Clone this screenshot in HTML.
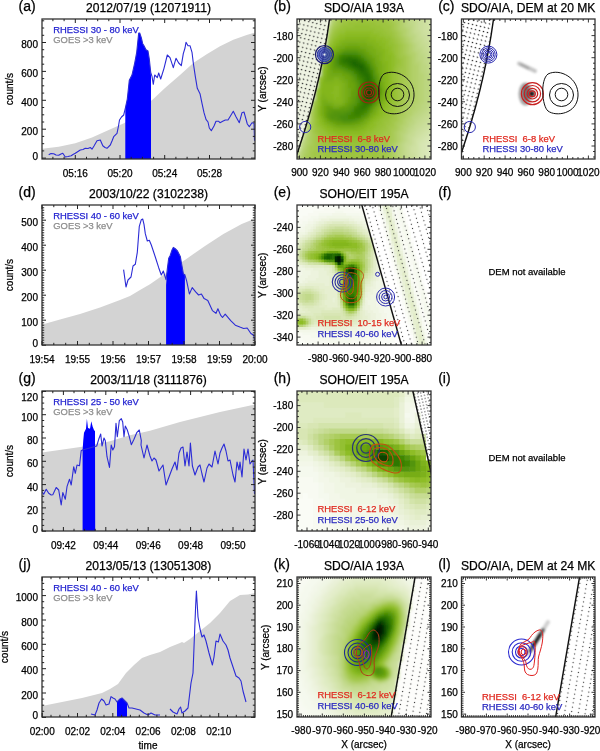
<!DOCTYPE html>
<html><head><meta charset="utf-8"><style>
html,body{margin:0;padding:0;background:#fff;}
svg{display:block;filter:blur(0.3px);}
text{font-family:"Liberation Sans", sans-serif;}
</style></head><body>
<svg width="600" height="751" viewBox="0 0 600 751">
<rect width="600" height="751" fill="#fff"/>
<g>
<clipPath id="cl0"><rect x="42" y="19" width="213" height="140"/></clipPath>
<g clip-path="url(#cl0)">
<polygon points="42.0,159.0 42.0,148.7 58.7,146.7 75.3,143.3 92.0,137.5 108.7,130.0 124.5,123.0 140.0,110.0 153.3,99.0 165.0,88.0 180.0,75.0 193.3,63.0 206.7,54.3 220.0,46.3 233.3,39.7 246.7,35.0 255.0,32.5 255.0,159.0" fill="#d3d3d3"/>
<polygon points="125.3,159.0 125.3,108.3 127.3,99.0 129.3,80.3 132.0,75.0 134.7,63.0 136.7,52.3 138.7,33.0 139.7,33.0 141.3,37.7 142.7,43.7 144.0,45.7 146.0,49.7 148.0,51.0 149.3,59.0 150.7,72.3 151.0,76.0 151.0,159.0" fill="#0000ff"/>
<polyline points="48.7,154.7 51.0,153.5 53.7,153.7 56.0,155.0 58.7,155.3 61.0,154.0 62.8,153.3 65.3,157.0 68.0,156.5 71.2,155.8 73.0,154.5 75.3,153.3 78.0,151.5 80.3,150.0 83.0,149.5 85.3,148.3 88.0,148.5 90.3,147.5 92.0,149.2 94.0,146.0 97.0,140.8 100.3,140.0 102.8,145.8 105.0,147.5 107.0,148.3 110.3,145.0 112.0,141.0 113.7,136.7 117.0,133.3 118.5,126.0 119.5,120.0 121.5,117.0 123.7,115.0 125.3,108.3 127.3,99.0 129.3,80.3 132.0,75.0 134.7,63.0 136.7,52.3 138.7,33.0 139.7,33.0 141.3,37.7 142.7,43.7 144.0,45.7 146.0,49.7 148.0,51.0 149.3,59.0 150.7,72.3 152.0,76.3 153.3,84.3 154.7,75.0 157.3,77.7 158.7,73.0 160.7,79.0 164.0,68.3 167.3,55.0 170.0,57.7 173.3,67.7 176.0,58.3 178.7,63.0 181.3,65.7 183.3,53.7 185.0,48.0 186.0,42.3 188.0,45.7 190.0,45.7 192.0,52.3 193.3,63.0 195.3,76.3 197.3,88.3 200.0,93.7 202.0,103.3 204.0,112.7 206.0,119.3 208.0,122.0 209.3,128.0 211.3,130.7 214.0,126.0 216.0,121.3 218.7,121.3 220.0,122.7 222.7,121.3 225.3,120.0 228.0,120.0 230.0,116.7 233.3,111.3 236.0,116.7 239.3,122.7 242.0,112.7 244.0,112.0 245.3,116.7 247.3,124.0 249.3,126.7 252.0,122.7 254.0,123.3 254.5,140.7" fill="none" stroke="#2b2bd6" stroke-width="1.1" stroke-linejoin="round"/>
</g>
<rect x="42" y="19" width="213" height="140" fill="none" stroke="#333" stroke-width="1.3"/>
<path d="M42,158.1h4M255,158.1h-4M42,129.2h4M255,129.2h-4M42,100.3h4M255,100.3h-4M42,71.4h4M255,71.4h-4M42,42.5h4M255,42.5h-4M42,150.9h2.2M255,150.9h-2.2M42,143.7h2.2M255,143.7h-2.2M42,136.4h2.2M255,136.4h-2.2M42,122.0h2.2M255,122.0h-2.2M42,114.8h2.2M255,114.8h-2.2M42,107.5h2.2M255,107.5h-2.2M42,93.1h2.2M255,93.1h-2.2M42,85.8h2.2M255,85.8h-2.2M42,78.6h2.2M255,78.6h-2.2M42,64.2h2.2M255,64.2h-2.2M42,56.9h2.2M255,56.9h-2.2M42,49.7h2.2M255,49.7h-2.2M42,35.3h2.2M255,35.3h-2.2M42,28.0h2.2M255,28.0h-2.2M42,20.8h2.2M255,20.8h-2.2" stroke="#222" stroke-width="1" fill="none"/>
<path d="M75.3,159v-4M75.3,19v4M120.0,159v-4M120.0,19v4M164.7,159v-4M164.7,19v4M209.5,159v-4M209.5,19v4M52.9,159v-2.2M52.9,19v2.2M64.1,159v-2.2M64.1,19v2.2M86.5,159v-2.2M86.5,19v2.2M97.7,159v-2.2M97.7,19v2.2M108.8,159v-2.2M108.8,19v2.2M131.2,159v-2.2M131.2,19v2.2M142.4,159v-2.2M142.4,19v2.2M153.6,159v-2.2M153.6,19v2.2M175.9,159v-2.2M175.9,19v2.2M187.1,159v-2.2M187.1,19v2.2M198.3,159v-2.2M198.3,19v2.2M220.6,159v-2.2M220.6,19v2.2M231.8,159v-2.2M231.8,19v2.2M243.0,159v-2.2M243.0,19v2.2" stroke="#222" stroke-width="1" fill="none"/>
<text x="53.3" y="33.0" font-size="9.4" text-anchor="start" fill="#2323d0" stroke="#2323d0" stroke-width="0.25" >RHESSI 30 - 80 keV</text>
<text x="53.3" y="43.4" font-size="9.4" text-anchor="start" fill="#8c8c8c" stroke="#8c8c8c" stroke-width="0.25" >GOES &gt;3 keV</text>
<text x="148.5" y="12.3" font-size="12.1" text-anchor="middle" fill="#000" stroke="#000" stroke-width="0.25" >2012/07/19 (12071911)</text>
<text x="18.5" y="10.8" font-size="14" text-anchor="start" fill="#000" stroke="#000" stroke-width="0.25" >(a)</text>
<text x="38.0" y="160.1" font-size="10.0" text-anchor="end" fill="#000" stroke="#000" stroke-width="0.25" >0</text>
<text x="38.0" y="134.8" font-size="10.0" text-anchor="end" fill="#000" stroke="#000" stroke-width="0.25" >200</text>
<text x="38.0" y="105.9" font-size="10.0" text-anchor="end" fill="#000" stroke="#000" stroke-width="0.25" >400</text>
<text x="38.0" y="77.0" font-size="10.0" text-anchor="end" fill="#000" stroke="#000" stroke-width="0.25" >600</text>
<text x="38.0" y="48.1" font-size="10.0" text-anchor="end" fill="#000" stroke="#000" stroke-width="0.25" >800</text>
<text x="75.3" y="176.5" font-size="10.0" text-anchor="middle" fill="#000" stroke="#000" stroke-width="0.25" >05:16</text>
<text x="120.0" y="176.5" font-size="10.0" text-anchor="middle" fill="#000" stroke="#000" stroke-width="0.25" >05:20</text>
<text x="164.7" y="176.5" font-size="10.0" text-anchor="middle" fill="#000" stroke="#000" stroke-width="0.25" >05:24</text>
<text x="209.5" y="176.5" font-size="10.0" text-anchor="middle" fill="#000" stroke="#000" stroke-width="0.25" >05:28</text>
<text transform="translate(12.6,89) rotate(-90)" font-size="10.0" text-anchor="middle" stroke="#000" stroke-width="0.25">count/s</text>
</g>
<g>
<clipPath id="cl1"><rect x="42" y="205" width="213" height="140"/></clipPath>
<g clip-path="url(#cl1)">
<polygon points="42.0,345.0 42.4,324.4 60.0,319.6 80.0,314.0 100.0,307.6 120.0,300.0 130.0,296.0 140.0,290.0 150.0,284.2 168.3,271.6 186.7,258.7 205.0,245.9 223.4,234.0 241.7,223.9 250.9,220.2 255.0,219.5 255.0,345.0" fill="#d3d3d3"/>
<polygon points="166.1,345.0 166.1,285.0 167.4,268.3 168.7,258.3 170.2,255.5 172.0,250.0 173.3,247.4 175.0,248.5 177.5,251.0 180.3,256.4 181.3,262.3 182.1,266.5 183.4,273.9 184.9,274.8 184.9,345.0" fill="#0000ff"/>
<polyline points="123.6,269.6 126.0,287.0 128.0,280.0 131.0,277.0 133.0,266.0 135.3,264.3 137.3,252.3 139.3,226.3 141.3,219.7 142.7,219.0 144.0,224.3 145.3,233.7 147.3,241.0 149.3,240.3 151.3,245.0 155.3,257.0 158.7,267.7 161.3,275.0 163.3,271.0 166.0,279.7 167.4,268.3 168.7,258.3 170.2,255.5 172.0,250.0 173.3,247.4 175.0,248.5 177.5,251.0 180.3,256.4 181.3,262.3 182.1,266.5 183.4,273.9 184.9,274.8 186.7,281.2 189.4,294.0 192.2,287.6 195.9,292.2 198.6,295.0 201.4,294.0 204.1,298.6 207.8,300.5 212.4,310.6 216.0,313.3 217.9,308.7 220.6,315.1 222.5,317.5 225.2,314.2 230.7,320.6 235.3,325.2 239.9,327.1 243.6,328.5 247.2,328.0 250.9,333.5 253.7,335.3 254.6,340.0" fill="none" stroke="#2b2bd6" stroke-width="1.1" stroke-linejoin="round"/>
</g>
<rect x="42" y="205" width="213" height="140" fill="none" stroke="#333" stroke-width="1.3"/>
<path d="M42,345.2h4M255,345.2h-4M42,320.2h4M255,320.2h-4M42,295.2h4M255,295.2h-4M42,270.2h4M255,270.2h-4M42,245.2h4M255,245.2h-4M42,220.2h4M255,220.2h-4M42,342.8h2.2M255,342.8h-2.2M42,340.2h2.2M255,340.2h-2.2M42,337.8h2.2M255,337.8h-2.2M42,335.2h2.2M255,335.2h-2.2M42,332.8h2.2M255,332.8h-2.2M42,330.2h2.2M255,330.2h-2.2M42,327.8h2.2M255,327.8h-2.2M42,325.2h2.2M255,325.2h-2.2M42,322.8h2.2M255,322.8h-2.2M42,317.8h2.2M255,317.8h-2.2M42,315.2h2.2M255,315.2h-2.2M42,312.8h2.2M255,312.8h-2.2M42,310.2h2.2M255,310.2h-2.2M42,307.8h2.2M255,307.8h-2.2M42,305.2h2.2M255,305.2h-2.2M42,302.8h2.2M255,302.8h-2.2M42,300.2h2.2M255,300.2h-2.2M42,297.8h2.2M255,297.8h-2.2M42,292.8h2.2M255,292.8h-2.2M42,290.2h2.2M255,290.2h-2.2M42,287.8h2.2M255,287.8h-2.2M42,285.2h2.2M255,285.2h-2.2M42,282.8h2.2M255,282.8h-2.2M42,280.2h2.2M255,280.2h-2.2M42,277.8h2.2M255,277.8h-2.2M42,275.2h2.2M255,275.2h-2.2M42,272.8h2.2M255,272.8h-2.2M42,267.8h2.2M255,267.8h-2.2M42,265.2h2.2M255,265.2h-2.2M42,262.8h2.2M255,262.8h-2.2M42,260.2h2.2M255,260.2h-2.2M42,257.8h2.2M255,257.8h-2.2M42,255.2h2.2M255,255.2h-2.2M42,252.8h2.2M255,252.8h-2.2M42,250.2h2.2M255,250.2h-2.2M42,247.8h2.2M255,247.8h-2.2M42,242.8h2.2M255,242.8h-2.2M42,240.2h2.2M255,240.2h-2.2M42,237.8h2.2M255,237.8h-2.2M42,235.2h2.2M255,235.2h-2.2M42,232.8h2.2M255,232.8h-2.2M42,230.2h2.2M255,230.2h-2.2M42,227.8h2.2M255,227.8h-2.2M42,225.2h2.2M255,225.2h-2.2M42,222.8h2.2M255,222.8h-2.2M42,217.8h2.2M255,217.8h-2.2M42,215.2h2.2M255,215.2h-2.2M42,212.8h2.2M255,212.8h-2.2M42,210.2h2.2M255,210.2h-2.2M42,207.8h2.2M255,207.8h-2.2" stroke="#222" stroke-width="1" fill="none"/>
<path d="M42.0,345v-4M42.0,205v4M77.5,345v-4M77.5,205v4M113.0,345v-4M113.0,205v4M148.5,345v-4M148.5,205v4M184.0,345v-4M184.0,205v4M219.5,345v-4M219.5,205v4M255.0,345v-4M255.0,205v4M53.8,345v-2.2M53.8,205v2.2M65.7,345v-2.2M65.7,205v2.2M89.3,345v-2.2M89.3,205v2.2M101.2,345v-2.2M101.2,205v2.2M124.8,345v-2.2M124.8,205v2.2M136.7,345v-2.2M136.7,205v2.2M160.3,345v-2.2M160.3,205v2.2M172.2,345v-2.2M172.2,205v2.2M195.8,345v-2.2M195.8,205v2.2M207.7,345v-2.2M207.7,205v2.2M231.3,345v-2.2M231.3,205v2.2M243.2,345v-2.2M243.2,205v2.2" stroke="#222" stroke-width="1" fill="none"/>
<text x="53.3" y="219.0" font-size="9.4" text-anchor="start" fill="#2323d0" stroke="#2323d0" stroke-width="0.25" >RHESSI 40 - 60 keV</text>
<text x="53.3" y="229.4" font-size="9.4" text-anchor="start" fill="#8c8c8c" stroke="#8c8c8c" stroke-width="0.25" >GOES &gt;3 keV</text>
<text x="148.5" y="198.3" font-size="12.1" text-anchor="middle" fill="#000" stroke="#000" stroke-width="0.25" >2003/10/22 (3102238)</text>
<text x="18.5" y="196.8" font-size="14" text-anchor="start" fill="#000" stroke="#000" stroke-width="0.25" >(d)</text>
<text x="38.0" y="346.5" font-size="10.0" text-anchor="end" fill="#000" stroke="#000" stroke-width="0.25" >0</text>
<text x="38.0" y="326.1" font-size="10.0" text-anchor="end" fill="#000" stroke="#000" stroke-width="0.25" >100</text>
<text x="38.0" y="301.1" font-size="10.0" text-anchor="end" fill="#000" stroke="#000" stroke-width="0.25" >200</text>
<text x="38.0" y="276.1" font-size="10.0" text-anchor="end" fill="#000" stroke="#000" stroke-width="0.25" >300</text>
<text x="38.0" y="251.0" font-size="10.0" text-anchor="end" fill="#000" stroke="#000" stroke-width="0.25" >400</text>
<text x="38.0" y="226.0" font-size="10.0" text-anchor="end" fill="#000" stroke="#000" stroke-width="0.25" >500</text>
<text x="42.0" y="362.5" font-size="10.0" text-anchor="middle" fill="#000" stroke="#000" stroke-width="0.25" >19:54</text>
<text x="77.5" y="362.5" font-size="10.0" text-anchor="middle" fill="#000" stroke="#000" stroke-width="0.25" >19:55</text>
<text x="113.0" y="362.5" font-size="10.0" text-anchor="middle" fill="#000" stroke="#000" stroke-width="0.25" >19:56</text>
<text x="148.5" y="362.5" font-size="10.0" text-anchor="middle" fill="#000" stroke="#000" stroke-width="0.25" >19:57</text>
<text x="184.0" y="362.5" font-size="10.0" text-anchor="middle" fill="#000" stroke="#000" stroke-width="0.25" >19:58</text>
<text x="219.5" y="362.5" font-size="10.0" text-anchor="middle" fill="#000" stroke="#000" stroke-width="0.25" >19:59</text>
<text x="255.0" y="362.5" font-size="10.0" text-anchor="middle" fill="#000" stroke="#000" stroke-width="0.25" >20:00</text>
<text transform="translate(12.6,275) rotate(-90)" font-size="10.0" text-anchor="middle" stroke="#000" stroke-width="0.25">count/s</text>
</g>
<g>
<clipPath id="cl2"><rect x="42" y="391" width="213" height="140"/></clipPath>
<g clip-path="url(#cl2)">
<polygon points="42.0,531.0 42.0,452.5 82.0,446.7 110.0,441.3 130.0,435.3 140.0,433.0 150.0,430.7 180.0,422.0 220.0,412.0 255.0,404.5 255.0,531.0" fill="#d3d3d3"/>
<polygon points="82.6,531.0 82.6,450.0 83.3,440.0 84.0,432.7 86.0,428.7 86.9,418.7 88.0,428.0 90.0,428.7 91.3,421.3 92.7,426.7 94.0,430.0 95.0,431.3 95.2,531.0" fill="#0000ff"/>
<polyline points="42.0,491.7 43.7,494.2 46.2,489.2 48.7,493.3 51.2,495.0 52.8,494.7 56.2,487.5 58.7,490.0 61.2,505.0 62.8,492.5 65.3,499.2 67.0,486.7 69.5,479.2 71.2,485.0 73.7,466.7 75.3,473.3 77.0,465.0 79.5,465.8 81.2,450.8 82.6,450.0 96.7,446.0 98.7,439.3 100.7,434.0 102.0,446.0 104.0,438.0 105.3,440.7 107.0,456.7 109.5,467.5 111.2,445.0 112.8,450.0 114.5,446.7 116.0,423.3 117.3,436.7 119.3,420.7 121.3,418.7 122.7,422.0 124.0,436.7 125.3,426.0 127.3,430.0 129.3,436.7 131.3,444.7 134.0,439.3 136.7,432.7 139.3,430.0 141.3,440.7 141.0,445.0 144.0,458.0 147.0,445.0 150.0,456.0 152.0,461.0 154.0,458.0 156.0,460.0 159.0,471.0 163.0,465.0 166.0,485.0 169.0,477.0 172.0,469.0 175.0,462.0 177.0,470.0 179.0,453.0 181.0,448.0 183.0,447.0 185.0,466.0 187.0,452.0 189.0,466.0 190.4,443.0 192.4,466.0 195.0,475.0 198.0,467.0 200.0,465.0 202.0,474.0 204.0,482.0 207.0,468.0 209.0,464.0 212.0,467.0 215.0,451.0 218.0,464.0 220.0,453.0 222.0,448.0 224.0,444.0 226.0,451.0 228.0,461.0 230.0,460.0 233.0,475.0 235.0,482.0 237.0,462.0 239.0,470.0 240.0,462.0 242.0,477.0 244.0,449.0 246.0,460.0 248.0,449.0 250.0,464.0 253.0,460.0 254.5,494.0" fill="none" stroke="#2b2bd6" stroke-width="1.1" stroke-linejoin="round"/>
</g>
<rect x="42" y="391" width="213" height="140" fill="none" stroke="#333" stroke-width="1.3"/>
<path d="M42,531.2h4M255,531.2h-4M42,507.9h4M255,507.9h-4M42,484.6h4M255,484.6h-4M42,461.3h4M255,461.3h-4M42,438.0h4M255,438.0h-4M42,414.7h4M255,414.7h-4M42,391.4h4M255,391.4h-4M42,525.4h2.2M255,525.4h-2.2M42,519.6h2.2M255,519.6h-2.2M42,513.7h2.2M255,513.7h-2.2M42,502.1h2.2M255,502.1h-2.2M42,496.3h2.2M255,496.3h-2.2M42,490.4h2.2M255,490.4h-2.2M42,478.8h2.2M255,478.8h-2.2M42,473.0h2.2M255,473.0h-2.2M42,467.1h2.2M255,467.1h-2.2M42,455.5h2.2M255,455.5h-2.2M42,449.7h2.2M255,449.7h-2.2M42,443.8h2.2M255,443.8h-2.2M42,432.2h2.2M255,432.2h-2.2M42,426.4h2.2M255,426.4h-2.2M42,420.5h2.2M255,420.5h-2.2M42,408.9h2.2M255,408.9h-2.2M42,403.1h2.2M255,403.1h-2.2M42,397.2h2.2M255,397.2h-2.2" stroke="#222" stroke-width="1" fill="none"/>
<path d="M63.4,531v-4M63.4,391v4M105.8,531v-4M105.8,391v4M148.2,531v-4M148.2,391v4M190.6,531v-4M190.6,391v4M233.0,531v-4M233.0,391v4M42.2,531v-2.2M42.2,391v2.2M52.8,531v-2.2M52.8,391v2.2M74.0,531v-2.2M74.0,391v2.2M84.6,531v-2.2M84.6,391v2.2M95.2,531v-2.2M95.2,391v2.2M116.4,531v-2.2M116.4,391v2.2M127.0,531v-2.2M127.0,391v2.2M137.6,531v-2.2M137.6,391v2.2M158.8,531v-2.2M158.8,391v2.2M169.4,531v-2.2M169.4,391v2.2M180.0,531v-2.2M180.0,391v2.2M201.2,531v-2.2M201.2,391v2.2M211.8,531v-2.2M211.8,391v2.2M222.4,531v-2.2M222.4,391v2.2M243.6,531v-2.2M243.6,391v2.2M254.2,531v-2.2M254.2,391v2.2" stroke="#222" stroke-width="1" fill="none"/>
<text x="53.3" y="405.0" font-size="9.4" text-anchor="start" fill="#2323d0" stroke="#2323d0" stroke-width="0.25" >RHESSI 25 - 50 keV</text>
<text x="53.3" y="415.4" font-size="9.4" text-anchor="start" fill="#8c8c8c" stroke="#8c8c8c" stroke-width="0.25" >GOES &gt;3 keV</text>
<text x="148.5" y="384.3" font-size="12.1" text-anchor="middle" fill="#000" stroke="#000" stroke-width="0.25" >2003/11/18 (3111876)</text>
<text x="18.5" y="382.8" font-size="14" text-anchor="start" fill="#000" stroke="#000" stroke-width="0.25" >(g)</text>
<text x="38.0" y="532.5" font-size="10.0" text-anchor="end" fill="#000" stroke="#000" stroke-width="0.25" >0</text>
<text x="38.0" y="514.0" font-size="10.0" text-anchor="end" fill="#000" stroke="#000" stroke-width="0.25" >20</text>
<text x="38.0" y="490.7" font-size="10.0" text-anchor="end" fill="#000" stroke="#000" stroke-width="0.25" >40</text>
<text x="38.0" y="467.4" font-size="10.0" text-anchor="end" fill="#000" stroke="#000" stroke-width="0.25" >60</text>
<text x="38.0" y="444.1" font-size="10.0" text-anchor="end" fill="#000" stroke="#000" stroke-width="0.25" >80</text>
<text x="38.0" y="420.8" font-size="10.0" text-anchor="end" fill="#000" stroke="#000" stroke-width="0.25" >100</text>
<text x="38.0" y="400.6" font-size="10.0" text-anchor="end" fill="#000" stroke="#000" stroke-width="0.25" >120</text>
<text x="63.4" y="548.5" font-size="10.0" text-anchor="middle" fill="#000" stroke="#000" stroke-width="0.25" >09:42</text>
<text x="105.8" y="548.5" font-size="10.0" text-anchor="middle" fill="#000" stroke="#000" stroke-width="0.25" >09:44</text>
<text x="148.2" y="548.5" font-size="10.0" text-anchor="middle" fill="#000" stroke="#000" stroke-width="0.25" >09:46</text>
<text x="190.6" y="548.5" font-size="10.0" text-anchor="middle" fill="#000" stroke="#000" stroke-width="0.25" >09:48</text>
<text x="233.0" y="548.5" font-size="10.0" text-anchor="middle" fill="#000" stroke="#000" stroke-width="0.25" >09:50</text>
<text transform="translate(12.6,461) rotate(-90)" font-size="10.0" text-anchor="middle" stroke="#000" stroke-width="0.25">count/s</text>
</g>
<g>
<clipPath id="cl3"><rect x="42" y="577" width="213" height="140"/></clipPath>
<g clip-path="url(#cl3)">
<polygon points="42.0,717.0 42.0,706.0 62.0,702.0 82.0,698.0 102.0,693.0 110.0,689.0 118.0,684.0 126.0,673.0 134.0,665.0 142.0,658.0 150.0,655.0 160.0,652.0 170.0,647.0 180.0,643.0 182.0,642.0 184.0,643.0 190.0,639.0 200.0,631.0 210.0,623.0 220.0,613.0 230.0,601.0 240.0,595.0 248.0,594.6 255.0,593.0 255.0,717.0" fill="#d3d3d3"/>
<polygon points="117.0,717.0 117.0,702.0 118.0,701.0 120.0,699.0 122.0,698.0 124.0,700.0 126.0,702.0 127.0,703.0 127.0,717.0" fill="#0000ff"/>
<polyline points="91.0,714.0 95.0,715.0 97.0,710.0 99.0,703.0 101.6,699.0 104.0,701.0 106.0,705.0 109.0,704.0 111.0,696.6 113.0,698.0 115.0,699.0 117.0,702.0 118.0,701.0 120.0,699.0 122.0,698.0 124.0,700.0 126.0,702.0 127.0,703.0 129.0,708.0 132.0,708.0 136.0,709.0 140.0,710.0 144.0,713.0 148.0,715.0 151.0,713.0 155.0,715.0 160.0,715.0" fill="none" stroke="#2b2bd6" stroke-width="1.1" stroke-linejoin="round"/>
<polyline points="170.0,709.0 173.0,712.0 177.0,714.0 179.0,709.0 180.6,707.0 182.0,713.0 185.0,711.0 188.0,708.0 191.0,683.0 193.0,673.0 194.4,637.0 195.6,607.0 196.4,591.0 198.0,617.0 200.0,629.0 202.0,637.0 204.0,635.0 206.0,641.0 209.0,653.0 212.4,665.0 214.0,657.0 216.0,641.0 218.4,642.0 220.0,634.0 223.0,641.0 226.0,645.0 228.0,650.0 230.0,658.0 233.0,667.0 236.0,676.0 239.0,678.0 241.0,681.0 243.0,691.0 246.0,702.0" fill="none" stroke="#2b2bd6" stroke-width="1.1" stroke-linejoin="round"/>
</g>
<rect x="42" y="577" width="213" height="140" fill="none" stroke="#333" stroke-width="1.3"/>
<path d="M42,717.4h4M255,717.4h-4M42,693.0h4M255,693.0h-4M42,668.7h4M255,668.7h-4M42,644.3h4M255,644.3h-4M42,620.0h4M255,620.0h-4M42,595.6h4M255,595.6h-4M42,711.3h2.2M255,711.3h-2.2M42,705.2h2.2M255,705.2h-2.2M42,699.1h2.2M255,699.1h-2.2M42,686.9h2.2M255,686.9h-2.2M42,680.9h2.2M255,680.9h-2.2M42,674.8h2.2M255,674.8h-2.2M42,662.6h2.2M255,662.6h-2.2M42,656.5h2.2M255,656.5h-2.2M42,650.4h2.2M255,650.4h-2.2M42,638.2h2.2M255,638.2h-2.2M42,632.1h2.2M255,632.1h-2.2M42,626.0h2.2M255,626.0h-2.2M42,613.9h2.2M255,613.9h-2.2M42,607.8h2.2M255,607.8h-2.2M42,601.7h2.2M255,601.7h-2.2M42,589.5h2.2M255,589.5h-2.2M42,583.4h2.2M255,583.4h-2.2" stroke="#222" stroke-width="1" fill="none"/>
<path d="M42.2,717v-4M42.2,577v4M77.5,717v-4M77.5,577v4M112.8,717v-4M112.8,577v4M148.1,717v-4M148.1,577v4M183.4,717v-4M183.4,577v4M218.7,717v-4M218.7,577v4M254.0,717v-4M254.0,577v4M51.0,717v-2.2M51.0,577v2.2M59.9,717v-2.2M59.9,577v2.2M68.7,717v-2.2M68.7,577v2.2M86.3,717v-2.2M86.3,577v2.2M95.2,717v-2.2M95.2,577v2.2M104.0,717v-2.2M104.0,577v2.2M121.6,717v-2.2M121.6,577v2.2M130.4,717v-2.2M130.4,577v2.2M139.3,717v-2.2M139.3,577v2.2M156.9,717v-2.2M156.9,577v2.2M165.8,717v-2.2M165.8,577v2.2M174.6,717v-2.2M174.6,577v2.2M192.2,717v-2.2M192.2,577v2.2M201.1,717v-2.2M201.1,577v2.2M209.9,717v-2.2M209.9,577v2.2M227.5,717v-2.2M227.5,577v2.2M236.3,717v-2.2M236.3,577v2.2M245.2,717v-2.2M245.2,577v2.2" stroke="#222" stroke-width="1" fill="none"/>
<text x="53.3" y="591.0" font-size="9.4" text-anchor="start" fill="#2323d0" stroke="#2323d0" stroke-width="0.25" >RHESSI 40 - 60 keV</text>
<text x="53.3" y="601.4" font-size="9.4" text-anchor="start" fill="#8c8c8c" stroke="#8c8c8c" stroke-width="0.25" >GOES &gt;3 keV</text>
<text x="148.5" y="570.3" font-size="12.1" text-anchor="middle" fill="#000" stroke="#000" stroke-width="0.25" >2013/05/13 (13051308)</text>
<text x="18.5" y="568.8" font-size="14" text-anchor="start" fill="#000" stroke="#000" stroke-width="0.25" >(j)</text>
<text x="38.0" y="718.5" font-size="10.0" text-anchor="end" fill="#000" stroke="#000" stroke-width="0.25" >0</text>
<text x="38.0" y="698.7" font-size="10.0" text-anchor="end" fill="#000" stroke="#000" stroke-width="0.25" >200</text>
<text x="38.0" y="674.4" font-size="10.0" text-anchor="end" fill="#000" stroke="#000" stroke-width="0.25" >400</text>
<text x="38.0" y="650.0" font-size="10.0" text-anchor="end" fill="#000" stroke="#000" stroke-width="0.25" >600</text>
<text x="38.0" y="625.7" font-size="10.0" text-anchor="end" fill="#000" stroke="#000" stroke-width="0.25" >800</text>
<text x="38.0" y="601.3" font-size="10.0" text-anchor="end" fill="#000" stroke="#000" stroke-width="0.25" >1000</text>
<text x="42.2" y="734.5" font-size="10.0" text-anchor="middle" fill="#000" stroke="#000" stroke-width="0.25" >02:00</text>
<text x="77.5" y="734.5" font-size="10.0" text-anchor="middle" fill="#000" stroke="#000" stroke-width="0.25" >02:02</text>
<text x="112.8" y="734.5" font-size="10.0" text-anchor="middle" fill="#000" stroke="#000" stroke-width="0.25" >02:04</text>
<text x="148.1" y="734.5" font-size="10.0" text-anchor="middle" fill="#000" stroke="#000" stroke-width="0.25" >02:06</text>
<text x="183.4" y="734.5" font-size="10.0" text-anchor="middle" fill="#000" stroke="#000" stroke-width="0.25" >02:08</text>
<text x="218.7" y="734.5" font-size="10.0" text-anchor="middle" fill="#000" stroke="#000" stroke-width="0.25" >02:10</text>
<text transform="translate(8.2,647) rotate(-90)" font-size="10.0" text-anchor="middle" stroke="#000" stroke-width="0.25">count/s</text>
</g>
<text x="148.0" y="749.0" font-size="10.0" text-anchor="middle" fill="#000" stroke="#000" stroke-width="0.25" >time</text>
<defs>
<pattern id="dotb" width="4.1" height="4.4" patternUnits="userSpaceOnUse" patternTransform="rotate(13.4)"><circle cx="2.05" cy="2.20" r="0.75" fill="#262626"/></pattern>
<pattern id="dote" width="6.5" height="4.4" patternUnits="userSpaceOnUse" patternTransform="rotate(-15.8)"><circle cx="3.25" cy="2.20" r="0.65" fill="#333"/></pattern>
<pattern id="doth" width="3.2" height="3.2" patternUnits="userSpaceOnUse" patternTransform="rotate(-12.6)"><circle cx="1.60" cy="1.60" r="0.6" fill="#2a2a2a"/></pattern>
<pattern id="dotk" width="6.8" height="4.4" patternUnits="userSpaceOnUse" patternTransform="rotate(9.7)"><circle cx="3.40" cy="2.20" r="0.65" fill="#333"/></pattern>
<filter id="bl15" x="-5%" y="-5%" width="110%" height="110%"><feGaussianBlur stdDeviation="1.5"/></filter>
<filter id="bl1" x="-5%" y="-5%" width="110%" height="110%"><feGaussianBlur stdDeviation="0.7"/></filter>
<filter id="bl05" x="-5%" y="-5%" width="110%" height="110%"><feGaussianBlur stdDeviation="0.45"/></filter>
<filter id="bl13" x="-50%" y="-50%" width="200%" height="200%"><feGaussianBlur stdDeviation="1.2"/></filter>
</defs>
<clipPath id="cb"><rect x="297" y="19" width="134" height="140"/></clipPath>
<g clip-path="url(#cb)">
<g filter="url(#bl15)">
<path fill="#f0f6e4" d="M291 13h33.6v3.6h-33.6zM291 16h30.6v3.6h-30.6zM291 19h30.6v3.6h-30.6zM291 22h30.6v3.6h-30.6zM291 25h30.6v3.6h-30.6zM291 28h30.6v3.6h-30.6zM291 31h30.6v3.6h-30.6zM291 34h30.6v3.6h-30.6zM291 37h27.6v3.6h-27.6zM291 40h27.6v3.6h-27.6zM291 43h27.6v3.6h-27.6zM291 46h27.6v3.6h-27.6zM291 49h27.6v3.6h-27.6zM291 52h24.6v3.6h-24.6zM291 55h24.6v3.6h-24.6zM291 58h24.6v3.6h-24.6zM291 61h24.6v3.6h-24.6zM291 64h24.6v3.6h-24.6zM291 67h21.6v3.6h-21.6zM291 70h21.6v3.6h-21.6zM291 73h21.6v3.6h-21.6zM291 76h21.6v3.6h-21.6zM291 79h21.6v3.6h-21.6zM291 82h18.6v3.6h-18.6zM291 85h18.6v3.6h-18.6zM291 88h18.6v3.6h-18.6zM291 91h18.6v3.6h-18.6zM291 94h15.6v3.6h-15.6zM291 97h15.6v3.6h-15.6zM291 100h15.6v3.6h-15.6zM291 103h15.6v3.6h-15.6zM291 106h12.6v3.6h-12.6zM291 109h12.6v3.6h-12.6zM291 112h12.6v3.6h-12.6zM291 115h9.6v3.6h-9.6zM291 118h9.6v3.6h-9.6zM291 121h9.6v3.6h-9.6zM291 124h9.6v3.6h-9.6zM291 127h6.6v3.6h-6.6zM291 130h6.6v3.6h-6.6zM291 133h6.6v3.6h-6.6zM291 136h3.6v3.6h-3.6zM291 139h3.6v3.6h-3.6zM291 142h3.6v3.6h-3.6z"/>
<path fill="#edf3de" d="M324 13h3.6v3.6h-3.6zM321 16h6.6v3.6h-6.6zM321 19h3.6v3.6h-3.6zM321 22h3.6v3.6h-3.6zM321 25h3.6v3.6h-3.6zM321 28h3.6v3.6h-3.6zM321 31h3.6v3.6h-3.6zM321 34h3.6v3.6h-3.6zM318 37h3.6v3.6h-3.6zM318 40h3.6v3.6h-3.6zM318 43h3.6v3.6h-3.6zM318 46h3.6v3.6h-3.6zM318 49h3.6v3.6h-3.6zM315 52h6.6v3.6h-6.6zM315 55h3.6v3.6h-3.6zM315 58h3.6v3.6h-3.6zM315 61h3.6v3.6h-3.6zM315 64h3.6v3.6h-3.6zM312 67h6.6v3.6h-6.6zM312 70h3.6v3.6h-3.6zM312 73h3.6v3.6h-3.6zM312 76h3.6v3.6h-3.6zM312 79h3.6v3.6h-3.6zM309 82h3.6v3.6h-3.6zM309 85h3.6v3.6h-3.6zM309 88h3.6v3.6h-3.6zM309 91h3.6v3.6h-3.6zM306 94h3.6v3.6h-3.6zM306 97h3.6v3.6h-3.6zM306 100h3.6v3.6h-3.6zM306 103h3.6v3.6h-3.6zM303 106h3.6v3.6h-3.6zM303 109h3.6v3.6h-3.6zM303 112h3.6v3.6h-3.6zM300 115h6.6v3.6h-6.6zM300 118h3.6v3.6h-3.6zM300 121h3.6v3.6h-3.6zM300 124h3.6v3.6h-3.6zM297 127h3.6v3.6h-3.6zM297 130h3.6v3.6h-3.6zM297 133h3.6v3.6h-3.6zM294 136h3.6v3.6h-3.6zM294 139h3.6v3.6h-3.6zM294 142h3.6v3.6h-3.6zM291 145h3.6v3.6h-3.6zM291 148h3.6v3.6h-3.6zM291 151h3.6v3.6h-3.6z"/>
<path fill="#e9f1d7" d="M324 19h3.6v3.6h-3.6zM324 22h3.6v3.6h-3.6zM324 25h3.6v3.6h-3.6zM324 28h3.6v3.6h-3.6zM321 37h3.6v3.6h-3.6zM321 40h3.6v3.6h-3.6zM321 43h3.6v3.6h-3.6zM321 46h3.6v3.6h-3.6zM318 55h3.6v3.6h-3.6zM318 58h3.6v3.6h-3.6zM318 61h3.6v3.6h-3.6zM315 70h3.6v3.6h-3.6zM315 73h3.6v3.6h-3.6zM315 76h3.6v3.6h-3.6zM312 82h3.6v3.6h-3.6zM312 85h3.6v3.6h-3.6zM312 88h3.6v3.6h-3.6zM309 94h3.6v3.6h-3.6zM309 97h3.6v3.6h-3.6zM309 100h3.6v3.6h-3.6zM306 106h3.6v3.6h-3.6zM306 109h3.6v3.6h-3.6zM303 118h3.6v3.6h-3.6zM303 121h3.6v3.6h-3.6zM300 127h3.6v3.6h-3.6zM300 130h3.6v3.6h-3.6zM297 136h3.6v3.6h-3.6zM297 139h3.6v3.6h-3.6zM294 145h3.6v3.6h-3.6zM294 148h3.6v3.6h-3.6zM291 154h3.6v3.6h-3.6zM291 157h3.6v3.6h-3.6z"/>
<path fill="#e6efd0" d="M327 13h3.6v3.6h-3.6zM327 16h3.6v3.6h-3.6zM324 31h3.6v3.6h-3.6zM324 34h3.6v3.6h-3.6zM324 37h3.6v3.6h-3.6zM321 49h3.6v3.6h-3.6zM321 52h3.6v3.6h-3.6zM318 64h3.6v3.6h-3.6zM318 67h3.6v3.6h-3.6zM315 79h3.6v3.6h-3.6zM312 91h3.6v3.6h-3.6zM309 103h3.6v3.6h-3.6zM306 112h3.6v3.6h-3.6zM306 115h3.6v3.6h-3.6zM303 124h3.6v3.6h-3.6zM300 133h3.6v3.6h-3.6zM297 142h3.6v3.6h-3.6zM297 145h3.6v3.6h-3.6zM294 151h3.6v3.6h-3.6zM291 160h3.6v3.6h-3.6z"/>
<path fill="#e3edc9" d="M327 19h3.6v3.6h-3.6zM327 22h3.6v3.6h-3.6zM324 40h3.6v3.6h-3.6zM321 55h3.6v3.6h-3.6zM321 58h3.6v3.6h-3.6zM318 70h3.6v3.6h-3.6zM315 82h3.6v3.6h-3.6zM315 85h3.6v3.6h-3.6zM312 94h3.6v3.6h-3.6zM312 97h3.6v3.6h-3.6zM309 106h3.6v3.6h-3.6zM306 118h3.6v3.6h-3.6zM303 127h3.6v3.6h-3.6zM300 136h3.6v3.6h-3.6zM294 154h3.6v3.6h-3.6zM291 163h3.6v3.6h-3.6z"/>
<path fill="#dfebc3" d="M324 43h3.6v3.6h-3.6zM318 73h3.6v3.6h-3.6zM297 148h3.6v3.6h-3.6z"/>
<path fill="#dce9bc" d="M435 136h3.6v3.6h-3.6zM429 139h9.6v3.6h-9.6zM426 142h12.6v3.6h-12.6zM426 145h12.6v3.6h-12.6zM426 148h12.6v3.6h-12.6zM426 151h12.6v3.6h-12.6zM426 154h12.6v3.6h-12.6zM429 157h9.6v3.6h-9.6zM432 160h6.6v3.6h-6.6z"/>
<path fill="#d8e6b4" d="M435 22h3.6v3.6h-3.6zM435 25h3.6v3.6h-3.6zM435 130h3.6v3.6h-3.6zM429 133h9.6v3.6h-9.6zM426 136h9.6v3.6h-9.6zM423 139h6.6v3.6h-6.6zM420 142h6.6v3.6h-6.6zM420 145h6.6v3.6h-6.6zM420 148h6.6v3.6h-6.6zM420 151h6.6v3.6h-6.6zM420 154h6.6v3.6h-6.6zM423 157h6.6v3.6h-6.6zM423 160h9.6v3.6h-9.6zM426 163h12.6v3.6h-12.6z"/>
<path fill="#d3e4ab" d="M432 13h6.6v3.6h-6.6zM429 16h9.6v3.6h-9.6zM429 19h9.6v3.6h-9.6zM429 22h6.6v3.6h-6.6zM429 25h6.6v3.6h-6.6zM429 28h9.6v3.6h-9.6zM429 31h9.6v3.6h-9.6zM432 34h6.6v3.6h-6.6zM432 37h6.6v3.6h-6.6zM435 40h3.6v3.6h-3.6zM435 124h3.6v3.6h-3.6zM429 127h9.6v3.6h-9.6zM426 130h9.6v3.6h-9.6zM423 133h6.6v3.6h-6.6zM420 136h6.6v3.6h-6.6zM417 139h6.6v3.6h-6.6zM417 142h3.6v3.6h-3.6zM417 145h3.6v3.6h-3.6zM417 148h3.6v3.6h-3.6zM417 151h3.6v3.6h-3.6zM417 154h3.6v3.6h-3.6zM417 157h6.6v3.6h-6.6zM420 160h3.6v3.6h-3.6zM420 163h6.6v3.6h-6.6z"/>
<path fill="#cfe1a3" d="M423 13h9.6v3.6h-9.6zM423 16h6.6v3.6h-6.6zM423 19h6.6v3.6h-6.6zM423 22h6.6v3.6h-6.6zM423 25h6.6v3.6h-6.6zM423 28h6.6v3.6h-6.6zM423 31h6.6v3.6h-6.6zM426 34h6.6v3.6h-6.6zM426 37h6.6v3.6h-6.6zM429 40h6.6v3.6h-6.6zM429 43h9.6v3.6h-9.6zM432 46h6.6v3.6h-6.6zM435 49h3.6v3.6h-3.6zM435 52h3.6v3.6h-3.6zM435 118h3.6v3.6h-3.6zM429 121h9.6v3.6h-9.6zM426 124h9.6v3.6h-9.6zM423 127h6.6v3.6h-6.6zM420 130h6.6v3.6h-6.6zM417 133h6.6v3.6h-6.6zM414 136h6.6v3.6h-6.6zM300 139h3.6v3.6h-3.6zM414 139h3.6v3.6h-3.6zM414 142h3.6v3.6h-3.6zM411 145h6.6v3.6h-6.6zM411 148h6.6v3.6h-6.6zM411 151h6.6v3.6h-6.6zM414 154h3.6v3.6h-3.6zM294 157h3.6v3.6h-3.6zM414 157h3.6v3.6h-3.6zM414 160h6.6v3.6h-6.6zM417 163h3.6v3.6h-3.6z"/>
<path fill="#cade9b" d="M417 13h6.6v3.6h-6.6zM417 16h6.6v3.6h-6.6zM417 19h6.6v3.6h-6.6zM417 22h6.6v3.6h-6.6zM417 25h6.6v3.6h-6.6zM417 28h6.6v3.6h-6.6zM420 31h3.6v3.6h-3.6zM420 34h6.6v3.6h-6.6zM423 37h3.6v3.6h-3.6zM423 40h6.6v3.6h-6.6zM426 43h3.6v3.6h-3.6zM426 46h6.6v3.6h-6.6zM429 49h6.6v3.6h-6.6zM429 52h6.6v3.6h-6.6zM432 55h6.6v3.6h-6.6zM432 58h6.6v3.6h-6.6zM435 61h3.6v3.6h-3.6zM435 112h3.6v3.6h-3.6zM429 115h9.6v3.6h-9.6zM426 118h9.6v3.6h-9.6zM423 121h6.6v3.6h-6.6zM420 124h6.6v3.6h-6.6zM417 127h6.6v3.6h-6.6zM303 130h3.6v3.6h-3.6zM414 130h6.6v3.6h-6.6zM414 133h3.6v3.6h-3.6zM411 136h3.6v3.6h-3.6zM411 139h3.6v3.6h-3.6zM411 142h3.6v3.6h-3.6zM408 145h3.6v3.6h-3.6zM408 148h3.6v3.6h-3.6zM408 151h3.6v3.6h-3.6zM408 154h6.6v3.6h-6.6zM411 157h3.6v3.6h-3.6zM411 160h3.6v3.6h-3.6zM414 163h3.6v3.6h-3.6z"/>
<path fill="#c6db92" d="M330 13h3.6v3.6h-3.6zM414 13h3.6v3.6h-3.6zM414 16h3.6v3.6h-3.6zM414 19h3.6v3.6h-3.6zM414 22h3.6v3.6h-3.6zM327 25h3.6v3.6h-3.6zM414 25h3.6v3.6h-3.6zM414 28h3.6v3.6h-3.6zM414 31h6.6v3.6h-6.6zM417 34h3.6v3.6h-3.6zM417 37h6.6v3.6h-6.6zM420 40h3.6v3.6h-3.6zM420 43h6.6v3.6h-6.6zM423 46h3.6v3.6h-3.6zM423 49h6.6v3.6h-6.6zM426 52h3.6v3.6h-3.6zM426 55h6.6v3.6h-6.6zM429 58h3.6v3.6h-3.6zM429 61h6.6v3.6h-6.6zM429 64h9.6v3.6h-9.6zM432 67h6.6v3.6h-6.6zM432 70h6.6v3.6h-6.6zM435 73h3.6v3.6h-3.6zM435 76h3.6v3.6h-3.6zM435 79h3.6v3.6h-3.6zM435 100h3.6v3.6h-3.6zM435 103h3.6v3.6h-3.6zM432 106h6.6v3.6h-6.6zM429 109h9.6v3.6h-9.6zM426 112h9.6v3.6h-9.6zM423 115h6.6v3.6h-6.6zM420 118h6.6v3.6h-6.6zM417 121h6.6v3.6h-6.6zM414 124h6.6v3.6h-6.6zM414 127h3.6v3.6h-3.6zM411 130h3.6v3.6h-3.6zM303 133h3.6v3.6h-3.6zM408 133h6.6v3.6h-6.6zM408 136h3.6v3.6h-3.6zM408 139h3.6v3.6h-3.6zM300 142h3.6v3.6h-3.6zM405 142h6.6v3.6h-6.6zM405 145h3.6v3.6h-3.6zM405 148h3.6v3.6h-3.6zM297 151h3.6v3.6h-3.6zM405 151h3.6v3.6h-3.6zM405 154h3.6v3.6h-3.6zM408 157h3.6v3.6h-3.6zM294 160h3.6v3.6h-3.6zM408 160h3.6v3.6h-3.6zM408 163h6.6v3.6h-6.6z"/>
<path fill="#c1d98a" d="M408 13h6.6v3.6h-6.6zM330 16h3.6v3.6h-3.6zM408 16h6.6v3.6h-6.6zM408 19h6.6v3.6h-6.6zM408 22h6.6v3.6h-6.6zM411 25h3.6v3.6h-3.6zM327 28h3.6v3.6h-3.6zM411 28h3.6v3.6h-3.6zM411 31h3.6v3.6h-3.6zM414 34h3.6v3.6h-3.6zM414 37h3.6v3.6h-3.6zM414 40h6.6v3.6h-6.6zM417 43h3.6v3.6h-3.6zM417 46h6.6v3.6h-6.6zM420 49h3.6v3.6h-3.6zM420 52h6.6v3.6h-6.6zM423 55h3.6v3.6h-3.6zM423 58h6.6v3.6h-6.6zM423 61h6.6v3.6h-6.6zM426 64h3.6v3.6h-3.6zM426 67h6.6v3.6h-6.6zM426 70h6.6v3.6h-6.6zM429 73h6.6v3.6h-6.6zM429 76h6.6v3.6h-6.6zM429 79h6.6v3.6h-6.6zM429 82h9.6v3.6h-9.6zM432 85h6.6v3.6h-6.6zM432 88h6.6v3.6h-6.6zM432 91h6.6v3.6h-6.6zM429 94h9.6v3.6h-9.6zM429 97h9.6v3.6h-9.6zM429 100h6.6v3.6h-6.6zM426 103h9.6v3.6h-9.6zM426 106h6.6v3.6h-6.6zM423 109h6.6v3.6h-6.6zM420 112h6.6v3.6h-6.6zM417 115h6.6v3.6h-6.6zM414 118h6.6v3.6h-6.6zM306 121h3.6v3.6h-3.6zM414 121h3.6v3.6h-3.6zM411 124h3.6v3.6h-3.6zM408 127h6.6v3.6h-6.6zM408 130h3.6v3.6h-3.6zM405 133h3.6v3.6h-3.6zM303 136h3.6v3.6h-3.6zM405 136h3.6v3.6h-3.6zM405 139h3.6v3.6h-3.6zM402 142h3.6v3.6h-3.6zM300 145h3.6v3.6h-3.6zM402 145h3.6v3.6h-3.6zM402 148h3.6v3.6h-3.6zM402 151h3.6v3.6h-3.6zM297 154h3.6v3.6h-3.6zM402 154h3.6v3.6h-3.6zM405 157h3.6v3.6h-3.6zM405 160h3.6v3.6h-3.6zM294 163h3.6v3.6h-3.6zM405 163h3.6v3.6h-3.6z"/>
<path fill="#bcd680" d="M405 13h3.6v3.6h-3.6zM405 16h3.6v3.6h-3.6zM330 19h3.6v3.6h-3.6zM405 19h3.6v3.6h-3.6zM405 22h3.6v3.6h-3.6zM405 25h6.6v3.6h-6.6zM408 28h3.6v3.6h-3.6zM327 31h3.6v3.6h-3.6zM408 31h3.6v3.6h-3.6zM408 34h6.6v3.6h-6.6zM411 37h3.6v3.6h-3.6zM411 40h3.6v3.6h-3.6zM414 43h3.6v3.6h-3.6zM414 46h3.6v3.6h-3.6zM414 49h6.6v3.6h-6.6zM417 52h3.6v3.6h-3.6zM417 55h6.6v3.6h-6.6zM417 58h6.6v3.6h-6.6zM420 61h3.6v3.6h-3.6zM420 64h6.6v3.6h-6.6zM420 67h6.6v3.6h-6.6zM420 70h6.6v3.6h-6.6zM423 73h6.6v3.6h-6.6zM423 76h6.6v3.6h-6.6zM423 79h6.6v3.6h-6.6zM423 82h6.6v3.6h-6.6zM423 85h9.6v3.6h-9.6zM423 88h9.6v3.6h-9.6zM423 91h9.6v3.6h-9.6zM423 94h6.6v3.6h-6.6zM423 97h6.6v3.6h-6.6zM423 100h6.6v3.6h-6.6zM420 103h6.6v3.6h-6.6zM420 106h6.6v3.6h-6.6zM417 109h6.6v3.6h-6.6zM414 112h6.6v3.6h-6.6zM411 115h6.6v3.6h-6.6zM411 118h3.6v3.6h-3.6zM408 121h6.6v3.6h-6.6zM306 124h3.6v3.6h-3.6zM408 124h3.6v3.6h-3.6zM306 127h3.6v3.6h-3.6zM405 127h3.6v3.6h-3.6zM405 130h3.6v3.6h-3.6zM402 133h3.6v3.6h-3.6zM402 136h3.6v3.6h-3.6zM303 139h3.6v3.6h-3.6zM402 139h3.6v3.6h-3.6zM399 142h3.6v3.6h-3.6zM399 145h3.6v3.6h-3.6zM300 148h3.6v3.6h-3.6zM399 148h3.6v3.6h-3.6zM399 151h3.6v3.6h-3.6zM399 154h3.6v3.6h-3.6zM297 157h3.6v3.6h-3.6zM402 157h3.6v3.6h-3.6zM402 160h3.6v3.6h-3.6zM402 163h3.6v3.6h-3.6z"/>
<path fill="#b7d374" d="M333 13h3.6v3.6h-3.6zM402 13h3.6v3.6h-3.6zM402 16h3.6v3.6h-3.6zM402 19h3.6v3.6h-3.6zM330 22h3.6v3.6h-3.6zM402 22h3.6v3.6h-3.6zM402 25h3.6v3.6h-3.6zM405 28h3.6v3.6h-3.6zM405 31h3.6v3.6h-3.6zM405 34h3.6v3.6h-3.6zM408 37h3.6v3.6h-3.6zM408 40h3.6v3.6h-3.6zM411 43h3.6v3.6h-3.6zM411 46h3.6v3.6h-3.6zM411 49h3.6v3.6h-3.6zM414 52h3.6v3.6h-3.6zM414 55h3.6v3.6h-3.6zM414 58h3.6v3.6h-3.6zM414 61h6.6v3.6h-6.6zM417 64h3.6v3.6h-3.6zM417 67h3.6v3.6h-3.6zM417 70h3.6v3.6h-3.6zM417 73h6.6v3.6h-6.6zM417 76h6.6v3.6h-6.6zM417 79h6.6v3.6h-6.6zM417 82h6.6v3.6h-6.6zM417 85h6.6v3.6h-6.6zM417 88h6.6v3.6h-6.6zM417 91h6.6v3.6h-6.6zM417 94h6.6v3.6h-6.6zM417 97h6.6v3.6h-6.6zM417 100h6.6v3.6h-6.6zM414 103h6.6v3.6h-6.6zM414 106h6.6v3.6h-6.6zM309 109h3.6v3.6h-3.6zM411 109h6.6v3.6h-6.6zM411 112h3.6v3.6h-3.6zM408 115h3.6v3.6h-3.6zM405 118h6.6v3.6h-6.6zM405 121h3.6v3.6h-3.6zM402 124h6.6v3.6h-6.6zM402 127h3.6v3.6h-3.6zM306 130h3.6v3.6h-3.6zM399 130h6.6v3.6h-6.6zM306 133h3.6v3.6h-3.6zM399 133h3.6v3.6h-3.6zM399 136h3.6v3.6h-3.6zM399 139h3.6v3.6h-3.6zM303 142h3.6v3.6h-3.6zM396 142h3.6v3.6h-3.6zM303 145h3.6v3.6h-3.6zM396 145h3.6v3.6h-3.6zM396 148h3.6v3.6h-3.6zM300 151h3.6v3.6h-3.6zM396 151h3.6v3.6h-3.6zM300 154h3.6v3.6h-3.6zM396 154h3.6v3.6h-3.6zM399 157h3.6v3.6h-3.6zM297 160h3.6v3.6h-3.6zM399 160h3.6v3.6h-3.6zM297 163h3.6v3.6h-3.6zM399 163h3.6v3.6h-3.6z"/>
<path fill="#b2d069" d="M396 13h6.6v3.6h-6.6zM333 16h3.6v3.6h-3.6zM396 16h6.6v3.6h-6.6zM333 19h3.6v3.6h-3.6zM399 19h3.6v3.6h-3.6zM399 22h3.6v3.6h-3.6zM330 25h3.6v3.6h-3.6zM399 25h3.6v3.6h-3.6zM399 28h6.6v3.6h-6.6zM402 31h3.6v3.6h-3.6zM327 34h3.6v3.6h-3.6zM402 34h3.6v3.6h-3.6zM405 37h3.6v3.6h-3.6zM405 40h3.6v3.6h-3.6zM408 43h3.6v3.6h-3.6zM408 46h3.6v3.6h-3.6zM408 49h3.6v3.6h-3.6zM408 52h6.6v3.6h-6.6zM411 55h3.6v3.6h-3.6zM411 58h3.6v3.6h-3.6zM411 61h3.6v3.6h-3.6zM411 64h6.6v3.6h-6.6zM411 67h6.6v3.6h-6.6zM411 70h6.6v3.6h-6.6zM411 73h6.6v3.6h-6.6zM411 76h6.6v3.6h-6.6zM411 79h6.6v3.6h-6.6zM411 82h6.6v3.6h-6.6zM414 85h3.6v3.6h-3.6zM411 88h6.6v3.6h-6.6zM411 91h6.6v3.6h-6.6zM411 94h6.6v3.6h-6.6zM411 97h6.6v3.6h-6.6zM411 100h6.6v3.6h-6.6zM408 103h6.6v3.6h-6.6zM408 106h6.6v3.6h-6.6zM405 109h6.6v3.6h-6.6zM309 112h3.6v3.6h-3.6zM405 112h6.6v3.6h-6.6zM309 115h3.6v3.6h-3.6zM405 115h3.6v3.6h-3.6zM309 118h3.6v3.6h-3.6zM402 118h3.6v3.6h-3.6zM402 121h3.6v3.6h-3.6zM399 124h3.6v3.6h-3.6zM399 127h3.6v3.6h-3.6zM396 130h3.6v3.6h-3.6zM396 133h3.6v3.6h-3.6zM306 136h3.6v3.6h-3.6zM396 136h3.6v3.6h-3.6zM306 139h3.6v3.6h-3.6zM396 139h3.6v3.6h-3.6zM306 142h3.6v3.6h-3.6zM393 142h3.6v3.6h-3.6zM393 145h3.6v3.6h-3.6zM303 148h3.6v3.6h-3.6zM393 148h3.6v3.6h-3.6zM303 151h3.6v3.6h-3.6zM393 151h3.6v3.6h-3.6zM393 154h3.6v3.6h-3.6zM300 157h3.6v3.6h-3.6zM396 157h3.6v3.6h-3.6zM300 160h3.6v3.6h-3.6zM396 160h3.6v3.6h-3.6zM396 163h3.6v3.6h-3.6z"/>
<path fill="#accd5e" d="M336 13h3.6v3.6h-3.6zM393 13h3.6v3.6h-3.6zM336 16h3.6v3.6h-3.6zM393 16h3.6v3.6h-3.6zM393 19h6.6v3.6h-6.6zM333 22h3.6v3.6h-3.6zM396 22h3.6v3.6h-3.6zM396 25h3.6v3.6h-3.6zM330 28h3.6v3.6h-3.6zM396 28h3.6v3.6h-3.6zM399 31h3.6v3.6h-3.6zM399 34h3.6v3.6h-3.6zM327 37h3.6v3.6h-3.6zM402 37h3.6v3.6h-3.6zM402 40h3.6v3.6h-3.6zM405 43h3.6v3.6h-3.6zM324 46h3.6v3.6h-3.6zM405 46h3.6v3.6h-3.6zM405 49h3.6v3.6h-3.6zM405 52h3.6v3.6h-3.6zM408 55h3.6v3.6h-3.6zM408 58h3.6v3.6h-3.6zM408 61h3.6v3.6h-3.6zM408 64h3.6v3.6h-3.6zM408 67h3.6v3.6h-3.6zM408 70h3.6v3.6h-3.6zM408 73h3.6v3.6h-3.6zM408 76h3.6v3.6h-3.6zM408 79h3.6v3.6h-3.6zM408 82h3.6v3.6h-3.6zM408 85h6.6v3.6h-6.6zM408 88h3.6v3.6h-3.6zM408 91h3.6v3.6h-3.6zM408 94h3.6v3.6h-3.6zM405 97h6.6v3.6h-6.6zM312 100h3.6v3.6h-3.6zM405 100h6.6v3.6h-6.6zM405 103h3.6v3.6h-3.6zM402 106h6.6v3.6h-6.6zM402 109h3.6v3.6h-3.6zM402 112h3.6v3.6h-3.6zM399 115h6.6v3.6h-6.6zM399 118h3.6v3.6h-3.6zM309 121h3.6v3.6h-3.6zM396 121h6.6v3.6h-6.6zM309 124h3.6v3.6h-3.6zM396 124h3.6v3.6h-3.6zM309 127h3.6v3.6h-3.6zM396 127h3.6v3.6h-3.6zM309 130h3.6v3.6h-3.6zM393 130h3.6v3.6h-3.6zM309 133h3.6v3.6h-3.6zM393 133h3.6v3.6h-3.6zM309 136h3.6v3.6h-3.6zM393 136h3.6v3.6h-3.6zM309 139h3.6v3.6h-3.6zM393 139h3.6v3.6h-3.6zM309 142h3.6v3.6h-3.6zM390 142h3.6v3.6h-3.6zM306 145h3.6v3.6h-3.6zM390 145h3.6v3.6h-3.6zM306 148h3.6v3.6h-3.6zM390 148h3.6v3.6h-3.6zM306 151h3.6v3.6h-3.6zM390 151h3.6v3.6h-3.6zM303 154h3.6v3.6h-3.6zM390 154h3.6v3.6h-3.6zM303 157h3.6v3.6h-3.6zM393 157h3.6v3.6h-3.6zM303 160h3.6v3.6h-3.6zM393 160h3.6v3.6h-3.6zM300 163h3.6v3.6h-3.6zM393 163h3.6v3.6h-3.6z"/>
<path fill="#a7ca53" d="M339 13h3.6v3.6h-3.6zM390 13h3.6v3.6h-3.6zM339 16h3.6v3.6h-3.6zM390 16h3.6v3.6h-3.6zM336 19h3.6v3.6h-3.6zM390 19h3.6v3.6h-3.6zM336 22h3.6v3.6h-3.6zM393 22h3.6v3.6h-3.6zM333 25h3.6v3.6h-3.6zM393 25h3.6v3.6h-3.6zM393 28h3.6v3.6h-3.6zM330 31h3.6v3.6h-3.6zM396 31h3.6v3.6h-3.6zM396 34h3.6v3.6h-3.6zM399 37h3.6v3.6h-3.6zM327 40h3.6v3.6h-3.6zM399 40h3.6v3.6h-3.6zM402 43h3.6v3.6h-3.6zM402 46h3.6v3.6h-3.6zM402 49h3.6v3.6h-3.6zM402 52h3.6v3.6h-3.6zM405 55h3.6v3.6h-3.6zM405 58h3.6v3.6h-3.6zM405 61h3.6v3.6h-3.6zM405 64h3.6v3.6h-3.6zM405 67h3.6v3.6h-3.6zM405 70h3.6v3.6h-3.6zM405 73h3.6v3.6h-3.6zM402 76h6.6v3.6h-6.6zM402 79h6.6v3.6h-6.6zM402 82h6.6v3.6h-6.6zM402 85h6.6v3.6h-6.6zM315 88h3.6v3.6h-3.6zM402 88h6.6v3.6h-6.6zM402 91h6.6v3.6h-6.6zM402 94h6.6v3.6h-6.6zM402 97h3.6v3.6h-3.6zM402 100h3.6v3.6h-3.6zM312 103h3.6v3.6h-3.6zM399 103h6.6v3.6h-6.6zM399 106h3.6v3.6h-3.6zM399 109h3.6v3.6h-3.6zM396 112h6.6v3.6h-6.6zM396 115h3.6v3.6h-3.6zM396 118h3.6v3.6h-3.6zM393 121h3.6v3.6h-3.6zM393 124h3.6v3.6h-3.6zM390 127h6.6v3.6h-6.6zM390 130h3.6v3.6h-3.6zM312 133h3.6v3.6h-3.6zM390 133h3.6v3.6h-3.6zM312 136h3.6v3.6h-3.6zM387 136h6.6v3.6h-6.6zM312 139h3.6v3.6h-3.6zM387 139h6.6v3.6h-6.6zM312 142h3.6v3.6h-3.6zM387 142h3.6v3.6h-3.6zM309 145h6.6v3.6h-6.6zM387 145h3.6v3.6h-3.6zM309 148h6.6v3.6h-6.6zM387 148h3.6v3.6h-3.6zM309 151h3.6v3.6h-3.6zM387 151h3.6v3.6h-3.6zM306 154h6.6v3.6h-6.6zM387 154h3.6v3.6h-3.6zM306 157h6.6v3.6h-6.6zM387 157h6.6v3.6h-6.6zM306 160h3.6v3.6h-3.6zM387 160h6.6v3.6h-6.6zM303 163h6.6v3.6h-6.6zM390 163h3.6v3.6h-3.6z"/>
<path fill="#a2c748" d="M342 13h9.6v3.6h-9.6zM375 13h15.6v3.6h-15.6zM342 16h6.6v3.6h-6.6zM378 16h12.6v3.6h-12.6zM339 19h6.6v3.6h-6.6zM384 19h6.6v3.6h-6.6zM339 22h3.6v3.6h-3.6zM387 22h6.6v3.6h-6.6zM336 25h3.6v3.6h-3.6zM390 25h3.6v3.6h-3.6zM333 28h3.6v3.6h-3.6zM390 28h3.6v3.6h-3.6zM393 31h3.6v3.6h-3.6zM330 34h3.6v3.6h-3.6zM393 34h3.6v3.6h-3.6zM396 37h3.6v3.6h-3.6zM396 40h3.6v3.6h-3.6zM399 43h3.6v3.6h-3.6zM399 46h3.6v3.6h-3.6zM324 49h3.6v3.6h-3.6zM399 49h3.6v3.6h-3.6zM399 52h3.6v3.6h-3.6zM399 55h6.6v3.6h-6.6zM402 58h3.6v3.6h-3.6zM321 61h3.6v3.6h-3.6zM402 61h3.6v3.6h-3.6zM402 64h3.6v3.6h-3.6zM399 67h6.6v3.6h-6.6zM399 70h6.6v3.6h-6.6zM399 73h6.6v3.6h-6.6zM318 76h3.6v3.6h-3.6zM399 76h3.6v3.6h-3.6zM399 79h3.6v3.6h-3.6zM399 82h3.6v3.6h-3.6zM399 85h3.6v3.6h-3.6zM399 88h3.6v3.6h-3.6zM315 91h3.6v3.6h-3.6zM399 91h3.6v3.6h-3.6zM399 94h3.6v3.6h-3.6zM399 97h3.6v3.6h-3.6zM399 100h3.6v3.6h-3.6zM396 103h3.6v3.6h-3.6zM312 106h3.6v3.6h-3.6zM396 106h3.6v3.6h-3.6zM312 109h3.6v3.6h-3.6zM396 109h3.6v3.6h-3.6zM312 112h3.6v3.6h-3.6zM393 112h3.6v3.6h-3.6zM312 115h3.6v3.6h-3.6zM393 115h3.6v3.6h-3.6zM312 118h3.6v3.6h-3.6zM390 118h6.6v3.6h-6.6zM312 121h3.6v3.6h-3.6zM390 121h3.6v3.6h-3.6zM312 124h3.6v3.6h-3.6zM387 124h6.6v3.6h-6.6zM312 127h3.6v3.6h-3.6zM387 127h3.6v3.6h-3.6zM312 130h3.6v3.6h-3.6zM384 130h6.6v3.6h-6.6zM315 133h3.6v3.6h-3.6zM381 133h9.6v3.6h-9.6zM315 136h3.6v3.6h-3.6zM381 136h6.6v3.6h-6.6zM315 139h6.6v3.6h-6.6zM378 139h9.6v3.6h-9.6zM315 142h6.6v3.6h-6.6zM378 142h9.6v3.6h-9.6zM315 145h9.6v3.6h-9.6zM378 145h9.6v3.6h-9.6zM315 148h9.6v3.6h-9.6zM378 148h9.6v3.6h-9.6zM312 151h12.6v3.6h-12.6zM378 151h9.6v3.6h-9.6zM312 154h12.6v3.6h-12.6zM378 154h9.6v3.6h-9.6zM312 157h12.6v3.6h-12.6zM378 157h9.6v3.6h-9.6zM309 160h12.6v3.6h-12.6zM378 160h9.6v3.6h-9.6zM309 163h12.6v3.6h-12.6zM381 163h9.6v3.6h-9.6z"/>
<path fill="#9dc440" d="M351 13h24.6v3.6h-24.6zM348 16h30.6v3.6h-30.6zM345 19h12.6v3.6h-12.6zM366 19h18.6v3.6h-18.6zM342 22h6.6v3.6h-6.6zM375 22h12.6v3.6h-12.6zM339 25h3.6v3.6h-3.6zM381 25h9.6v3.6h-9.6zM336 28h3.6v3.6h-3.6zM384 28h6.6v3.6h-6.6zM333 31h3.6v3.6h-3.6zM387 31h6.6v3.6h-6.6zM390 34h3.6v3.6h-3.6zM330 37h3.6v3.6h-3.6zM393 37h3.6v3.6h-3.6zM393 40h3.6v3.6h-3.6zM327 43h3.6v3.6h-3.6zM396 43h3.6v3.6h-3.6zM396 46h3.6v3.6h-3.6zM396 49h3.6v3.6h-3.6zM324 52h3.6v3.6h-3.6zM396 52h3.6v3.6h-3.6zM396 55h3.6v3.6h-3.6zM399 58h3.6v3.6h-3.6zM399 61h3.6v3.6h-3.6zM321 64h3.6v3.6h-3.6zM396 64h6.6v3.6h-6.6zM396 67h3.6v3.6h-3.6zM396 70h3.6v3.6h-3.6zM396 73h3.6v3.6h-3.6zM396 76h3.6v3.6h-3.6zM318 79h3.6v3.6h-3.6zM396 79h3.6v3.6h-3.6zM396 82h3.6v3.6h-3.6zM396 85h3.6v3.6h-3.6zM396 88h3.6v3.6h-3.6zM396 91h3.6v3.6h-3.6zM315 94h3.6v3.6h-3.6zM396 94h3.6v3.6h-3.6zM315 97h3.6v3.6h-3.6zM396 97h3.6v3.6h-3.6zM396 100h3.6v3.6h-3.6zM393 103h3.6v3.6h-3.6zM393 106h3.6v3.6h-3.6zM393 109h3.6v3.6h-3.6zM390 112h3.6v3.6h-3.6zM390 115h3.6v3.6h-3.6zM387 118h3.6v3.6h-3.6zM384 121h6.6v3.6h-6.6zM384 124h3.6v3.6h-3.6zM315 127h3.6v3.6h-3.6zM381 127h6.6v3.6h-6.6zM315 130h3.6v3.6h-3.6zM378 130h6.6v3.6h-6.6zM318 133h3.6v3.6h-3.6zM375 133h6.6v3.6h-6.6zM318 136h6.6v3.6h-6.6zM372 136h9.6v3.6h-9.6zM321 139h6.6v3.6h-6.6zM369 139h9.6v3.6h-9.6zM321 142h12.6v3.6h-12.6zM369 142h9.6v3.6h-9.6zM324 145h15.6v3.6h-15.6zM363 145h15.6v3.6h-15.6zM324 148h21.6v3.6h-21.6zM360 148h18.6v3.6h-18.6zM324 151h54.6v3.6h-54.6zM324 154h54.6v3.6h-54.6zM324 157h54.6v3.6h-54.6zM321 160h57.6v3.6h-57.6zM321 163h60.6v3.6h-60.6z"/>
<path fill="#98c238" d="M357 19h9.6v3.6h-9.6zM348 22h27.6v3.6h-27.6zM342 25h12.6v3.6h-12.6zM369 25h12.6v3.6h-12.6zM339 28h6.6v3.6h-6.6zM375 28h9.6v3.6h-9.6zM336 31h3.6v3.6h-3.6zM381 31h6.6v3.6h-6.6zM333 34h3.6v3.6h-3.6zM384 34h6.6v3.6h-6.6zM390 37h3.6v3.6h-3.6zM330 40h3.6v3.6h-3.6zM390 40h3.6v3.6h-3.6zM393 43h3.6v3.6h-3.6zM327 46h3.6v3.6h-3.6zM393 46h3.6v3.6h-3.6zM393 49h3.6v3.6h-3.6zM393 52h3.6v3.6h-3.6zM396 58h3.6v3.6h-3.6zM396 61h3.6v3.6h-3.6zM321 67h3.6v3.6h-3.6zM393 67h3.6v3.6h-3.6zM393 70h3.6v3.6h-3.6zM393 73h3.6v3.6h-3.6zM393 76h3.6v3.6h-3.6zM393 79h3.6v3.6h-3.6zM318 82h3.6v3.6h-3.6zM393 82h3.6v3.6h-3.6zM393 85h3.6v3.6h-3.6zM393 88h3.6v3.6h-3.6zM393 91h3.6v3.6h-3.6zM393 94h3.6v3.6h-3.6zM393 97h3.6v3.6h-3.6zM315 100h3.6v3.6h-3.6zM393 100h3.6v3.6h-3.6zM315 103h3.6v3.6h-3.6zM390 103h3.6v3.6h-3.6zM390 106h3.6v3.6h-3.6zM387 109h6.6v3.6h-6.6zM387 112h3.6v3.6h-3.6zM384 115h6.6v3.6h-6.6zM315 118h3.6v3.6h-3.6zM381 118h6.6v3.6h-6.6zM315 121h3.6v3.6h-3.6zM381 121h3.6v3.6h-3.6zM315 124h3.6v3.6h-3.6zM378 124h6.6v3.6h-6.6zM318 127h3.6v3.6h-3.6zM375 127h6.6v3.6h-6.6zM318 130h6.6v3.6h-6.6zM372 130h6.6v3.6h-6.6zM321 133h6.6v3.6h-6.6zM369 133h6.6v3.6h-6.6zM324 136h9.6v3.6h-9.6zM366 136h6.6v3.6h-6.6zM327 139h15.6v3.6h-15.6zM357 139h12.6v3.6h-12.6zM333 142h36.6v3.6h-36.6zM339 145h24.6v3.6h-24.6zM345 148h15.6v3.6h-15.6z"/>
<path fill="#93c030" d="M354 25h15.6v3.6h-15.6zM345 28h30.6v3.6h-30.6zM339 31h6.6v3.6h-6.6zM372 31h9.6v3.6h-9.6zM336 34h3.6v3.6h-3.6zM378 34h6.6v3.6h-6.6zM333 37h3.6v3.6h-3.6zM384 37h6.6v3.6h-6.6zM387 40h3.6v3.6h-3.6zM330 43h3.6v3.6h-3.6zM387 43h6.6v3.6h-6.6zM390 46h3.6v3.6h-3.6zM327 49h3.6v3.6h-3.6zM390 49h3.6v3.6h-3.6zM324 55h3.6v3.6h-3.6zM393 55h3.6v3.6h-3.6zM324 58h3.6v3.6h-3.6zM393 58h3.6v3.6h-3.6zM393 61h3.6v3.6h-3.6zM393 64h3.6v3.6h-3.6zM321 70h3.6v3.6h-3.6zM321 73h3.6v3.6h-3.6zM390 73h3.6v3.6h-3.6zM390 76h3.6v3.6h-3.6zM390 79h3.6v3.6h-3.6zM318 85h3.6v3.6h-3.6zM390 97h3.6v3.6h-3.6zM390 100h3.6v3.6h-3.6zM387 103h3.6v3.6h-3.6zM315 106h3.6v3.6h-3.6zM387 106h3.6v3.6h-3.6zM315 109h3.6v3.6h-3.6zM384 109h3.6v3.6h-3.6zM315 112h3.6v3.6h-3.6zM384 112h3.6v3.6h-3.6zM315 115h3.6v3.6h-3.6zM381 115h3.6v3.6h-3.6zM378 118h3.6v3.6h-3.6zM375 121h6.6v3.6h-6.6zM318 124h3.6v3.6h-3.6zM375 124h3.6v3.6h-3.6zM321 127h3.6v3.6h-3.6zM372 127h3.6v3.6h-3.6zM324 130h3.6v3.6h-3.6zM366 130h6.6v3.6h-6.6zM327 133h9.6v3.6h-9.6zM363 133h6.6v3.6h-6.6zM333 136h33.6v3.6h-33.6zM342 139h15.6v3.6h-15.6z"/>
<path fill="#8ebd28" d="M345 31h27.6v3.6h-27.6zM339 34h6.6v3.6h-6.6zM369 34h9.6v3.6h-9.6zM336 37h3.6v3.6h-3.6zM375 37h9.6v3.6h-9.6zM333 40h3.6v3.6h-3.6zM381 40h6.6v3.6h-6.6zM384 43h3.6v3.6h-3.6zM384 46h6.6v3.6h-6.6zM387 49h3.6v3.6h-3.6zM387 52h6.6v3.6h-6.6zM390 55h3.6v3.6h-3.6zM390 58h3.6v3.6h-3.6zM324 61h3.6v3.6h-3.6zM390 61h3.6v3.6h-3.6zM390 64h3.6v3.6h-3.6zM390 67h3.6v3.6h-3.6zM390 70h3.6v3.6h-3.6zM321 76h3.6v3.6h-3.6zM390 82h3.6v3.6h-3.6zM390 85h3.6v3.6h-3.6zM318 88h3.6v3.6h-3.6zM390 88h3.6v3.6h-3.6zM318 91h3.6v3.6h-3.6zM390 91h3.6v3.6h-3.6zM318 94h3.6v3.6h-3.6zM390 94h3.6v3.6h-3.6zM387 100h3.6v3.6h-3.6zM384 103h3.6v3.6h-3.6zM384 106h3.6v3.6h-3.6zM381 109h3.6v3.6h-3.6zM381 112h3.6v3.6h-3.6zM378 115h3.6v3.6h-3.6zM318 118h3.6v3.6h-3.6zM375 118h3.6v3.6h-3.6zM318 121h3.6v3.6h-3.6zM372 121h3.6v3.6h-3.6zM321 124h3.6v3.6h-3.6zM369 124h6.6v3.6h-6.6zM324 127h3.6v3.6h-3.6zM366 127h6.6v3.6h-6.6zM327 130h6.6v3.6h-6.6zM360 130h6.6v3.6h-6.6zM336 133h27.6v3.6h-27.6z"/>
<path fill="#89ba21" d="M345 34h24.6v3.6h-24.6zM339 37h6.6v3.6h-6.6zM369 37h6.6v3.6h-6.6zM336 40h3.6v3.6h-3.6zM375 40h6.6v3.6h-6.6zM333 43h3.6v3.6h-3.6zM378 43h6.6v3.6h-6.6zM330 46h3.6v3.6h-3.6zM381 46h3.6v3.6h-3.6zM384 49h3.6v3.6h-3.6zM327 52h3.6v3.6h-3.6zM384 52h3.6v3.6h-3.6zM384 55h6.6v3.6h-6.6zM384 58h6.6v3.6h-6.6zM387 61h3.6v3.6h-3.6zM324 64h3.6v3.6h-3.6zM387 64h3.6v3.6h-3.6zM324 67h3.6v3.6h-3.6zM387 67h3.6v3.6h-3.6zM387 70h3.6v3.6h-3.6zM387 73h3.6v3.6h-3.6zM387 76h3.6v3.6h-3.6zM321 79h3.6v3.6h-3.6zM387 79h3.6v3.6h-3.6zM387 82h3.6v3.6h-3.6zM333 85h6.6v3.6h-6.6zM387 85h3.6v3.6h-3.6zM333 88h6.6v3.6h-6.6zM387 88h3.6v3.6h-3.6zM330 91h9.6v3.6h-9.6zM387 91h3.6v3.6h-3.6zM333 94h6.6v3.6h-6.6zM387 94h3.6v3.6h-3.6zM318 97h3.6v3.6h-3.6zM333 97h3.6v3.6h-3.6zM387 97h3.6v3.6h-3.6zM318 100h3.6v3.6h-3.6zM384 100h3.6v3.6h-3.6zM318 103h3.6v3.6h-3.6zM381 106h3.6v3.6h-3.6zM378 109h3.6v3.6h-3.6zM378 112h3.6v3.6h-3.6zM318 115h3.6v3.6h-3.6zM375 115h3.6v3.6h-3.6zM372 118h3.6v3.6h-3.6zM321 121h3.6v3.6h-3.6zM369 121h3.6v3.6h-3.6zM324 124h3.6v3.6h-3.6zM366 124h3.6v3.6h-3.6zM327 127h6.6v3.6h-6.6zM363 127h3.6v3.6h-3.6zM333 130h27.6v3.6h-27.6z"/>
<path fill="#83b61e" d="M345 37h24.6v3.6h-24.6zM339 40h3.6v3.6h-3.6zM366 40h9.6v3.6h-9.6zM336 43h3.6v3.6h-3.6zM372 43h6.6v3.6h-6.6zM333 46h3.6v3.6h-3.6zM375 46h6.6v3.6h-6.6zM330 49h3.6v3.6h-3.6zM378 49h6.6v3.6h-6.6zM381 52h3.6v3.6h-3.6zM327 55h3.6v3.6h-3.6zM381 55h3.6v3.6h-3.6zM327 58h3.6v3.6h-3.6zM381 58h3.6v3.6h-3.6zM381 61h6.6v3.6h-6.6zM384 64h3.6v3.6h-3.6zM384 67h3.6v3.6h-3.6zM324 70h3.6v3.6h-3.6zM384 70h3.6v3.6h-3.6zM324 73h3.6v3.6h-3.6zM384 73h3.6v3.6h-3.6zM384 76h3.6v3.6h-3.6zM333 79h6.6v3.6h-6.6zM384 79h3.6v3.6h-3.6zM321 82h21.6v3.6h-21.6zM384 82h3.6v3.6h-3.6zM321 85h12.6v3.6h-12.6zM339 85h3.6v3.6h-3.6zM384 85h3.6v3.6h-3.6zM321 88h12.6v3.6h-12.6zM339 88h3.6v3.6h-3.6zM321 91h9.6v3.6h-9.6zM339 91h3.6v3.6h-3.6zM324 94h9.6v3.6h-9.6zM339 94h3.6v3.6h-3.6zM384 94h3.6v3.6h-3.6zM327 97h6.6v3.6h-6.6zM336 97h6.6v3.6h-6.6zM384 97h3.6v3.6h-3.6zM333 100h9.6v3.6h-9.6zM381 103h3.6v3.6h-3.6zM318 106h3.6v3.6h-3.6zM378 106h3.6v3.6h-3.6zM318 109h3.6v3.6h-3.6zM318 112h3.6v3.6h-3.6zM375 112h3.6v3.6h-3.6zM372 115h3.6v3.6h-3.6zM321 118h3.6v3.6h-3.6zM369 118h3.6v3.6h-3.6zM366 121h3.6v3.6h-3.6zM327 124h3.6v3.6h-3.6zM363 124h3.6v3.6h-3.6zM333 127h6.6v3.6h-6.6zM357 127h6.6v3.6h-6.6z"/>
<path fill="#7db11b" d="M342 40h24.6v3.6h-24.6zM339 43h3.6v3.6h-3.6zM366 43h6.6v3.6h-6.6zM372 46h3.6v3.6h-3.6zM375 49h3.6v3.6h-3.6zM330 52h3.6v3.6h-3.6zM375 52h6.6v3.6h-6.6zM378 55h3.6v3.6h-3.6zM378 58h3.6v3.6h-3.6zM327 61h3.6v3.6h-3.6zM381 64h3.6v3.6h-3.6zM381 67h3.6v3.6h-3.6zM381 70h3.6v3.6h-3.6zM381 73h3.6v3.6h-3.6zM324 76h3.6v3.6h-3.6zM333 76h6.6v3.6h-6.6zM381 76h3.6v3.6h-3.6zM324 79h9.6v3.6h-9.6zM339 79h3.6v3.6h-3.6zM381 79h3.6v3.6h-3.6zM342 82h3.6v3.6h-3.6zM342 85h3.6v3.6h-3.6zM342 88h3.6v3.6h-3.6zM384 88h3.6v3.6h-3.6zM342 91h3.6v3.6h-3.6zM384 91h3.6v3.6h-3.6zM321 94h3.6v3.6h-3.6zM342 94h3.6v3.6h-3.6zM321 97h6.6v3.6h-6.6zM342 97h3.6v3.6h-3.6zM327 100h6.6v3.6h-6.6zM342 100h3.6v3.6h-3.6zM381 100h3.6v3.6h-3.6zM333 103h9.6v3.6h-9.6zM378 103h3.6v3.6h-3.6zM375 109h3.6v3.6h-3.6zM321 115h3.6v3.6h-3.6zM324 121h3.6v3.6h-3.6zM330 124h3.6v3.6h-3.6zM360 124h3.6v3.6h-3.6zM339 127h18.6v3.6h-18.6z"/>
<path fill="#77ad17" d="M342 43h6.6v3.6h-6.6zM357 43h9.6v3.6h-9.6zM336 46h3.6v3.6h-3.6zM366 46h6.6v3.6h-6.6zM333 49h3.6v3.6h-3.6zM369 49h6.6v3.6h-6.6zM372 52h3.6v3.6h-3.6zM330 55h3.6v3.6h-3.6zM375 55h3.6v3.6h-3.6zM375 58h3.6v3.6h-3.6zM378 61h3.6v3.6h-3.6zM327 64h3.6v3.6h-3.6zM378 64h3.6v3.6h-3.6zM327 67h3.6v3.6h-3.6zM378 67h3.6v3.6h-3.6zM327 70h3.6v3.6h-3.6zM378 70h3.6v3.6h-3.6zM327 73h3.6v3.6h-3.6zM327 76h6.6v3.6h-6.6zM339 76h3.6v3.6h-3.6zM342 79h3.6v3.6h-3.6zM345 82h3.6v3.6h-3.6zM381 82h3.6v3.6h-3.6zM345 85h3.6v3.6h-3.6zM381 85h3.6v3.6h-3.6zM345 88h3.6v3.6h-3.6zM345 91h3.6v3.6h-3.6zM345 94h3.6v3.6h-3.6zM381 94h3.6v3.6h-3.6zM345 97h3.6v3.6h-3.6zM381 97h3.6v3.6h-3.6zM321 100h6.6v3.6h-6.6zM321 103h3.6v3.6h-3.6zM330 103h3.6v3.6h-3.6zM342 103h3.6v3.6h-3.6zM321 106h3.6v3.6h-3.6zM375 106h3.6v3.6h-3.6zM321 109h3.6v3.6h-3.6zM321 112h3.6v3.6h-3.6zM372 112h3.6v3.6h-3.6zM369 115h3.6v3.6h-3.6zM324 118h3.6v3.6h-3.6zM366 118h3.6v3.6h-3.6zM327 121h3.6v3.6h-3.6zM363 121h3.6v3.6h-3.6zM333 124h3.6v3.6h-3.6zM354 124h6.6v3.6h-6.6z"/>
<path fill="#71a914" d="M348 43h9.6v3.6h-9.6zM339 46h6.6v3.6h-6.6zM360 46h6.6v3.6h-6.6zM336 49h3.6v3.6h-3.6zM366 49h3.6v3.6h-3.6zM333 52h3.6v3.6h-3.6zM369 52h3.6v3.6h-3.6zM372 55h3.6v3.6h-3.6zM330 58h3.6v3.6h-3.6zM375 61h3.6v3.6h-3.6zM375 64h3.6v3.6h-3.6zM330 70h3.6v3.6h-3.6zM330 73h12.6v3.6h-12.6zM378 73h3.6v3.6h-3.6zM342 76h3.6v3.6h-3.6zM378 76h3.6v3.6h-3.6zM345 79h3.6v3.6h-3.6zM348 88h3.6v3.6h-3.6zM381 88h3.6v3.6h-3.6zM348 91h3.6v3.6h-3.6zM381 91h3.6v3.6h-3.6zM348 94h3.6v3.6h-3.6zM345 100h3.6v3.6h-3.6zM378 100h3.6v3.6h-3.6zM324 103h6.6v3.6h-6.6zM333 106h6.6v3.6h-6.6zM372 109h3.6v3.6h-3.6zM369 112h3.6v3.6h-3.6zM363 118h3.6v3.6h-3.6zM330 121h3.6v3.6h-3.6zM360 121h3.6v3.6h-3.6zM336 124h18.6v3.6h-18.6z"/>
<path fill="#6ba411" d="M345 46h15.6v3.6h-15.6zM339 49h3.6v3.6h-3.6zM363 49h3.6v3.6h-3.6zM366 52h3.6v3.6h-3.6zM369 55h3.6v3.6h-3.6zM372 58h3.6v3.6h-3.6zM330 61h3.6v3.6h-3.6zM372 61h3.6v3.6h-3.6zM330 64h3.6v3.6h-3.6zM330 67h3.6v3.6h-3.6zM375 67h3.6v3.6h-3.6zM333 70h9.6v3.6h-9.6zM375 70h3.6v3.6h-3.6zM342 73h6.6v3.6h-6.6zM345 76h6.6v3.6h-6.6zM348 79h3.6v3.6h-3.6zM378 79h3.6v3.6h-3.6zM348 82h6.6v3.6h-6.6zM378 82h3.6v3.6h-3.6zM348 85h6.6v3.6h-6.6zM351 88h3.6v3.6h-3.6zM348 97h3.6v3.6h-3.6zM378 97h3.6v3.6h-3.6zM348 100h3.6v3.6h-3.6zM345 103h3.6v3.6h-3.6zM375 103h3.6v3.6h-3.6zM324 106h3.6v3.6h-3.6zM330 106h3.6v3.6h-3.6zM339 106h3.6v3.6h-3.6zM372 106h3.6v3.6h-3.6zM324 109h3.6v3.6h-3.6zM324 112h3.6v3.6h-3.6zM324 115h3.6v3.6h-3.6zM366 115h3.6v3.6h-3.6zM327 118h3.6v3.6h-3.6zM333 121h3.6v3.6h-3.6zM357 121h3.6v3.6h-3.6z"/>
<path fill="#629e0f" d="M342 49h3.6v3.6h-3.6zM357 49h6.6v3.6h-6.6zM336 52h3.6v3.6h-3.6zM363 52h3.6v3.6h-3.6zM333 55h3.6v3.6h-3.6zM366 55h3.6v3.6h-3.6zM369 58h3.6v3.6h-3.6zM372 64h3.6v3.6h-3.6zM333 67h6.6v3.6h-6.6zM342 70h3.6v3.6h-3.6zM348 73h3.6v3.6h-3.6zM375 73h3.6v3.6h-3.6zM351 76h3.6v3.6h-3.6zM351 79h3.6v3.6h-3.6zM354 82h3.6v3.6h-3.6zM354 85h3.6v3.6h-3.6zM378 85h3.6v3.6h-3.6zM354 88h3.6v3.6h-3.6zM351 91h6.6v3.6h-6.6zM351 94h6.6v3.6h-6.6zM378 94h3.6v3.6h-3.6zM351 97h3.6v3.6h-3.6zM351 100h3.6v3.6h-3.6zM375 100h3.6v3.6h-3.6zM348 103h3.6v3.6h-3.6zM327 106h3.6v3.6h-3.6zM342 106h6.6v3.6h-6.6zM327 109h3.6v3.6h-3.6zM369 109h3.6v3.6h-3.6zM360 118h3.6v3.6h-3.6zM336 121h6.6v3.6h-6.6zM351 121h6.6v3.6h-6.6z"/>
<path fill="#5a990c" d="M345 49h12.6v3.6h-12.6zM339 52h3.6v3.6h-3.6zM360 52h3.6v3.6h-3.6zM363 55h3.6v3.6h-3.6zM333 58h3.6v3.6h-3.6zM366 58h3.6v3.6h-3.6zM333 61h3.6v3.6h-3.6zM369 61h3.6v3.6h-3.6zM333 64h3.6v3.6h-3.6zM339 67h3.6v3.6h-3.6zM372 67h3.6v3.6h-3.6zM345 70h3.6v3.6h-3.6zM375 76h3.6v3.6h-3.6zM354 79h3.6v3.6h-3.6zM375 79h3.6v3.6h-3.6zM378 88h3.6v3.6h-3.6zM378 91h3.6v3.6h-3.6zM354 97h3.6v3.6h-3.6zM354 100h3.6v3.6h-3.6zM351 103h3.6v3.6h-3.6zM372 103h3.6v3.6h-3.6zM348 106h3.6v3.6h-3.6zM330 109h18.6v3.6h-18.6zM327 112h6.6v3.6h-6.6zM366 112h3.6v3.6h-3.6zM327 115h3.6v3.6h-3.6zM363 115h3.6v3.6h-3.6zM330 118h6.6v3.6h-6.6zM357 118h3.6v3.6h-3.6zM342 121h9.6v3.6h-9.6z"/>
<path fill="#529409" d="M357 52h3.6v3.6h-3.6zM336 55h3.6v3.6h-3.6zM336 64h3.6v3.6h-3.6zM369 64h3.6v3.6h-3.6zM342 67h3.6v3.6h-3.6zM348 70h3.6v3.6h-3.6zM372 70h3.6v3.6h-3.6zM351 73h3.6v3.6h-3.6zM372 73h3.6v3.6h-3.6zM354 76h3.6v3.6h-3.6zM357 82h3.6v3.6h-3.6zM375 82h3.6v3.6h-3.6zM357 85h3.6v3.6h-3.6zM357 88h3.6v3.6h-3.6zM357 91h3.6v3.6h-3.6zM375 97h3.6v3.6h-3.6zM354 103h3.6v3.6h-3.6zM351 106h3.6v3.6h-3.6zM369 106h3.6v3.6h-3.6zM348 109h3.6v3.6h-3.6zM333 112h12.6v3.6h-12.6zM330 115h9.6v3.6h-9.6zM360 115h3.6v3.6h-3.6zM336 118h6.6v3.6h-6.6zM354 118h3.6v3.6h-3.6z"/>
<path fill="#498e07" d="M342 52h15.6v3.6h-15.6zM360 55h3.6v3.6h-3.6zM336 58h3.6v3.6h-3.6zM363 58h3.6v3.6h-3.6zM336 61h3.6v3.6h-3.6zM366 61h3.6v3.6h-3.6zM339 64h3.6v3.6h-3.6zM345 67h3.6v3.6h-3.6zM369 67h3.6v3.6h-3.6zM351 70h3.6v3.6h-3.6zM354 73h3.6v3.6h-3.6zM372 76h3.6v3.6h-3.6zM357 79h3.6v3.6h-3.6zM375 85h3.6v3.6h-3.6zM357 94h3.6v3.6h-3.6zM357 97h3.6v3.6h-3.6zM357 100h3.6v3.6h-3.6zM351 109h3.6v3.6h-3.6zM366 109h3.6v3.6h-3.6zM345 112h6.6v3.6h-6.6zM363 112h3.6v3.6h-3.6zM339 115h9.6v3.6h-9.6zM342 118h12.6v3.6h-12.6z"/>
<path fill="#418706" d="M339 55h3.6v3.6h-3.6zM357 55h3.6v3.6h-3.6zM342 64h3.6v3.6h-3.6zM366 64h3.6v3.6h-3.6zM348 67h3.6v3.6h-3.6zM369 70h3.6v3.6h-3.6zM357 76h3.6v3.6h-3.6zM360 79h3.6v3.6h-3.6zM372 79h3.6v3.6h-3.6zM360 82h3.6v3.6h-3.6zM360 85h3.6v3.6h-3.6zM375 88h3.6v3.6h-3.6zM375 94h3.6v3.6h-3.6zM372 100h3.6v3.6h-3.6zM357 103h3.6v3.6h-3.6zM369 103h3.6v3.6h-3.6zM354 106h3.6v3.6h-3.6zM366 106h3.6v3.6h-3.6zM363 109h3.6v3.6h-3.6zM351 112h3.6v3.6h-3.6zM360 112h3.6v3.6h-3.6zM348 115h12.6v3.6h-12.6z"/>
<path fill="#388005" d="M342 55h6.6v3.6h-6.6zM351 55h6.6v3.6h-6.6zM339 58h3.6v3.6h-3.6zM360 58h3.6v3.6h-3.6zM339 61h3.6v3.6h-3.6zM363 61h3.6v3.6h-3.6zM345 64h3.6v3.6h-3.6zM351 67h3.6v3.6h-3.6zM354 70h3.6v3.6h-3.6zM357 73h3.6v3.6h-3.6zM369 73h3.6v3.6h-3.6zM360 76h3.6v3.6h-3.6zM372 82h3.6v3.6h-3.6zM360 88h3.6v3.6h-3.6zM360 91h3.6v3.6h-3.6zM375 91h3.6v3.6h-3.6zM360 94h3.6v3.6h-3.6zM360 97h3.6v3.6h-3.6zM360 100h3.6v3.6h-3.6zM360 103h3.6v3.6h-3.6zM357 106h3.6v3.6h-3.6zM354 109h9.6v3.6h-9.6zM354 112h6.6v3.6h-6.6z"/>
<path fill="#2f7805" d="M348 55h3.6v3.6h-3.6zM342 58h3.6v3.6h-3.6zM357 58h3.6v3.6h-3.6zM342 61h6.6v3.6h-6.6zM360 61h3.6v3.6h-3.6zM348 64h3.6v3.6h-3.6zM363 64h3.6v3.6h-3.6zM354 67h3.6v3.6h-3.6zM366 67h3.6v3.6h-3.6zM357 70h3.6v3.6h-3.6zM366 70h3.6v3.6h-3.6zM360 73h3.6v3.6h-3.6zM363 76h3.6v3.6h-3.6zM369 76h3.6v3.6h-3.6zM363 79h3.6v3.6h-3.6zM369 79h3.6v3.6h-3.6zM363 82h3.6v3.6h-3.6zM372 97h3.6v3.6h-3.6zM369 100h3.6v3.6h-3.6zM363 103h6.6v3.6h-6.6zM360 106h6.6v3.6h-6.6z"/>
<path fill="#267004" d="M345 58h12.6v3.6h-12.6zM348 61h3.6v3.6h-3.6zM357 61h3.6v3.6h-3.6zM351 64h3.6v3.6h-3.6zM357 67h3.6v3.6h-3.6zM363 67h3.6v3.6h-3.6zM360 70h6.6v3.6h-6.6zM363 73h6.6v3.6h-6.6zM366 76h3.6v3.6h-3.6zM366 79h3.6v3.6h-3.6zM366 82h6.6v3.6h-6.6zM363 85h3.6v3.6h-3.6zM372 85h3.6v3.6h-3.6zM363 100h6.6v3.6h-6.6z"/>
<path fill="#1f6604" d="M351 61h6.6v3.6h-6.6zM354 64h9.6v3.6h-9.6zM360 67h3.6v3.6h-3.6zM363 88h3.6v3.6h-3.6zM372 88h3.6v3.6h-3.6zM372 94h3.6v3.6h-3.6zM363 97h3.6v3.6h-3.6z"/>
<path fill="#175c03" d="M366 85h6.6v3.6h-6.6zM363 91h3.6v3.6h-3.6zM372 91h3.6v3.6h-3.6zM363 94h3.6v3.6h-3.6zM366 97h6.6v3.6h-6.6z"/>
<path fill="#105202" d="M366 88h3.6v3.6h-3.6z"/>
<path fill="#0a4302" d="M369 88h3.6v3.6h-3.6zM366 91h6.6v3.6h-6.6zM366 94h6.6v3.6h-6.6z"/>
</g>
<polygon points="292,12 330.5,12.0 330.0,16.0 329.4,20.0 328.8,24.0 328.2,28.0 327.6,32.0 327.0,36.0 326.3,40.0 325.6,44.0 324.9,48.0 324.1,52.0 323.4,56.0 322.6,60.0 321.8,64.0 320.9,68.0 320.1,72.0 319.2,76.0 318.3,80.0 317.3,84.0 316.4,88.0 315.4,92.0 314.4,96.0 313.3,100.0 312.3,104.0 311.2,108.0 310.1,112.0 308.9,116.0 307.8,120.0 306.6,124.0 305.4,128.0 304.2,132.0 302.9,136.0 301.6,140.0 300.3,144.0 299.0,148.0 297.7,152.0 296.3,156.0 294.9,160.0 293.5,164.0 292,164" fill="#eef3e2"/>
<polygon points="292,12 330.5,12.0 330.0,16.0 329.4,20.0 328.8,24.0 328.2,28.0 327.6,32.0 327.0,36.0 326.3,40.0 325.6,44.0 324.9,48.0 324.1,52.0 323.4,56.0 322.6,60.0 321.8,64.0 320.9,68.0 320.1,72.0 319.2,76.0 318.3,80.0 317.3,84.0 316.4,88.0 315.4,92.0 314.4,96.0 313.3,100.0 312.3,104.0 311.2,108.0 310.1,112.0 308.9,116.0 307.8,120.0 306.6,124.0 305.4,128.0 304.2,132.0 302.9,136.0 301.6,140.0 300.3,144.0 299.0,148.0 297.7,152.0 296.3,156.0 294.9,160.0 293.5,164.0 292,164" fill="url(#dotb)"/>
<polyline points="330.5,12.0 330.0,16.0 329.4,20.0 328.8,24.0 328.2,28.0 327.6,32.0 327.0,36.0 326.3,40.0 325.6,44.0 324.9,48.0 324.1,52.0 323.4,56.0 322.6,60.0 321.8,64.0 320.9,68.0 320.1,72.0 319.2,76.0 318.3,80.0 317.3,84.0 316.4,88.0 315.4,92.0 314.4,96.0 313.3,100.0 312.3,104.0 311.2,108.0 310.1,112.0 308.9,116.0 307.8,120.0 306.6,124.0 305.4,128.0 304.2,132.0 302.9,136.0 301.6,140.0 300.3,144.0 299.0,148.0 297.7,152.0 296.3,156.0 294.9,160.0 293.5,164.0" fill="none" stroke="#111" stroke-width="1.45"/>
</g>
<circle cx="324.4" cy="54.6" r="9" fill="none" fill-opacity="1" stroke="#1c1c70" stroke-width="1.2"/>
<circle cx="324.4" cy="54.6" r="7.2" fill="#4050c0" fill-opacity="0.8" stroke="#3038a8" stroke-width="1.0"/>
<circle cx="324.4" cy="54.6" r="5" fill="none" fill-opacity="1" stroke="#2a3090" stroke-width="0.8"/>
<circle cx="324.4" cy="54.6" r="3" fill="none" fill-opacity="1" stroke="#2a3090" stroke-width="0.8"/>
<circle cx="324.4" cy="54.6" r="1.1" fill="#f0f0f0" fill-opacity="1" stroke="none" stroke-width="0"/>
<circle cx="305.2" cy="127.0" r="5.6" fill="none" fill-opacity="1" stroke="#2a2ab0" stroke-width="1.0"/>
<circle cx="369.0" cy="92.5" r="10.5" fill="none" fill-opacity="1" stroke="#a02810" stroke-width="1.2"/>
<circle cx="369.0" cy="92.5" r="7.3" fill="none" fill-opacity="1" stroke="#a02810" stroke-width="1.2"/>
<circle cx="369.0" cy="92.5" r="4.5" fill="none" fill-opacity="1" stroke="#a02810" stroke-width="1.2"/>
<circle cx="369.0" cy="92.5" r="2.5" fill="none" fill-opacity="1" stroke="#a02810" stroke-width="1.2"/>
<path d="M384,74 C376,80 378,106 384,111 C392,117 413,114 414,96 C415,78 396,68 384,74 Z" fill="none" stroke="#111" stroke-width="1"/>
<ellipse cx="397.5" cy="95" rx="12" ry="11.5" fill="none" stroke="#111" stroke-width="1"/>
<circle cx="397.5" cy="94.5" r="6.3" fill="none" stroke="#111" stroke-width="1"/>
<rect x="297" y="19" width="134" height="140" fill="none" stroke="#333" stroke-width="1.3"/>
<path d="M299.5,159v-3.5M299.5,19v3.5M320.4,159v-3.5M320.4,19v3.5M341.3,159v-3.5M341.3,19v3.5M362.2,159v-3.5M362.2,19v3.5M383.1,159v-3.5M383.1,19v3.5M404.0,159v-3.5M404.0,19v3.5M424.9,159v-3.5M424.9,19v3.5M304.7,159v-2M304.7,19v2M309.9,159v-2M309.9,19v2M315.2,159v-2M315.2,19v2M325.6,159v-2M325.6,19v2M330.9,159v-2M330.9,19v2M336.1,159v-2M336.1,19v2M346.5,159v-2M346.5,19v2M351.8,159v-2M351.8,19v2M357.0,159v-2M357.0,19v2M367.4,159v-2M367.4,19v2M372.6,159v-2M372.6,19v2M377.9,159v-2M377.9,19v2M388.3,159v-2M388.3,19v2M393.6,159v-2M393.6,19v2M398.8,159v-2M398.8,19v2M409.2,159v-2M409.2,19v2M414.4,159v-2M414.4,19v2M419.7,159v-2M419.7,19v2M297,35.6h3.5M431,35.6h-3.5M297,57.7h3.5M431,57.7h-3.5M297,79.8h3.5M431,79.8h-3.5M297,101.8h3.5M431,101.8h-3.5M297,123.9h3.5M431,123.9h-3.5M297,146.0h3.5M431,146.0h-3.5M297,24.6h2M431,24.6h-2M297,30.1h2M431,30.1h-2M297,41.1h2M431,41.1h-2M297,46.6h2M431,46.6h-2M297,52.2h2M431,52.2h-2M297,63.2h2M431,63.2h-2M297,68.7h2M431,68.7h-2M297,74.2h2M431,74.2h-2M297,85.3h2M431,85.3h-2M297,90.8h2M431,90.8h-2M297,96.3h2M431,96.3h-2M297,107.4h2M431,107.4h-2M297,112.9h2M431,112.9h-2M297,118.4h2M431,118.4h-2M297,129.4h2M431,129.4h-2M297,135.0h2M431,135.0h-2M297,140.5h2M431,140.5h-2M297,151.5h2M431,151.5h-2M297,157.0h2M431,157.0h-2" stroke="#222" stroke-width="0.9" fill="none"/>
<text x="317.5" y="141.6" font-size="9.4" text-anchor="start" fill="#e02a20" stroke="#e02a20" stroke-width="0.25" xml:space="preserve">RHESSI  6-8 keV</text>
<text x="317.5" y="151.9" font-size="9.4" text-anchor="start" fill="#2a2ac0" stroke="#2a2ac0" stroke-width="0.25" xml:space="preserve">RHESSI 30-80 keV</text>
<text x="364.0" y="12.3" font-size="12.1" text-anchor="middle" fill="#000" stroke="#000" stroke-width="0.25" >SDO/AIA 193A</text>
<text x="273.7" y="10.8" font-size="14" text-anchor="start" fill="#000" stroke="#000" stroke-width="0.25" >(b)</text>
<text x="293.2" y="39.9" font-size="10.0" text-anchor="end" fill="#000" stroke="#000" stroke-width="0.25" >-180</text>
<text x="293.2" y="62.0" font-size="10.0" text-anchor="end" fill="#000" stroke="#000" stroke-width="0.25" >-200</text>
<text x="293.2" y="84.1" font-size="10.0" text-anchor="end" fill="#000" stroke="#000" stroke-width="0.25" >-220</text>
<text x="293.2" y="106.1" font-size="10.0" text-anchor="end" fill="#000" stroke="#000" stroke-width="0.25" >-240</text>
<text x="293.2" y="128.2" font-size="10.0" text-anchor="end" fill="#000" stroke="#000" stroke-width="0.25" >-260</text>
<text x="293.2" y="150.3" font-size="10.0" text-anchor="end" fill="#000" stroke="#000" stroke-width="0.25" >-280</text>
<text x="299.5" y="176.3" font-size="10.0" text-anchor="middle" fill="#000" stroke="#000" stroke-width="0.25" >900</text>
<text x="320.4" y="176.3" font-size="10.0" text-anchor="middle" fill="#000" stroke="#000" stroke-width="0.25" >920</text>
<text x="341.3" y="176.3" font-size="10.0" text-anchor="middle" fill="#000" stroke="#000" stroke-width="0.25" >940</text>
<text x="362.2" y="176.3" font-size="10.0" text-anchor="middle" fill="#000" stroke="#000" stroke-width="0.25" >960</text>
<text x="383.1" y="176.3" font-size="10.0" text-anchor="middle" fill="#000" stroke="#000" stroke-width="0.25" >980</text>
<text x="404.0" y="176.3" font-size="10.0" text-anchor="middle" fill="#000" stroke="#000" stroke-width="0.25" >1000</text>
<text x="424.9" y="176.3" font-size="10.0" text-anchor="middle" fill="#000" stroke="#000" stroke-width="0.25" >1020</text>
<text transform="translate(266,89) rotate(-90)" font-size="10.0" text-anchor="middle" stroke="#000" stroke-width="0.25">Y (arcsec)</text>
<clipPath id="cc"><rect x="461.5" y="19" width="133.5" height="140"/></clipPath>
<g clip-path="url(#cc)">
<polygon points="456.5,12 494.5,12.0 494.0,16.0 493.4,20.0 492.8,24.0 492.2,28.0 491.6,32.0 491.0,36.0 490.3,40.0 489.6,44.0 488.9,48.0 488.1,52.0 487.4,56.0 486.6,60.0 485.8,64.0 484.9,68.0 484.1,72.0 483.2,76.0 482.3,80.0 481.3,84.0 480.4,88.0 479.4,92.0 478.4,96.0 477.3,100.0 476.3,104.0 475.2,108.0 474.1,112.0 472.9,116.0 471.8,120.0 470.6,124.0 469.4,128.0 468.2,132.0 466.9,136.0 465.6,140.0 464.3,144.0 463.0,148.0 461.7,152.0 460.3,156.0 458.9,160.0 457.5,164.0 456.5,164" fill="url(#dotb)"/>
<polyline points="494.5,12.0 494.0,16.0 493.4,20.0 492.8,24.0 492.2,28.0 491.6,32.0 491.0,36.0 490.3,40.0 489.6,44.0 488.9,48.0 488.1,52.0 487.4,56.0 486.6,60.0 485.8,64.0 484.9,68.0 484.1,72.0 483.2,76.0 482.3,80.0 481.3,84.0 480.4,88.0 479.4,92.0 478.4,96.0 477.3,100.0 476.3,104.0 475.2,108.0 474.1,112.0 472.9,116.0 471.8,120.0 470.6,124.0 469.4,128.0 468.2,132.0 466.9,136.0 465.6,140.0 464.3,144.0 463.0,148.0 461.7,152.0 460.3,156.0 458.9,160.0 457.5,164.0" fill="none" stroke="#111" stroke-width="1.45"/>
</g>
<g filter="url(#bl13)"><line x1="519" y1="63.5" x2="535" y2="71" stroke="#c4c4c4" stroke-width="4" stroke-linecap="round"/><line x1="521" y1="64.5" x2="528" y2="68" stroke="#a8a8a8" stroke-width="3" stroke-linecap="round"/><ellipse cx="525.5" cy="94" rx="7" ry="11.5" fill="#a8a8a8"/><ellipse cx="526" cy="93" rx="4" ry="8.5" fill="#707070"/><circle cx="531.8" cy="93.7" r="3" fill="#202020"/></g>
<circle cx="488.4" cy="54.6" r="8.5" fill="none" fill-opacity="1" stroke="#2a2ab0" stroke-width="1.0"/>
<circle cx="488.4" cy="54.6" r="6.8" fill="none" fill-opacity="1" stroke="#2a2ab0" stroke-width="1.0"/>
<circle cx="488.4" cy="54.6" r="5.2" fill="none" fill-opacity="1" stroke="#2a2ab0" stroke-width="1.0"/>
<circle cx="488.4" cy="54.6" r="3.6" fill="none" fill-opacity="1" stroke="#2a2ab0" stroke-width="1.0"/>
<circle cx="488.4" cy="54.6" r="2.2" fill="none" fill-opacity="1" stroke="#2a2ab0" stroke-width="1.0"/>
<circle cx="469.8" cy="127.0" r="5.6" fill="none" fill-opacity="1" stroke="#2a2ab0" stroke-width="1.0"/>
<circle cx="532.4" cy="93.7" r="11" fill="none" fill-opacity="1" stroke="#c82020" stroke-width="1.2"/>
<circle cx="532.4" cy="93.7" r="8.2" fill="none" fill-opacity="1" stroke="#c82020" stroke-width="1.2"/>
<circle cx="532.4" cy="93.7" r="5.3" fill="none" fill-opacity="1" stroke="#c82020" stroke-width="1.2"/>
<circle cx="532.4" cy="93.7" r="2.9" fill="none" fill-opacity="1" stroke="#c82020" stroke-width="1.2"/>
<path d="M548.0,74 C540.0,80 542.0,106 548.0,111 C556.0,117 577.0,114 578.0,96 C579.0,78 560.0,68 548.0,74 Z" fill="none" stroke="#111" stroke-width="1"/>
<ellipse cx="561.5" cy="95" rx="12" ry="11.5" fill="none" stroke="#111" stroke-width="1"/>
<circle cx="561.5" cy="94.5" r="6.3" fill="none" stroke="#111" stroke-width="1"/>
<rect x="461.5" y="19" width="133.5" height="140" fill="none" stroke="#333" stroke-width="1.3"/>
<path d="M463.4,159v-3.5M463.4,19v3.5M484.2,159v-3.5M484.2,19v3.5M505.1,159v-3.5M505.1,19v3.5M525.9,159v-3.5M525.9,19v3.5M546.7,159v-3.5M546.7,19v3.5M567.5,159v-3.5M567.5,19v3.5M588.4,159v-3.5M588.4,19v3.5M468.6,159v-2M468.6,19v2M473.8,159v-2M473.8,19v2M479.0,159v-2M479.0,19v2M489.4,159v-2M489.4,19v2M494.6,159v-2M494.6,19v2M499.9,159v-2M499.9,19v2M510.3,159v-2M510.3,19v2M515.5,159v-2M515.5,19v2M520.7,159v-2M520.7,19v2M531.1,159v-2M531.1,19v2M536.3,159v-2M536.3,19v2M541.5,159v-2M541.5,19v2M551.9,159v-2M551.9,19v2M557.1,159v-2M557.1,19v2M562.3,159v-2M562.3,19v2M572.8,159v-2M572.8,19v2M578.0,159v-2M578.0,19v2M583.2,159v-2M583.2,19v2M461.5,35.6h3.5M595,35.6h-3.5M461.5,57.7h3.5M595,57.7h-3.5M461.5,79.8h3.5M595,79.8h-3.5M461.5,101.8h3.5M595,101.8h-3.5M461.5,123.9h3.5M595,123.9h-3.5M461.5,146.0h3.5M595,146.0h-3.5M461.5,24.6h2M595,24.6h-2M461.5,30.1h2M595,30.1h-2M461.5,41.1h2M595,41.1h-2M461.5,46.6h2M595,46.6h-2M461.5,52.2h2M595,52.2h-2M461.5,63.2h2M595,63.2h-2M461.5,68.7h2M595,68.7h-2M461.5,74.2h2M595,74.2h-2M461.5,85.3h2M595,85.3h-2M461.5,90.8h2M595,90.8h-2M461.5,96.3h2M595,96.3h-2M461.5,107.4h2M595,107.4h-2M461.5,112.9h2M595,112.9h-2M461.5,118.4h2M595,118.4h-2M461.5,129.4h2M595,129.4h-2M461.5,135.0h2M595,135.0h-2M461.5,140.5h2M595,140.5h-2M461.5,151.5h2M595,151.5h-2M461.5,157.0h2M595,157.0h-2" stroke="#222" stroke-width="0.9" fill="none"/>
<text x="482.5" y="141.6" font-size="9.4" text-anchor="start" fill="#e02a20" stroke="#e02a20" stroke-width="0.25" xml:space="preserve">RHESSI  6-8 keV</text>
<text x="482.5" y="151.9" font-size="9.4" text-anchor="start" fill="#2a2ac0" stroke="#2a2ac0" stroke-width="0.25" xml:space="preserve">RHESSI 30-80 keV</text>
<text x="528.2" y="12.3" font-size="12.1" text-anchor="middle" fill="#000" stroke="#000" stroke-width="0.25" >SDO/AIA, DEM at 20 MK</text>
<text x="438.2" y="10.8" font-size="14" text-anchor="start" fill="#000" stroke="#000" stroke-width="0.25" >(c)</text>
<text x="457.8" y="39.9" font-size="10.0" text-anchor="end" fill="#000" stroke="#000" stroke-width="0.25" >-180</text>
<text x="457.8" y="62.0" font-size="10.0" text-anchor="end" fill="#000" stroke="#000" stroke-width="0.25" >-200</text>
<text x="457.8" y="84.1" font-size="10.0" text-anchor="end" fill="#000" stroke="#000" stroke-width="0.25" >-220</text>
<text x="457.8" y="106.1" font-size="10.0" text-anchor="end" fill="#000" stroke="#000" stroke-width="0.25" >-240</text>
<text x="457.8" y="128.2" font-size="10.0" text-anchor="end" fill="#000" stroke="#000" stroke-width="0.25" >-260</text>
<text x="457.8" y="150.3" font-size="10.0" text-anchor="end" fill="#000" stroke="#000" stroke-width="0.25" >-280</text>
<text x="463.4" y="176.3" font-size="10.0" text-anchor="middle" fill="#000" stroke="#000" stroke-width="0.25" >900</text>
<text x="484.2" y="176.3" font-size="10.0" text-anchor="middle" fill="#000" stroke="#000" stroke-width="0.25" >920</text>
<text x="505.1" y="176.3" font-size="10.0" text-anchor="middle" fill="#000" stroke="#000" stroke-width="0.25" >940</text>
<text x="525.9" y="176.3" font-size="10.0" text-anchor="middle" fill="#000" stroke="#000" stroke-width="0.25" >960</text>
<text x="546.7" y="176.3" font-size="10.0" text-anchor="middle" fill="#000" stroke="#000" stroke-width="0.25" >980</text>
<text x="567.5" y="176.3" font-size="10.0" text-anchor="middle" fill="#000" stroke="#000" stroke-width="0.25" >1000</text>
<text x="588.4" y="176.3" font-size="10.0" text-anchor="middle" fill="#000" stroke="#000" stroke-width="0.25" >1020</text>
<clipPath id="ce"><rect x="297" y="205" width="134" height="140"/></clipPath>
<g clip-path="url(#ce)">
<g filter="url(#bl05)">
<path fill="#fdfdfb" d="M297 205h8.7v3.3h-8.7zM375.3 205h3.3v3.3h-3.3zM297 207.7h3.3v3.3h-3.3zM402.3 207.7h3.3v3.3h-3.3zM378 210.4h3.3v3.3h-3.3zM402.3 210.4h3.3v3.3h-3.3zM378 213.1h3.3v3.3h-3.3zM405 215.8h3.3v3.3h-3.3zM380.7 218.5h3.3v3.3h-3.3zM405 218.5h3.3v3.3h-3.3zM380.7 221.2h3.3v3.3h-3.3zM405 221.2h3.3v3.3h-3.3zM380.7 223.9h3.3v3.3h-3.3zM407.7 226.6h3.3v3.3h-3.3zM383.4 229.3h3.3v3.3h-3.3zM407.7 229.3h3.3v3.3h-3.3zM383.4 232h3.3v3.3h-3.3zM383.4 234.7h3.3v3.3h-3.3zM410.4 237.4h3.3v3.3h-3.3zM386.1 240.1h3.3v3.3h-3.3zM410.4 240.1h3.3v3.3h-3.3zM386.1 242.8h3.3v3.3h-3.3zM386.1 245.5h3.3v3.3h-3.3zM413.1 248.2h3.3v3.3h-3.3zM388.8 250.9h3.3v3.3h-3.3zM413.1 250.9h3.3v3.3h-3.3zM388.8 253.6h3.3v3.3h-3.3zM388.8 256.3h3.3v3.3h-3.3zM415.8 256.3h3.3v3.3h-3.3zM415.8 259h3.3v3.3h-3.3zM391.5 261.7h3.3v3.3h-3.3zM391.5 264.4h3.3v3.3h-3.3zM391.5 267.1h3.3v3.3h-3.3zM418.5 267.1h3.3v3.3h-3.3zM418.5 269.8h3.3v3.3h-3.3zM394.2 272.5h3.3v3.3h-3.3zM394.2 275.2h3.3v3.3h-3.3zM394.2 277.9h3.3v3.3h-3.3zM421.2 277.9h3.3v3.3h-3.3zM421.2 280.6h3.3v3.3h-3.3zM396.9 283.3h3.3v3.3h-3.3zM396.9 286h3.3v3.3h-3.3zM423.9 286h3.3v3.3h-3.3zM396.9 288.7h3.3v3.3h-3.3zM423.9 288.7h3.3v3.3h-3.3zM399.6 294.1h3.3v3.3h-3.3zM399.6 296.8h3.3v3.3h-3.3zM426.6 296.8h3.3v3.3h-3.3zM399.6 299.5h3.3v3.3h-3.3zM426.6 299.5h3.3v3.3h-3.3zM418.5 302.2h3.3v3.3h-3.3zM402.3 304.9h3.3v3.3h-3.3zM402.3 307.6h3.3v3.3h-3.3zM429.3 307.6h3.3v3.3h-3.3zM402.3 310.3h3.3v3.3h-3.3zM421.2 310.3h3.3v3.3h-3.3zM429.3 310.3h3.3v3.3h-3.3zM421.2 313h3.3v3.3h-3.3zM405 315.7h3.3v3.3h-3.3zM432 315.7h3.3v3.3h-3.3zM405 318.4h3.3v3.3h-3.3zM432 318.4h3.3v3.3h-3.3zM405 321.1h3.3v3.3h-3.3zM423.9 321.1h3.3v3.3h-3.3zM407.7 323.8h3.3v3.3h-3.3zM423.9 323.8h3.3v3.3h-3.3zM407.7 326.5h3.3v3.3h-3.3zM434.7 326.5h3.3v3.3h-3.3zM407.7 329.2h3.3v3.3h-3.3zM426.6 329.2h3.3v3.3h-3.3zM434.7 329.2h3.3v3.3h-3.3zM426.6 331.9h3.3v3.3h-3.3zM396.9 334.6h3.3v3.3h-3.3zM410.4 334.6h3.3v3.3h-3.3zM426.6 334.6h3.3v3.3h-3.3zM394.2 337.3h6v3.3h-6zM410.4 337.3h3.3v3.3h-3.3zM394.2 340h6v3.3h-6zM410.4 340h3.3v3.3h-3.3zM429.3 340h3.3v3.3h-3.3zM391.5 342.7h11.4v3.3h-11.4zM429.3 342.7h3.3v3.3h-3.3zM388.8 345.4h14.1v3.3h-14.1zM413.1 345.4h3.3v3.3h-3.3zM429.3 345.4h3.3v3.3h-3.3zM386.1 348.1h16.8v3.3h-16.8zM413.1 348.1h3.3v3.3h-3.3zM432 348.1h3.3v3.3h-3.3z"/>
<path fill="#fafcf6" d="M305.1 205h57.3v3.3h-57.3zM378 205h3.3v3.3h-3.3zM399.6 205h3.3v3.3h-3.3zM299.7 207.7h24.9v3.3h-24.9zM353.7 207.7h8.7v3.3h-8.7zM378 207.7h3.3v3.3h-3.3zM394.2 207.7h3.3v3.3h-3.3zM297 210.4h16.8v3.3h-16.8zM394.2 210.4h3.3v3.3h-3.3zM297 213.1h11.4v3.3h-11.4zM394.2 213.1h3.3v3.3h-3.3zM402.3 213.1h3.3v3.3h-3.3zM297 215.8h6v3.3h-6zM380.7 215.8h3.3v3.3h-3.3zM402.3 215.8h3.3v3.3h-3.3zM297 218.5h3.3v3.3h-3.3zM396.9 218.5h3.3v3.3h-3.3zM396.9 221.2h3.3v3.3h-3.3zM396.9 223.9h3.3v3.3h-3.3zM405 223.9h3.3v3.3h-3.3zM383.4 226.6h3.3v3.3h-3.3zM399.6 226.6h3.3v3.3h-3.3zM399.6 229.3h3.3v3.3h-3.3zM399.6 232h3.3v3.3h-3.3zM407.7 232h3.3v3.3h-3.3zM399.6 234.7h3.3v3.3h-3.3zM407.7 234.7h3.3v3.3h-3.3zM386.1 237.4h3.3v3.3h-3.3zM402.3 237.4h3.3v3.3h-3.3zM402.3 240.1h3.3v3.3h-3.3zM402.3 242.8h3.3v3.3h-3.3zM410.4 242.8h3.3v3.3h-3.3zM388.8 245.5h3.3v3.3h-3.3zM402.3 245.5h6v3.3h-6zM410.4 245.5h3.3v3.3h-3.3zM388.8 248.2h3.3v3.3h-3.3zM405 248.2h3.3v3.3h-3.3zM405 250.9h3.3v3.3h-3.3zM405 253.6h3.3v3.3h-3.3zM413.1 253.6h3.3v3.3h-3.3zM391.5 256.3h3.3v3.3h-3.3zM405 256.3h6v3.3h-6zM391.5 259h3.3v3.3h-3.3zM407.7 259h3.3v3.3h-3.3zM407.7 261.7h3.3v3.3h-3.3zM415.8 261.7h3.3v3.3h-3.3zM407.7 264.4h6v3.3h-6zM415.8 264.4h3.3v3.3h-3.3zM394.2 267.1h3.3v3.3h-3.3zM407.7 267.1h6v3.3h-6zM394.2 269.8h3.3v3.3h-3.3zM410.4 269.8h3.3v3.3h-3.3zM410.4 272.5h3.3v3.3h-3.3zM418.5 272.5h3.3v3.3h-3.3zM410.4 275.2h6v3.3h-6zM418.5 275.2h3.3v3.3h-3.3zM396.9 277.9h3.3v3.3h-3.3zM410.4 277.9h6v3.3h-6zM396.9 280.6h3.3v3.3h-3.3zM413.1 280.6h3.3v3.3h-3.3zM413.1 283.3h3.3v3.3h-3.3zM421.2 283.3h3.3v3.3h-3.3zM413.1 286h6v3.3h-6zM399.6 288.7h3.3v3.3h-3.3zM413.1 288.7h6v3.3h-6zM399.6 291.4h3.3v3.3h-3.3zM415.8 291.4h3.3v3.3h-3.3zM423.9 291.4h3.3v3.3h-3.3zM415.8 294.1h6v3.3h-6zM423.9 294.1h3.3v3.3h-3.3zM415.8 296.8h6v3.3h-6zM402.3 299.5h3.3v3.3h-3.3zM418.5 299.5h3.3v3.3h-3.3zM402.3 302.2h3.3v3.3h-3.3zM426.6 302.2h3.3v3.3h-3.3zM418.5 304.9h6v3.3h-6zM426.6 304.9h3.3v3.3h-3.3zM418.5 307.6h6v3.3h-6zM405 310.3h3.3v3.3h-3.3zM405 313h3.3v3.3h-3.3zM429.3 313h3.3v3.3h-3.3zM421.2 315.7h6v3.3h-6zM421.2 318.4h6v3.3h-6zM407.7 321.1h3.3v3.3h-3.3zM432 321.1h3.3v3.3h-3.3zM394.2 323.8h3.3v3.3h-3.3zM426.6 323.8h3.3v3.3h-3.3zM432 323.8h3.3v3.3h-3.3zM391.5 326.5h6v3.3h-6zM423.9 326.5h6v3.3h-6zM388.8 329.2h8.7v3.3h-8.7zM423.9 329.2h3.3v3.3h-3.3zM386.1 331.9h11.4v3.3h-11.4zM410.4 331.9h3.3v3.3h-3.3zM434.7 331.9h3.3v3.3h-3.3zM380.7 334.6h16.8v3.3h-16.8zM429.3 334.6h3.3v3.3h-3.3zM434.7 334.6h3.3v3.3h-3.3zM297 337.3h6v3.3h-6zM378 337.3h16.8v3.3h-16.8zM426.6 337.3h6v3.3h-6zM297 340h8.7v3.3h-8.7zM375.3 340h19.5v3.3h-19.5zM426.6 340h3.3v3.3h-3.3zM297 342.7h14.1v3.3h-14.1zM369.9 342.7h22.2v3.3h-22.2zM413.1 342.7h3.3v3.3h-3.3zM432 342.7h3.3v3.3h-3.3zM297 345.4h16.8v3.3h-16.8zM364.5 345.4h24.9v3.3h-24.9zM432 345.4h3.3v3.3h-3.3zM297 348.1h24.9v3.3h-24.9zM359.1 348.1h27.6v3.3h-27.6zM429.3 348.1h3.3v3.3h-3.3z"/>
<path fill="#f8faf2" d="M391.5 205h6v3.3h-6zM324 207.7h30.3v3.3h-30.3zM399.6 207.7h3.3v3.3h-3.3zM313.2 210.4h22.2v3.3h-22.2zM342.9 210.4h22.2v3.3h-22.2zM396.9 210.4h3.3v3.3h-3.3zM307.8 213.1h11.4v3.3h-11.4zM359.1 213.1h6v3.3h-6zM380.7 213.1h3.3v3.3h-3.3zM396.9 213.1h3.3v3.3h-3.3zM302.4 215.8h8.7v3.3h-8.7zM394.2 215.8h6v3.3h-6zM299.7 218.5h8.7v3.3h-8.7zM402.3 218.5h3.3v3.3h-3.3zM297 221.2h6v3.3h-6zM383.4 221.2h3.3v3.3h-3.3zM399.6 221.2h3.3v3.3h-3.3zM297 223.9h3.3v3.3h-3.3zM383.4 223.9h3.3v3.3h-3.3zM399.6 223.9h3.3v3.3h-3.3zM396.9 226.6h3.3v3.3h-3.3zM405 226.6h3.3v3.3h-3.3zM405 229.3h3.3v3.3h-3.3zM386.1 232h3.3v3.3h-3.3zM402.3 232h3.3v3.3h-3.3zM386.1 234.7h3.3v3.3h-3.3zM402.3 234.7h3.3v3.3h-3.3zM399.6 237.4h3.3v3.3h-3.3zM407.7 237.4h3.3v3.3h-3.3zM405 240.1h6v3.3h-6zM388.8 242.8h3.3v3.3h-3.3zM405 242.8h3.3v3.3h-3.3zM402.3 248.2h3.3v3.3h-3.3zM410.4 248.2h3.3v3.3h-3.3zM407.7 250.9h3.3v3.3h-3.3zM391.5 253.6h3.3v3.3h-3.3zM407.7 253.6h3.3v3.3h-3.3zM413.1 256.3h3.3v3.3h-3.3zM405 259h3.3v3.3h-3.3zM410.4 259h6v3.3h-6zM410.4 261.7h3.3v3.3h-3.3zM394.2 264.4h3.3v3.3h-3.3zM415.8 267.1h3.3v3.3h-3.3zM407.7 269.8h3.3v3.3h-3.3zM413.1 269.8h6v3.3h-6zM413.1 272.5h3.3v3.3h-3.3zM396.9 275.2h3.3v3.3h-3.3zM418.5 277.9h3.3v3.3h-3.3zM410.4 280.6h3.3v3.3h-3.3zM415.8 280.6h3.3v3.3h-3.3zM415.8 283.3h3.3v3.3h-3.3zM399.6 286h3.3v3.3h-3.3zM421.2 286h3.3v3.3h-3.3zM418.5 288.7h6v3.3h-6zM413.1 291.4h3.3v3.3h-3.3zM418.5 291.4h3.3v3.3h-3.3zM402.3 296.8h3.3v3.3h-3.3zM423.9 296.8h3.3v3.3h-3.3zM415.8 299.5h3.3v3.3h-3.3zM421.2 299.5h6v3.3h-6zM415.8 302.2h3.3v3.3h-3.3zM421.2 302.2h3.3v3.3h-3.3zM405 307.6h3.3v3.3h-3.3zM426.6 307.6h3.3v3.3h-3.3zM418.5 310.3h3.3v3.3h-3.3zM423.9 310.3h3.3v3.3h-3.3zM418.5 313h3.3v3.3h-3.3zM423.9 313h3.3v3.3h-3.3zM391.5 315.7h3.3v3.3h-3.3zM429.3 315.7h3.3v3.3h-3.3zM391.5 318.4h3.3v3.3h-3.3zM407.7 318.4h3.3v3.3h-3.3zM426.6 318.4h6v3.3h-6zM388.8 321.1h6v3.3h-6zM421.2 321.1h3.3v3.3h-3.3zM426.6 321.1h3.3v3.3h-3.3zM386.1 323.8h8.7v3.3h-8.7zM421.2 323.8h3.3v3.3h-3.3zM380.7 326.5h11.4v3.3h-11.4zM410.4 326.5h3.3v3.3h-3.3zM432 326.5h3.3v3.3h-3.3zM378 329.2h11.4v3.3h-11.4zM410.4 329.2h3.3v3.3h-3.3zM429.3 329.2h6v3.3h-6zM297 331.9h6v3.3h-6zM372.6 331.9h14.1v3.3h-14.1zM423.9 331.9h3.3v3.3h-3.3zM429.3 331.9h3.3v3.3h-3.3zM297 334.6h14.1v3.3h-14.1zM367.2 334.6h14.1v3.3h-14.1zM423.9 334.6h3.3v3.3h-3.3zM302.4 337.3h16.8v3.3h-16.8zM359.1 337.3h19.5v3.3h-19.5zM413.1 337.3h3.3v3.3h-3.3zM434.7 337.3h3.3v3.3h-3.3zM305.1 340h24.9v3.3h-24.9zM351 340h24.9v3.3h-24.9zM413.1 340h3.3v3.3h-3.3zM432 340h3.3v3.3h-3.3zM310.5 342.7h60v3.3h-60zM426.6 342.7h3.3v3.3h-3.3zM313.2 345.4h51.9v3.3h-51.9zM321.3 348.1h38.4v3.3h-38.4zM415.8 348.1h3.3v3.3h-3.3zM434.7 348.1h3.3v3.3h-3.3z"/>
<path fill="#f5f9ee" d="M396.9 205h3.3v3.3h-3.3zM380.7 207.7h3.3v3.3h-3.3zM391.5 207.7h3.3v3.3h-3.3zM396.9 207.7h3.3v3.3h-3.3zM334.8 210.4h8.7v3.3h-8.7zM380.7 210.4h3.3v3.3h-3.3zM391.5 210.4h3.3v3.3h-3.3zM399.6 210.4h3.3v3.3h-3.3zM318.6 213.1h14.1v3.3h-14.1zM345.6 213.1h14.1v3.3h-14.1zM399.6 213.1h3.3v3.3h-3.3zM310.5 215.8h8.7v3.3h-8.7zM359.1 215.8h6v3.3h-6zM399.6 215.8h3.3v3.3h-3.3zM307.8 218.5h6v3.3h-6zM364.5 218.5h3.3v3.3h-3.3zM383.4 218.5h3.3v3.3h-3.3zM394.2 218.5h3.3v3.3h-3.3zM399.6 218.5h3.3v3.3h-3.3zM302.4 221.2h6v3.3h-6zM394.2 221.2h3.3v3.3h-3.3zM402.3 221.2h3.3v3.3h-3.3zM299.7 223.9h6v3.3h-6zM402.3 223.9h3.3v3.3h-3.3zM297 226.6h6v3.3h-6zM402.3 226.6h3.3v3.3h-3.3zM297 229.3h3.3v3.3h-3.3zM386.1 229.3h3.3v3.3h-3.3zM396.9 229.3h3.3v3.3h-3.3zM402.3 229.3h3.3v3.3h-3.3zM396.9 232h3.3v3.3h-3.3zM405 232h3.3v3.3h-3.3zM405 234.7h3.3v3.3h-3.3zM405 237.4h3.3v3.3h-3.3zM388.8 240.1h3.3v3.3h-3.3zM399.6 240.1h3.3v3.3h-3.3zM407.7 242.8h3.3v3.3h-3.3zM407.7 245.5h3.3v3.3h-3.3zM407.7 248.2h3.3v3.3h-3.3zM391.5 250.9h3.3v3.3h-3.3zM402.3 250.9h3.3v3.3h-3.3zM410.4 250.9h3.3v3.3h-3.3zM410.4 253.6h3.3v3.3h-3.3zM410.4 256.3h3.3v3.3h-3.3zM394.2 261.7h3.3v3.3h-3.3zM405 261.7h3.3v3.3h-3.3zM413.1 261.7h3.3v3.3h-3.3zM413.1 264.4h3.3v3.3h-3.3zM413.1 267.1h3.3v3.3h-3.3zM396.9 272.5h3.3v3.3h-3.3zM407.7 272.5h3.3v3.3h-3.3zM415.8 272.5h3.3v3.3h-3.3zM415.8 275.2h3.3v3.3h-3.3zM415.8 277.9h3.3v3.3h-3.3zM418.5 280.6h3.3v3.3h-3.3zM399.6 283.3h3.3v3.3h-3.3zM410.4 283.3h3.3v3.3h-3.3zM418.5 283.3h3.3v3.3h-3.3zM418.5 286h3.3v3.3h-3.3zM421.2 291.4h3.3v3.3h-3.3zM383.4 294.1h3.3v3.3h-3.3zM402.3 294.1h3.3v3.3h-3.3zM413.1 294.1h3.3v3.3h-3.3zM421.2 294.1h3.3v3.3h-3.3zM383.4 296.8h6v3.3h-6zM421.2 296.8h3.3v3.3h-3.3zM383.4 299.5h6v3.3h-6zM383.4 302.2h6v3.3h-6zM423.9 302.2h3.3v3.3h-3.3zM383.4 304.9h8.7v3.3h-8.7zM405 304.9h3.3v3.3h-3.3zM415.8 304.9h3.3v3.3h-3.3zM423.9 304.9h3.3v3.3h-3.3zM383.4 307.6h8.7v3.3h-8.7zM423.9 307.6h3.3v3.3h-3.3zM383.4 310.3h8.7v3.3h-8.7zM426.6 310.3h3.3v3.3h-3.3zM386.1 313h6v3.3h-6zM407.7 313h3.3v3.3h-3.3zM426.6 313h3.3v3.3h-3.3zM386.1 315.7h6v3.3h-6zM407.7 315.7h3.3v3.3h-3.3zM418.5 315.7h3.3v3.3h-3.3zM426.6 315.7h3.3v3.3h-3.3zM383.4 318.4h8.7v3.3h-8.7zM380.7 321.1h8.7v3.3h-8.7zM429.3 321.1h3.3v3.3h-3.3zM378 323.8h8.7v3.3h-8.7zM410.4 323.8h3.3v3.3h-3.3zM429.3 323.8h3.3v3.3h-3.3zM372.6 326.5h8.7v3.3h-8.7zM421.2 326.5h3.3v3.3h-3.3zM429.3 326.5h3.3v3.3h-3.3zM367.2 329.2h11.4v3.3h-11.4zM302.4 331.9h16.8v3.3h-16.8zM359.1 331.9h14.1v3.3h-14.1zM432 331.9h3.3v3.3h-3.3zM310.5 334.6h57.3v3.3h-57.3zM413.1 334.6h3.3v3.3h-3.3zM432 334.6h3.3v3.3h-3.3zM318.6 337.3h41.1v3.3h-41.1zM423.9 337.3h3.3v3.3h-3.3zM432 337.3h3.3v3.3h-3.3zM329.4 340h22.2v3.3h-22.2zM434.7 340h3.3v3.3h-3.3zM434.7 342.7h3.3v3.3h-3.3zM415.8 345.4h3.3v3.3h-3.3zM426.6 345.4h3.3v3.3h-3.3zM434.7 345.4h3.3v3.3h-3.3zM426.6 348.1h3.3v3.3h-3.3z"/>
<path fill="#f3f7e9" d="M380.7 205h3.3v3.3h-3.3zM332.1 213.1h14.1v3.3h-14.1zM391.5 213.1h3.3v3.3h-3.3zM318.6 215.8h8.7v3.3h-8.7zM351 215.8h8.7v3.3h-8.7zM383.4 215.8h3.3v3.3h-3.3zM313.2 218.5h6v3.3h-6zM359.1 218.5h6v3.3h-6zM307.8 221.2h6v3.3h-6zM364.5 221.2h3.3v3.3h-3.3zM305.1 223.9h3.3v3.3h-3.3zM394.2 223.9h3.3v3.3h-3.3zM302.4 226.6h3.3v3.3h-3.3zM386.1 226.6h3.3v3.3h-3.3zM299.7 229.3h6v3.3h-6zM297 232h3.3v3.3h-3.3zM396.9 234.7h3.3v3.3h-3.3zM388.8 237.4h3.3v3.3h-3.3zM399.6 242.8h3.3v3.3h-3.3zM399.6 245.5h3.3v3.3h-3.3zM391.5 248.2h3.3v3.3h-3.3zM402.3 253.6h3.3v3.3h-3.3zM394.2 259h3.3v3.3h-3.3zM405 264.4h3.3v3.3h-3.3zM297 267.1h3.3v3.3h-3.3zM297 269.8h6v3.3h-6zM396.9 269.8h3.3v3.3h-3.3zM297 272.5h6v3.3h-6zM297 275.2h3.3v3.3h-3.3zM407.7 275.2h3.3v3.3h-3.3zM297 277.9h3.3v3.3h-3.3zM380.7 277.9h3.3v3.3h-3.3zM380.7 280.6h3.3v3.3h-3.3zM399.6 280.6h3.3v3.3h-3.3zM380.7 283.3h3.3v3.3h-3.3zM380.7 286h6v3.3h-6zM410.4 286h3.3v3.3h-3.3zM378 288.7h8.7v3.3h-8.7zM378 291.4h8.7v3.3h-8.7zM402.3 291.4h3.3v3.3h-3.3zM378 294.1h6v3.3h-6zM375.3 296.8h8.7v3.3h-8.7zM413.1 296.8h3.3v3.3h-3.3zM375.3 299.5h8.7v3.3h-8.7zM375.3 302.2h8.7v3.3h-8.7zM405 302.2h3.3v3.3h-3.3zM375.3 304.9h8.7v3.3h-8.7zM378 307.6h6v3.3h-6zM415.8 307.6h3.3v3.3h-3.3zM378 310.3h6v3.3h-6zM407.7 310.3h3.3v3.3h-3.3zM380.7 313h6v3.3h-6zM380.7 315.7h6v3.3h-6zM378 318.4h6v3.3h-6zM418.5 318.4h3.3v3.3h-3.3zM375.3 321.1h6v3.3h-6zM410.4 321.1h3.3v3.3h-3.3zM372.6 323.8h6v3.3h-6zM364.5 326.5h8.7v3.3h-8.7zM297 329.2h19.5v3.3h-19.5zM356.4 329.2h11.4v3.3h-11.4zM421.2 329.2h3.3v3.3h-3.3zM318.6 331.9h41.1v3.3h-41.1zM413.1 331.9h3.3v3.3h-3.3zM423.9 340h3.3v3.3h-3.3zM415.8 342.7h3.3v3.3h-3.3z"/>
<path fill="#f0f6e4" d="M388.8 205h3.3v3.3h-3.3zM383.4 213.1h3.3v3.3h-3.3zM326.7 215.8h24.9v3.3h-24.9zM391.5 215.8h3.3v3.3h-3.3zM318.6 218.5h3.3v3.3h-3.3zM353.7 218.5h6v3.3h-6zM313.2 221.2h3.3v3.3h-3.3zM361.8 221.2h3.3v3.3h-3.3zM307.8 223.9h6v3.3h-6zM364.5 223.9h3.3v3.3h-3.3zM386.1 223.9h3.3v3.3h-3.3zM305.1 226.6h6v3.3h-6zM394.2 226.6h3.3v3.3h-3.3zM305.1 229.3h3.3v3.3h-3.3zM299.7 232h6v3.3h-6zM297 234.7h3.3v3.3h-3.3zM388.8 234.7h3.3v3.3h-3.3zM396.9 237.4h3.3v3.3h-3.3zM391.5 245.5h3.3v3.3h-3.3zM399.6 248.2h3.3v3.3h-3.3zM394.2 256.3h3.3v3.3h-3.3zM402.3 256.3h3.3v3.3h-3.3zM297 264.4h3.3v3.3h-3.3zM299.7 267.1h6v3.3h-6zM378 267.1h3.3v3.3h-3.3zM396.9 267.1h3.3v3.3h-3.3zM405 267.1h3.3v3.3h-3.3zM302.4 269.8h8.7v3.3h-8.7zM378 269.8h3.3v3.3h-3.3zM302.4 272.5h8.7v3.3h-8.7zM378 272.5h3.3v3.3h-3.3zM299.7 275.2h8.7v3.3h-8.7zM378 275.2h3.3v3.3h-3.3zM299.7 277.9h6v3.3h-6zM378 277.9h3.3v3.3h-3.3zM399.6 277.9h3.3v3.3h-3.3zM407.7 277.9h3.3v3.3h-3.3zM297 280.6h6v3.3h-6zM375.3 280.6h6v3.3h-6zM375.3 283.3h6v3.3h-6zM375.3 286h6v3.3h-6zM372.6 288.7h6v3.3h-6zM402.3 288.7h3.3v3.3h-3.3zM410.4 288.7h3.3v3.3h-3.3zM372.6 291.4h6v3.3h-6zM369.9 294.1h8.7v3.3h-8.7zM369.9 296.8h6v3.3h-6zM367.2 299.5h8.7v3.3h-8.7zM405 299.5h3.3v3.3h-3.3zM413.1 299.5h3.3v3.3h-3.3zM367.2 302.2h8.7v3.3h-8.7zM369.9 304.9h6v3.3h-6zM369.9 307.6h8.7v3.3h-8.7zM407.7 307.6h3.3v3.3h-3.3zM372.6 310.3h6v3.3h-6zM415.8 310.3h3.3v3.3h-3.3zM375.3 313h6v3.3h-6zM375.3 315.7h6v3.3h-6zM372.6 318.4h6v3.3h-6zM410.4 318.4h3.3v3.3h-3.3zM369.9 321.1h6v3.3h-6zM418.5 321.1h3.3v3.3h-3.3zM364.5 323.8h8.7v3.3h-8.7zM356.4 326.5h8.7v3.3h-8.7zM315.9 329.2h41.1v3.3h-41.1zM413.1 329.2h3.3v3.3h-3.3zM421.2 331.9h3.3v3.3h-3.3zM415.8 340h3.3v3.3h-3.3zM423.9 342.7h3.3v3.3h-3.3z"/>
<path fill="#edf3de" d="M388.8 207.7h3.3v3.3h-3.3zM383.4 210.4h3.3v3.3h-3.3zM321.3 218.5h8.7v3.3h-8.7zM348.3 218.5h6v3.3h-6zM391.5 218.5h3.3v3.3h-3.3zM315.9 221.2h3.3v3.3h-3.3zM356.4 221.2h6v3.3h-6zM386.1 221.2h3.3v3.3h-3.3zM313.2 223.9h3.3v3.3h-3.3zM361.8 223.9h3.3v3.3h-3.3zM310.5 226.6h3.3v3.3h-3.3zM364.5 226.6h3.3v3.3h-3.3zM307.8 229.3h3.3v3.3h-3.3zM367.2 229.3h3.3v3.3h-3.3zM394.2 229.3h3.3v3.3h-3.3zM305.1 232h3.3v3.3h-3.3zM388.8 232h3.3v3.3h-3.3zM299.7 234.7h3.3v3.3h-3.3zM297 237.4h3.3v3.3h-3.3zM396.9 240.1h3.3v3.3h-3.3zM391.5 242.8h3.3v3.3h-3.3zM399.6 250.9h3.3v3.3h-3.3zM394.2 253.6h3.3v3.3h-3.3zM402.3 259h3.3v3.3h-3.3zM299.7 264.4h3.3v3.3h-3.3zM396.9 264.4h3.3v3.3h-3.3zM305.1 267.1h8.7v3.3h-8.7zM310.5 269.8h8.7v3.3h-8.7zM405 269.8h3.3v3.3h-3.3zM310.5 272.5h8.7v3.3h-8.7zM375.3 272.5h3.3v3.3h-3.3zM307.8 275.2h11.4v3.3h-11.4zM375.3 275.2h3.3v3.3h-3.3zM399.6 275.2h3.3v3.3h-3.3zM305.1 277.9h11.4v3.3h-11.4zM375.3 277.9h3.3v3.3h-3.3zM302.4 280.6h6v3.3h-6zM372.6 280.6h3.3v3.3h-3.3zM407.7 280.6h3.3v3.3h-3.3zM297 283.3h3.3v3.3h-3.3zM372.6 283.3h3.3v3.3h-3.3zM369.9 286h6v3.3h-6zM402.3 286h3.3v3.3h-3.3zM369.9 288.7h3.3v3.3h-3.3zM367.2 291.4h6v3.3h-6zM410.4 291.4h3.3v3.3h-3.3zM367.2 294.1h3.3v3.3h-3.3zM364.5 296.8h6v3.3h-6zM405 296.8h3.3v3.3h-3.3zM364.5 299.5h3.3v3.3h-3.3zM364.5 302.2h3.3v3.3h-3.3zM413.1 302.2h3.3v3.3h-3.3zM364.5 304.9h6v3.3h-6zM407.7 304.9h3.3v3.3h-3.3zM364.5 307.6h6v3.3h-6zM367.2 310.3h6v3.3h-6zM369.9 313h6v3.3h-6zM415.8 313h3.3v3.3h-3.3zM369.9 315.7h6v3.3h-6zM410.4 315.7h3.3v3.3h-3.3zM369.9 318.4h3.3v3.3h-3.3zM364.5 321.1h6v3.3h-6zM359.1 323.8h6v3.3h-6zM418.5 323.8h3.3v3.3h-3.3zM310.5 326.5h14.1v3.3h-14.1zM345.6 326.5h11.4v3.3h-11.4zM413.1 326.5h3.3v3.3h-3.3zM421.2 334.6h3.3v3.3h-3.3zM415.8 337.3h3.3v3.3h-3.3zM423.9 345.4h3.3v3.3h-3.3zM418.5 348.1h3.3v3.3h-3.3z"/>
<path fill="#e9f1d7" d="M383.4 207.7h3.3v3.3h-3.3zM388.8 210.4h3.3v3.3h-3.3zM329.4 218.5h19.5v3.3h-19.5zM386.1 218.5h3.3v3.3h-3.3zM318.6 221.2h6v3.3h-6zM353.7 221.2h3.3v3.3h-3.3zM391.5 221.2h3.3v3.3h-3.3zM315.9 223.9h3.3v3.3h-3.3zM359.1 223.9h3.3v3.3h-3.3zM313.2 226.6h3.3v3.3h-3.3zM361.8 226.6h3.3v3.3h-3.3zM310.5 229.3h3.3v3.3h-3.3zM388.8 229.3h3.3v3.3h-3.3zM394.2 232h3.3v3.3h-3.3zM302.4 234.7h3.3v3.3h-3.3zM391.5 240.1h3.3v3.3h-3.3zM396.9 242.8h3.3v3.3h-3.3zM394.2 250.9h3.3v3.3h-3.3zM399.6 253.6h3.3v3.3h-3.3zM375.3 256.3h3.3v3.3h-3.3zM375.3 259h3.3v3.3h-3.3zM297 261.7h3.3v3.3h-3.3zM375.3 261.7h3.3v3.3h-3.3zM396.9 261.7h3.3v3.3h-3.3zM402.3 261.7h3.3v3.3h-3.3zM302.4 264.4h3.3v3.3h-3.3zM375.3 264.4h3.3v3.3h-3.3zM402.3 264.4h3.3v3.3h-3.3zM313.2 267.1h11.4v3.3h-11.4zM375.3 267.1h3.3v3.3h-3.3zM318.6 269.8h8.7v3.3h-8.7zM375.3 269.8h3.3v3.3h-3.3zM399.6 269.8h3.3v3.3h-3.3zM318.6 272.5h8.7v3.3h-8.7zM399.6 272.5h3.3v3.3h-3.3zM405 272.5h3.3v3.3h-3.3zM318.6 275.2h11.4v3.3h-11.4zM372.6 275.2h3.3v3.3h-3.3zM405 275.2h3.3v3.3h-3.3zM315.9 277.9h14.1v3.3h-14.1zM372.6 277.9h3.3v3.3h-3.3zM307.8 280.6h22.2v3.3h-22.2zM369.9 280.6h3.3v3.3h-3.3zM402.3 280.6h3.3v3.3h-3.3zM299.7 283.3h6v3.3h-6zM324 283.3h6v3.3h-6zM369.9 283.3h3.3v3.3h-3.3zM402.3 283.3h3.3v3.3h-3.3zM407.7 283.3h3.3v3.3h-3.3zM367.2 286h3.3v3.3h-3.3zM367.2 288.7h3.3v3.3h-3.3zM364.5 291.4h3.3v3.3h-3.3zM405 291.4h3.3v3.3h-3.3zM364.5 294.1h3.3v3.3h-3.3zM405 294.1h3.3v3.3h-3.3zM410.4 294.1h3.3v3.3h-3.3zM332.1 296.8h3.3v3.3h-3.3zM332.1 299.5h3.3v3.3h-3.3zM407.7 302.2h3.3v3.3h-3.3zM361.8 304.9h3.3v3.3h-3.3zM413.1 304.9h3.3v3.3h-3.3zM297 307.6h3.3v3.3h-3.3zM361.8 307.6h3.3v3.3h-3.3zM297 310.3h3.3v3.3h-3.3zM364.5 310.3h3.3v3.3h-3.3zM364.5 313h6v3.3h-6zM410.4 313h3.3v3.3h-3.3zM367.2 315.7h3.3v3.3h-3.3zM415.8 315.7h3.3v3.3h-3.3zM364.5 318.4h6v3.3h-6zM361.8 321.1h3.3v3.3h-3.3zM353.7 323.8h6v3.3h-6zM413.1 323.8h3.3v3.3h-3.3zM307.8 326.5h3.3v3.3h-3.3zM324 326.5h22.2v3.3h-22.2zM418.5 326.5h3.3v3.3h-3.3zM415.8 334.6h3.3v3.3h-3.3zM421.2 337.3h3.3v3.3h-3.3zM418.5 345.4h3.3v3.3h-3.3zM423.9 348.1h3.3v3.3h-3.3z"/>
<path fill="#e6efd0" d="M383.4 205h6v3.3h-6zM386.1 213.1h6v3.3h-6zM386.1 215.8h6v3.3h-6zM324 221.2h3.3v3.3h-3.3zM348.3 221.2h6v3.3h-6zM318.6 223.9h3.3v3.3h-3.3zM356.4 223.9h3.3v3.3h-3.3zM388.8 223.9h6v3.3h-6zM388.8 226.6h6v3.3h-6zM364.5 229.3h3.3v3.3h-3.3zM307.8 232h3.3v3.3h-3.3zM367.2 232h3.3v3.3h-3.3zM305.1 234.7h3.3v3.3h-3.3zM391.5 234.7h6v3.3h-6zM299.7 237.4h3.3v3.3h-3.3zM391.5 237.4h6v3.3h-6zM297 240.1h3.3v3.3h-3.3zM394.2 245.5h6v3.3h-6zM394.2 248.2h6v3.3h-6zM396.9 256.3h6v3.3h-6zM396.9 259h6v3.3h-6zM305.1 264.4h6v3.3h-6zM399.6 264.4h3.3v3.3h-3.3zM324 267.1h6v3.3h-6zM399.6 267.1h6v3.3h-6zM326.7 269.8h3.3v3.3h-3.3zM372.6 269.8h3.3v3.3h-3.3zM402.3 269.8h3.3v3.3h-3.3zM326.7 272.5h6v3.3h-6zM372.6 272.5h3.3v3.3h-3.3zM329.4 275.2h6v3.3h-6zM402.3 275.2h3.3v3.3h-3.3zM329.4 277.9h6v3.3h-6zM369.9 277.9h3.3v3.3h-3.3zM402.3 277.9h6v3.3h-6zM329.4 280.6h8.7v3.3h-8.7zM405 280.6h3.3v3.3h-3.3zM305.1 283.3h19.5v3.3h-19.5zM329.4 283.3h8.7v3.3h-8.7zM367.2 283.3h3.3v3.3h-3.3zM297 286h3.3v3.3h-3.3zM318.6 286h19.5v3.3h-19.5zM364.5 286h3.3v3.3h-3.3zM405 286h6v3.3h-6zM324 288.7h14.1v3.3h-14.1zM364.5 288.7h3.3v3.3h-3.3zM405 288.7h6v3.3h-6zM324 291.4h14.1v3.3h-14.1zM407.7 291.4h3.3v3.3h-3.3zM326.7 294.1h11.4v3.3h-11.4zM326.7 296.8h6v3.3h-6zM334.8 296.8h3.3v3.3h-3.3zM407.7 296.8h6v3.3h-6zM324 299.5h8.7v3.3h-8.7zM334.8 299.5h3.3v3.3h-3.3zM407.7 299.5h6v3.3h-6zM324 302.2h14.1v3.3h-14.1zM361.8 302.2h3.3v3.3h-3.3zM297 304.9h3.3v3.3h-3.3zM326.7 304.9h11.4v3.3h-11.4zM299.7 307.6h3.3v3.3h-3.3zM410.4 307.6h6v3.3h-6zM299.7 310.3h6v3.3h-6zM361.8 310.3h3.3v3.3h-3.3zM410.4 310.3h6v3.3h-6zM361.8 313h3.3v3.3h-3.3zM361.8 315.7h6v3.3h-6zM359.1 318.4h6v3.3h-6zM413.1 318.4h6v3.3h-6zM356.4 321.1h6v3.3h-6zM413.1 321.1h6v3.3h-6zM313.2 323.8h11.4v3.3h-11.4zM342.9 323.8h11.4v3.3h-11.4zM305.1 326.5h3.3v3.3h-3.3zM415.8 329.2h6v3.3h-6zM415.8 331.9h6v3.3h-6zM418.5 340h6v3.3h-6zM418.5 342.7h6v3.3h-6z"/>
<path fill="#e3edc9" d="M386.1 207.7h3.3v3.3h-3.3zM386.1 210.4h3.3v3.3h-3.3zM388.8 218.5h3.3v3.3h-3.3zM326.7 221.2h6v3.3h-6zM342.9 221.2h6v3.3h-6zM388.8 221.2h3.3v3.3h-3.3zM321.3 223.9h3.3v3.3h-3.3zM353.7 223.9h3.3v3.3h-3.3zM315.9 226.6h3.3v3.3h-3.3zM359.1 226.6h3.3v3.3h-3.3zM313.2 229.3h3.3v3.3h-3.3zM361.8 229.3h3.3v3.3h-3.3zM391.5 229.3h3.3v3.3h-3.3zM310.5 232h3.3v3.3h-3.3zM364.5 232h3.3v3.3h-3.3zM391.5 232h3.3v3.3h-3.3zM307.8 234.7h3.3v3.3h-3.3zM367.2 234.7h3.3v3.3h-3.3zM302.4 237.4h3.3v3.3h-3.3zM299.7 240.1h3.3v3.3h-3.3zM394.2 240.1h3.3v3.3h-3.3zM297 242.8h3.3v3.3h-3.3zM394.2 242.8h3.3v3.3h-3.3zM396.9 250.9h3.3v3.3h-3.3zM372.6 253.6h3.3v3.3h-3.3zM396.9 253.6h3.3v3.3h-3.3zM372.6 256.3h3.3v3.3h-3.3zM372.6 259h3.3v3.3h-3.3zM299.7 261.7h3.3v3.3h-3.3zM372.6 261.7h3.3v3.3h-3.3zM399.6 261.7h3.3v3.3h-3.3zM310.5 264.4h14.1v3.3h-14.1zM372.6 264.4h3.3v3.3h-3.3zM329.4 267.1h3.3v3.3h-3.3zM372.6 267.1h3.3v3.3h-3.3zM329.4 269.8h3.3v3.3h-3.3zM332.1 272.5h3.3v3.3h-3.3zM402.3 272.5h3.3v3.3h-3.3zM334.8 275.2h3.3v3.3h-3.3zM369.9 275.2h3.3v3.3h-3.3zM334.8 277.9h3.3v3.3h-3.3zM367.2 280.6h3.3v3.3h-3.3zM364.5 283.3h3.3v3.3h-3.3zM405 283.3h3.3v3.3h-3.3zM299.7 286h6v3.3h-6zM313.2 286h6v3.3h-6zM318.6 288.7h6v3.3h-6zM321.3 291.4h3.3v3.3h-3.3zM324 294.1h3.3v3.3h-3.3zM407.7 294.1h3.3v3.3h-3.3zM324 296.8h3.3v3.3h-3.3zM321.3 299.5h3.3v3.3h-3.3zM361.8 299.5h3.3v3.3h-3.3zM321.3 302.2h3.3v3.3h-3.3zM410.4 302.2h3.3v3.3h-3.3zM299.7 304.9h3.3v3.3h-3.3zM318.6 304.9h8.7v3.3h-8.7zM337.5 304.9h3.3v3.3h-3.3zM410.4 304.9h3.3v3.3h-3.3zM302.4 307.6h6v3.3h-6zM324 307.6h8.7v3.3h-8.7zM305.1 310.3h6v3.3h-6zM359.1 310.3h3.3v3.3h-3.3zM297 313h3.3v3.3h-3.3zM359.1 313h3.3v3.3h-3.3zM413.1 313h3.3v3.3h-3.3zM359.1 315.7h3.3v3.3h-3.3zM413.1 315.7h3.3v3.3h-3.3zM356.4 318.4h3.3v3.3h-3.3zM351 321.1h6v3.3h-6zM310.5 323.8h3.3v3.3h-3.3zM324 323.8h19.5v3.3h-19.5zM415.8 323.8h3.3v3.3h-3.3zM297 326.5h8.7v3.3h-8.7zM415.8 326.5h3.3v3.3h-3.3zM418.5 334.6h3.3v3.3h-3.3zM418.5 337.3h3.3v3.3h-3.3zM421.2 345.4h3.3v3.3h-3.3zM421.2 348.1h3.3v3.3h-3.3z"/>
<path fill="#dfebc3" d="M332.1 221.2h11.4v3.3h-11.4zM324 223.9h3.3v3.3h-3.3zM351 223.9h3.3v3.3h-3.3zM318.6 226.6h3.3v3.3h-3.3zM356.4 226.6h3.3v3.3h-3.3zM315.9 229.3h3.3v3.3h-3.3zM359.1 229.3h3.3v3.3h-3.3zM313.2 232h3.3v3.3h-3.3zM361.8 232h3.3v3.3h-3.3zM305.1 237.4h3.3v3.3h-3.3zM369.9 237.4h3.3v3.3h-3.3zM297 245.5h3.3v3.3h-3.3zM372.6 250.9h3.3v3.3h-3.3zM297 259h3.3v3.3h-3.3zM302.4 261.7h3.3v3.3h-3.3zM324 264.4h6v3.3h-6zM369.9 272.5h3.3v3.3h-3.3zM367.2 277.9h3.3v3.3h-3.3zM364.5 280.6h3.3v3.3h-3.3zM305.1 286h8.7v3.3h-8.7zM297 288.7h3.3v3.3h-3.3zM315.9 288.7h3.3v3.3h-3.3zM318.6 291.4h3.3v3.3h-3.3zM321.3 294.1h3.3v3.3h-3.3zM321.3 296.8h3.3v3.3h-3.3zM361.8 296.8h3.3v3.3h-3.3zM318.6 299.5h3.3v3.3h-3.3zM337.5 299.5h3.3v3.3h-3.3zM297 302.2h3.3v3.3h-3.3zM318.6 302.2h3.3v3.3h-3.3zM337.5 302.2h3.3v3.3h-3.3zM302.4 304.9h3.3v3.3h-3.3zM313.2 304.9h6v3.3h-6zM307.8 307.6h16.8v3.3h-16.8zM332.1 307.6h8.7v3.3h-8.7zM359.1 307.6h3.3v3.3h-3.3zM310.5 310.3h11.4v3.3h-11.4zM299.7 313h14.1v3.3h-14.1zM356.4 315.7h3.3v3.3h-3.3zM353.7 318.4h3.3v3.3h-3.3zM313.2 321.1h11.4v3.3h-11.4zM342.9 321.1h8.7v3.3h-8.7z"/>
<path fill="#dce9bc" d="M326.7 223.9h3.3v3.3h-3.3zM345.6 223.9h6v3.3h-6zM321.3 226.6h3.3v3.3h-3.3zM353.7 226.6h3.3v3.3h-3.3zM318.6 229.3h3.3v3.3h-3.3zM356.4 229.3h3.3v3.3h-3.3zM310.5 234.7h3.3v3.3h-3.3zM364.5 234.7h3.3v3.3h-3.3zM302.4 240.1h3.3v3.3h-3.3zM299.7 242.8h3.3v3.3h-3.3zM297 248.2h3.3v3.3h-3.3zM372.6 248.2h3.3v3.3h-3.3zM305.1 261.7h3.3v3.3h-3.3zM329.4 264.4h3.3v3.3h-3.3zM369.9 267.1h3.3v3.3h-3.3zM332.1 269.8h3.3v3.3h-3.3zM369.9 269.8h3.3v3.3h-3.3zM334.8 272.5h3.3v3.3h-3.3zM367.2 275.2h3.3v3.3h-3.3zM364.5 277.9h3.3v3.3h-3.3zM299.7 288.7h3.3v3.3h-3.3zM313.2 288.7h3.3v3.3h-3.3zM318.6 294.1h3.3v3.3h-3.3zM361.8 294.1h3.3v3.3h-3.3zM318.6 296.8h3.3v3.3h-3.3zM337.5 296.8h3.3v3.3h-3.3zM299.7 302.2h3.3v3.3h-3.3zM315.9 302.2h3.3v3.3h-3.3zM305.1 304.9h8.7v3.3h-8.7zM321.3 310.3h19.5v3.3h-19.5zM313.2 313h8.7v3.3h-8.7zM356.4 313h3.3v3.3h-3.3zM310.5 315.7h6v3.3h-6zM353.7 315.7h3.3v3.3h-3.3zM313.2 318.4h8.7v3.3h-8.7zM345.6 318.4h8.7v3.3h-8.7zM324 321.1h19.5v3.3h-19.5zM307.8 323.8h3.3v3.3h-3.3z"/>
<path fill="#d8e6b4" d="M329.4 223.9h16.8v3.3h-16.8zM324 226.6h3.3v3.3h-3.3zM351 226.6h3.3v3.3h-3.3zM315.9 232h3.3v3.3h-3.3zM359.1 232h3.3v3.3h-3.3zM313.2 234.7h3.3v3.3h-3.3zM307.8 237.4h3.3v3.3h-3.3zM367.2 237.4h3.3v3.3h-3.3zM369.9 240.1h3.3v3.3h-3.3zM299.7 245.5h3.3v3.3h-3.3zM297 250.9h3.3v3.3h-3.3zM369.9 250.9h3.3v3.3h-3.3zM369.9 253.6h3.3v3.3h-3.3zM297 256.3h3.3v3.3h-3.3zM369.9 256.3h3.3v3.3h-3.3zM299.7 259h3.3v3.3h-3.3zM369.9 259h3.3v3.3h-3.3zM369.9 261.7h3.3v3.3h-3.3zM369.9 264.4h3.3v3.3h-3.3zM332.1 267.1h3.3v3.3h-3.3zM367.2 272.5h3.3v3.3h-3.3zM337.5 277.9h3.3v3.3h-3.3zM337.5 280.6h3.3v3.3h-3.3zM302.4 288.7h3.3v3.3h-3.3zM310.5 288.7h3.3v3.3h-3.3zM297 291.4h3.3v3.3h-3.3zM315.9 291.4h3.3v3.3h-3.3zM361.8 291.4h3.3v3.3h-3.3zM337.5 294.1h3.3v3.3h-3.3zM297 299.5h3.3v3.3h-3.3zM315.9 299.5h3.3v3.3h-3.3zM313.2 302.2h3.3v3.3h-3.3zM359.1 304.9h3.3v3.3h-3.3zM340.2 307.6h3.3v3.3h-3.3zM340.2 310.3h3.3v3.3h-3.3zM356.4 310.3h3.3v3.3h-3.3zM321.3 313h22.2v3.3h-22.2zM307.8 315.7h3.3v3.3h-3.3zM315.9 315.7h8.7v3.3h-8.7zM340.2 315.7h6v3.3h-6zM351 315.7h3.3v3.3h-3.3zM310.5 318.4h3.3v3.3h-3.3zM321.3 318.4h24.9v3.3h-24.9zM310.5 321.1h3.3v3.3h-3.3z"/>
<path fill="#d3e4ab" d="M326.7 226.6h3.3v3.3h-3.3zM348.3 226.6h3.3v3.3h-3.3zM321.3 229.3h3.3v3.3h-3.3zM353.7 229.3h3.3v3.3h-3.3zM318.6 232h3.3v3.3h-3.3zM356.4 232h3.3v3.3h-3.3zM361.8 234.7h3.3v3.3h-3.3zM310.5 237.4h3.3v3.3h-3.3zM305.1 240.1h3.3v3.3h-3.3zM302.4 242.8h3.3v3.3h-3.3zM369.9 242.8h3.3v3.3h-3.3zM299.7 248.2h3.3v3.3h-3.3zM369.9 248.2h3.3v3.3h-3.3zM297 253.6h3.3v3.3h-3.3zM307.8 261.7h6v3.3h-6zM332.1 264.4h3.3v3.3h-3.3zM367.2 269.8h3.3v3.3h-3.3zM337.5 275.2h3.3v3.3h-3.3zM364.5 275.2h3.3v3.3h-3.3zM337.5 283.3h3.3v3.3h-3.3zM337.5 286h3.3v3.3h-3.3zM305.1 288.7h6v3.3h-6zM337.5 288.7h3.3v3.3h-3.3zM361.8 288.7h3.3v3.3h-3.3zM299.7 291.4h3.3v3.3h-3.3zM313.2 291.4h3.3v3.3h-3.3zM337.5 291.4h3.3v3.3h-3.3zM297 294.1h3.3v3.3h-3.3zM315.9 294.1h3.3v3.3h-3.3zM297 296.8h3.3v3.3h-3.3zM315.9 296.8h3.3v3.3h-3.3zM313.2 299.5h3.3v3.3h-3.3zM302.4 302.2h11.4v3.3h-11.4zM342.9 313h3.3v3.3h-3.3zM353.7 313h3.3v3.3h-3.3zM305.1 315.7h3.3v3.3h-3.3zM324 315.7h16.8v3.3h-16.8zM345.6 315.7h6v3.3h-6z"/>
<path fill="#cfe1a3" d="M329.4 226.6h6v3.3h-6zM342.9 226.6h6v3.3h-6zM324 229.3h3.3v3.3h-3.3zM351 229.3h3.3v3.3h-3.3zM321.3 232h3.3v3.3h-3.3zM315.9 234.7h3.3v3.3h-3.3zM359.1 234.7h3.3v3.3h-3.3zM364.5 237.4h3.3v3.3h-3.3zM307.8 240.1h3.3v3.3h-3.3zM367.2 240.1h3.3v3.3h-3.3zM302.4 245.5h3.3v3.3h-3.3zM369.9 245.5h3.3v3.3h-3.3zM367.2 256.3h3.3v3.3h-3.3zM313.2 261.7h6v3.3h-6zM367.2 267.1h3.3v3.3h-3.3zM334.8 269.8h3.3v3.3h-3.3zM364.5 272.5h3.3v3.3h-3.3zM361.8 283.3h3.3v3.3h-3.3zM361.8 286h3.3v3.3h-3.3zM310.5 291.4h3.3v3.3h-3.3zM313.2 294.1h3.3v3.3h-3.3zM313.2 296.8h3.3v3.3h-3.3zM299.7 299.5h3.3v3.3h-3.3zM340.2 304.9h3.3v3.3h-3.3zM342.9 310.3h3.3v3.3h-3.3zM305.1 323.8h3.3v3.3h-3.3z"/>
<path fill="#cade9b" d="M334.8 226.6h8.7v3.3h-8.7zM326.7 229.3h3.3v3.3h-3.3zM348.3 229.3h3.3v3.3h-3.3zM353.7 232h3.3v3.3h-3.3zM318.6 234.7h3.3v3.3h-3.3zM313.2 237.4h3.3v3.3h-3.3zM305.1 242.8h3.3v3.3h-3.3zM299.7 250.9h3.3v3.3h-3.3zM367.2 250.9h3.3v3.3h-3.3zM367.2 253.6h3.3v3.3h-3.3zM299.7 256.3h3.3v3.3h-3.3zM302.4 259h3.3v3.3h-3.3zM367.2 259h3.3v3.3h-3.3zM318.6 261.7h3.3v3.3h-3.3zM367.2 261.7h3.3v3.3h-3.3zM367.2 264.4h3.3v3.3h-3.3zM337.5 272.5h3.3v3.3h-3.3zM361.8 277.9h3.3v3.3h-3.3zM361.8 280.6h3.3v3.3h-3.3zM302.4 291.4h8.7v3.3h-8.7zM299.7 294.1h3.3v3.3h-3.3zM299.7 296.8h3.3v3.3h-3.3zM302.4 299.5h3.3v3.3h-3.3zM307.8 299.5h6v3.3h-6zM359.1 302.2h3.3v3.3h-3.3zM345.6 313h3.3v3.3h-3.3zM351 313h3.3v3.3h-3.3zM297 315.7h8.7v3.3h-8.7zM307.8 318.4h3.3v3.3h-3.3zM307.8 321.1h3.3v3.3h-3.3z"/>
<path fill="#c6db92" d="M329.4 229.3h3.3v3.3h-3.3zM342.9 229.3h6v3.3h-6zM324 232h3.3v3.3h-3.3zM351 232h3.3v3.3h-3.3zM356.4 234.7h3.3v3.3h-3.3zM361.8 237.4h3.3v3.3h-3.3zM310.5 240.1h3.3v3.3h-3.3zM307.8 242.8h3.3v3.3h-3.3zM367.2 242.8h3.3v3.3h-3.3zM305.1 245.5h3.3v3.3h-3.3zM302.4 248.2h3.3v3.3h-3.3zM367.2 248.2h3.3v3.3h-3.3zM299.7 253.6h3.3v3.3h-3.3zM321.3 261.7h3.3v3.3h-3.3zM364.5 269.8h3.3v3.3h-3.3zM361.8 275.2h3.3v3.3h-3.3zM302.4 294.1h3.3v3.3h-3.3zM310.5 294.1h3.3v3.3h-3.3zM302.4 296.8h3.3v3.3h-3.3zM310.5 296.8h3.3v3.3h-3.3zM305.1 299.5h3.3v3.3h-3.3zM340.2 302.2h3.3v3.3h-3.3zM356.4 307.6h3.3v3.3h-3.3zM348.3 313h3.3v3.3h-3.3z"/>
<path fill="#c1d98a" d="M332.1 229.3h11.4v3.3h-11.4zM326.7 232h3.3v3.3h-3.3zM348.3 232h3.3v3.3h-3.3zM321.3 234.7h3.3v3.3h-3.3zM353.7 234.7h3.3v3.3h-3.3zM315.9 237.4h3.3v3.3h-3.3zM364.5 240.1h3.3v3.3h-3.3zM307.8 245.5h3.3v3.3h-3.3zM367.2 245.5h3.3v3.3h-3.3zM305.1 248.2h3.3v3.3h-3.3zM364.5 253.6h3.3v3.3h-3.3zM364.5 256.3h3.3v3.3h-3.3zM305.1 259h3.3v3.3h-3.3zM305.1 294.1h6v3.3h-6zM305.1 296.8h6v3.3h-6zM359.1 299.5h3.3v3.3h-3.3zM342.9 307.6h3.3v3.3h-3.3zM353.7 310.3h3.3v3.3h-3.3zM302.4 323.8h3.3v3.3h-3.3z"/>
<path fill="#bcd680" d="M329.4 232h3.3v3.3h-3.3zM342.9 232h6v3.3h-6zM324 234.7h3.3v3.3h-3.3zM351 234.7h3.3v3.3h-3.3zM318.6 237.4h3.3v3.3h-3.3zM359.1 237.4h3.3v3.3h-3.3zM313.2 240.1h3.3v3.3h-3.3zM310.5 242.8h3.3v3.3h-3.3zM302.4 250.9h3.3v3.3h-3.3zM364.5 250.9h3.3v3.3h-3.3zM302.4 256.3h3.3v3.3h-3.3zM364.5 259h3.3v3.3h-3.3zM324 261.7h3.3v3.3h-3.3zM364.5 261.7h3.3v3.3h-3.3zM364.5 264.4h3.3v3.3h-3.3zM334.8 267.1h3.3v3.3h-3.3zM364.5 267.1h3.3v3.3h-3.3zM361.8 272.5h3.3v3.3h-3.3zM340.2 299.5h3.3v3.3h-3.3zM345.6 310.3h3.3v3.3h-3.3zM305.1 318.4h3.3v3.3h-3.3zM297 323.8h3.3v3.3h-3.3z"/>
<path fill="#b7d374" d="M332.1 232h11.4v3.3h-11.4zM356.4 237.4h3.3v3.3h-3.3zM361.8 240.1h3.3v3.3h-3.3zM364.5 242.8h3.3v3.3h-3.3zM310.5 245.5h3.3v3.3h-3.3zM364.5 245.5h3.3v3.3h-3.3zM307.8 248.2h3.3v3.3h-3.3zM364.5 248.2h3.3v3.3h-3.3zM302.4 253.6h3.3v3.3h-3.3zM348.3 253.6h3.3v3.3h-3.3zM307.8 259h3.3v3.3h-3.3zM337.5 269.8h3.3v3.3h-3.3zM299.7 323.8h3.3v3.3h-3.3z"/>
<path fill="#b2d069" d="M326.7 234.7h3.3v3.3h-3.3zM345.6 234.7h6v3.3h-6zM321.3 237.4h3.3v3.3h-3.3zM315.9 240.1h3.3v3.3h-3.3zM313.2 242.8h3.3v3.3h-3.3zM313.2 245.5h3.3v3.3h-3.3zM310.5 248.2h3.3v3.3h-3.3zM305.1 250.9h3.3v3.3h-3.3zM345.6 250.9h3.3v3.3h-3.3zM361.8 250.9h3.3v3.3h-3.3zM351 253.6h3.3v3.3h-3.3zM361.8 253.6h3.3v3.3h-3.3zM348.3 256.3h6v3.3h-6zM361.8 256.3h3.3v3.3h-3.3zM310.5 259h3.3v3.3h-3.3zM361.8 259h3.3v3.3h-3.3zM326.7 261.7h3.3v3.3h-3.3zM361.8 269.8h3.3v3.3h-3.3zM340.2 275.2h3.3v3.3h-3.3zM340.2 296.8h3.3v3.3h-3.3zM359.1 296.8h3.3v3.3h-3.3zM351 310.3h3.3v3.3h-3.3zM305.1 321.1h3.3v3.3h-3.3z"/>
<path fill="#accd5e" d="M329.4 234.7h6v3.3h-6zM342.9 234.7h3.3v3.3h-3.3zM353.7 237.4h3.3v3.3h-3.3zM318.6 240.1h3.3v3.3h-3.3zM359.1 240.1h3.3v3.3h-3.3zM315.9 242.8h3.3v3.3h-3.3zM361.8 242.8h3.3v3.3h-3.3zM313.2 248.2h3.3v3.3h-3.3zM348.3 250.9h3.3v3.3h-3.3zM345.6 253.6h3.3v3.3h-3.3zM353.7 253.6h8.7v3.3h-8.7zM305.1 256.3h3.3v3.3h-3.3zM353.7 256.3h3.3v3.3h-3.3zM359.1 256.3h3.3v3.3h-3.3zM313.2 259h3.3v3.3h-3.3zM361.8 261.7h3.3v3.3h-3.3zM361.8 267.1h3.3v3.3h-3.3zM340.2 277.9h3.3v3.3h-3.3zM359.1 294.1h3.3v3.3h-3.3zM356.4 304.9h3.3v3.3h-3.3zM348.3 310.3h3.3v3.3h-3.3z"/>
<path fill="#a7ca53" d="M334.8 234.7h8.7v3.3h-8.7zM324 237.4h3.3v3.3h-3.3zM351 237.4h3.3v3.3h-3.3zM315.9 245.5h3.3v3.3h-3.3zM361.8 245.5h3.3v3.3h-3.3zM315.9 248.2h3.3v3.3h-3.3zM361.8 248.2h3.3v3.3h-3.3zM307.8 250.9h3.3v3.3h-3.3zM342.9 250.9h3.3v3.3h-3.3zM351 250.9h6v3.3h-6zM359.1 250.9h3.3v3.3h-3.3zM305.1 253.6h3.3v3.3h-3.3zM345.6 256.3h3.3v3.3h-3.3zM356.4 256.3h3.3v3.3h-3.3zM315.9 259h3.3v3.3h-3.3zM359.1 259h3.3v3.3h-3.3zM329.4 261.7h3.3v3.3h-3.3zM361.8 264.4h3.3v3.3h-3.3zM340.2 272.5h3.3v3.3h-3.3zM340.2 280.6h3.3v3.3h-3.3zM340.2 294.1h3.3v3.3h-3.3zM342.9 304.9h3.3v3.3h-3.3zM302.4 318.4h3.3v3.3h-3.3z"/>
<path fill="#a2c748" d="M326.7 237.4h3.3v3.3h-3.3zM348.3 237.4h3.3v3.3h-3.3zM321.3 240.1h3.3v3.3h-3.3zM356.4 240.1h3.3v3.3h-3.3zM318.6 242.8h3.3v3.3h-3.3zM318.6 245.5h3.3v3.3h-3.3zM318.6 248.2h3.3v3.3h-3.3zM359.1 248.2h3.3v3.3h-3.3zM310.5 250.9h3.3v3.3h-3.3zM356.4 250.9h3.3v3.3h-3.3zM345.6 259h6v3.3h-6zM334.8 264.4h3.3v3.3h-3.3zM340.2 283.3h3.3v3.3h-3.3zM340.2 291.4h3.3v3.3h-3.3zM359.1 291.4h3.3v3.3h-3.3zM353.7 307.6h3.3v3.3h-3.3zM297 318.4h3.3v3.3h-3.3z"/>
<path fill="#9dc440" d="M329.4 237.4h3.3v3.3h-3.3zM342.9 237.4h6v3.3h-6zM353.7 240.1h3.3v3.3h-3.3zM359.1 242.8h3.3v3.3h-3.3zM321.3 245.5h3.3v3.3h-3.3zM359.1 245.5h3.3v3.3h-3.3zM321.3 248.2h6v3.3h-6zM340.2 248.2h11.4v3.3h-11.4zM356.4 248.2h3.3v3.3h-3.3zM313.2 250.9h3.3v3.3h-3.3zM307.8 253.6h3.3v3.3h-3.3zM307.8 256.3h3.3v3.3h-3.3zM351 259h8.7v3.3h-8.7zM359.1 261.7h3.3v3.3h-3.3zM359.1 275.2h3.3v3.3h-3.3zM359.1 277.9h3.3v3.3h-3.3zM340.2 286h3.3v3.3h-3.3zM340.2 288.7h3.3v3.3h-3.3zM359.1 288.7h3.3v3.3h-3.3zM345.6 307.6h3.3v3.3h-3.3z"/>
<path fill="#98c238" d="M332.1 237.4h11.4v3.3h-11.4zM324 240.1h3.3v3.3h-3.3zM351 240.1h3.3v3.3h-3.3zM321.3 242.8h3.3v3.3h-3.3zM356.4 242.8h3.3v3.3h-3.3zM324 245.5h3.3v3.3h-3.3zM326.7 248.2h14.1v3.3h-14.1zM351 248.2h6v3.3h-6zM315.9 250.9h6v3.3h-6zM318.6 259h3.3v3.3h-3.3zM332.1 261.7h3.3v3.3h-3.3zM340.2 269.8h3.3v3.3h-3.3zM359.1 272.5h3.3v3.3h-3.3zM359.1 280.6h3.3v3.3h-3.3zM359.1 283.3h3.3v3.3h-3.3zM359.1 286h3.3v3.3h-3.3zM299.7 318.4h3.3v3.3h-3.3zM302.4 321.1h3.3v3.3h-3.3z"/>
<path fill="#93c030" d="M326.7 240.1h3.3v3.3h-3.3zM348.3 240.1h3.3v3.3h-3.3zM324 242.8h3.3v3.3h-3.3zM326.7 245.5h3.3v3.3h-3.3zM356.4 245.5h3.3v3.3h-3.3zM340.2 250.9h3.3v3.3h-3.3zM310.5 253.6h3.3v3.3h-3.3zM342.9 253.6h3.3v3.3h-3.3zM310.5 256.3h3.3v3.3h-3.3zM359.1 264.4h3.3v3.3h-3.3zM359.1 267.1h3.3v3.3h-3.3zM359.1 269.8h3.3v3.3h-3.3zM342.9 302.2h3.3v3.3h-3.3zM356.4 302.2h3.3v3.3h-3.3zM297 321.1h3.3v3.3h-3.3z"/>
<path fill="#8ebd28" d="M329.4 240.1h3.3v3.3h-3.3zM345.6 240.1h3.3v3.3h-3.3zM326.7 242.8h3.3v3.3h-3.3zM351 242.8h6v3.3h-6zM329.4 245.5h6v3.3h-6zM342.9 245.5h14.1v3.3h-14.1zM321.3 250.9h3.3v3.3h-3.3zM313.2 253.6h3.3v3.3h-3.3zM313.2 256.3h3.3v3.3h-3.3zM345.6 261.7h3.3v3.3h-3.3zM356.4 261.7h3.3v3.3h-3.3zM337.5 267.1h3.3v3.3h-3.3zM299.7 321.1h3.3v3.3h-3.3z"/>
<path fill="#89ba21" d="M332.1 240.1h14.1v3.3h-14.1zM329.4 242.8h3.3v3.3h-3.3zM348.3 242.8h3.3v3.3h-3.3zM334.8 245.5h8.7v3.3h-8.7zM315.9 253.6h3.3v3.3h-3.3zM342.9 261.7h3.3v3.3h-3.3zM348.3 307.6h6v3.3h-6z"/>
<path fill="#83b61e" d="M332.1 242.8h16.8v3.3h-16.8zM324 250.9h3.3v3.3h-3.3zM315.9 256.3h3.3v3.3h-3.3zM321.3 259h3.3v3.3h-3.3zM342.9 259h3.3v3.3h-3.3zM348.3 261.7h3.3v3.3h-3.3zM353.7 261.7h3.3v3.3h-3.3zM356.4 299.5h3.3v3.3h-3.3z"/>
<path fill="#7db11b" d="M342.9 256.3h3.3v3.3h-3.3zM351 261.7h3.3v3.3h-3.3zM340.2 267.1h3.3v3.3h-3.3zM342.9 275.2h3.3v3.3h-3.3zM342.9 299.5h3.3v3.3h-3.3zM353.7 304.9h3.3v3.3h-3.3z"/>
<path fill="#77ad17" d="M337.5 250.9h3.3v3.3h-3.3zM318.6 253.6h3.3v3.3h-3.3zM356.4 264.4h3.3v3.3h-3.3zM342.9 272.5h3.3v3.3h-3.3zM342.9 277.9h3.3v3.3h-3.3zM356.4 296.8h3.3v3.3h-3.3zM345.6 304.9h3.3v3.3h-3.3z"/>
<path fill="#71a914" d="M326.7 250.9h3.3v3.3h-3.3zM342.9 264.4h3.3v3.3h-3.3zM342.9 280.6h3.3v3.3h-3.3zM342.9 294.1h3.3v3.3h-3.3zM356.4 294.1h3.3v3.3h-3.3zM342.9 296.8h3.3v3.3h-3.3z"/>
<path fill="#6ba411" d="M329.4 250.9h8.7v3.3h-8.7zM318.6 256.3h3.3v3.3h-3.3zM356.4 267.1h3.3v3.3h-3.3zM342.9 269.8h3.3v3.3h-3.3zM342.9 283.3h3.3v3.3h-3.3zM342.9 286h3.3v3.3h-3.3zM342.9 288.7h3.3v3.3h-3.3zM342.9 291.4h3.3v3.3h-3.3zM356.4 291.4h3.3v3.3h-3.3z"/>
<path fill="#629e0f" d="M324 259h3.3v3.3h-3.3zM337.5 264.4h6v3.3h-6zM342.9 267.1h3.3v3.3h-3.3zM356.4 269.8h3.3v3.3h-3.3zM356.4 272.5h3.3v3.3h-3.3zM356.4 275.2h3.3v3.3h-3.3zM356.4 277.9h3.3v3.3h-3.3zM356.4 280.6h3.3v3.3h-3.3zM356.4 283.3h3.3v3.3h-3.3zM356.4 286h3.3v3.3h-3.3zM356.4 288.7h3.3v3.3h-3.3z"/>
<path fill="#5a990c" d="M334.8 261.7h3.3v3.3h-3.3zM345.6 264.4h3.3v3.3h-3.3zM353.7 264.4h3.3v3.3h-3.3z"/>
<path fill="#529409" d="M321.3 253.6h3.3v3.3h-3.3zM340.2 253.6h3.3v3.3h-3.3zM326.7 259h3.3v3.3h-3.3zM353.7 302.2h3.3v3.3h-3.3zM348.3 304.9h6v3.3h-6z"/>
<path fill="#498e07" d="M329.4 259h6v3.3h-6zM345.6 277.9h3.3v3.3h-3.3zM345.6 280.6h3.3v3.3h-3.3zM345.6 283.3h3.3v3.3h-3.3zM345.6 286h3.3v3.3h-3.3zM345.6 288.7h3.3v3.3h-3.3zM345.6 302.2h3.3v3.3h-3.3z"/>
<path fill="#418706" d="M321.3 256.3h3.3v3.3h-3.3zM340.2 261.7h3.3v3.3h-3.3zM348.3 264.4h3.3v3.3h-3.3zM345.6 275.2h3.3v3.3h-3.3zM348.3 286h3.3v3.3h-3.3zM353.7 286h3.3v3.3h-3.3zM348.3 288.7h8.7v3.3h-8.7zM345.6 291.4h3.3v3.3h-3.3zM353.7 291.4h3.3v3.3h-3.3zM345.6 294.1h3.3v3.3h-3.3zM353.7 294.1h3.3v3.3h-3.3z"/>
<path fill="#388005" d="M351 264.4h3.3v3.3h-3.3zM348.3 280.6h3.3v3.3h-3.3zM353.7 280.6h3.3v3.3h-3.3zM348.3 283.3h8.7v3.3h-8.7zM351 286h3.3v3.3h-3.3zM348.3 291.4h6v3.3h-6zM345.6 296.8h3.3v3.3h-3.3zM353.7 296.8h3.3v3.3h-3.3zM345.6 299.5h3.3v3.3h-3.3zM353.7 299.5h3.3v3.3h-3.3z"/>
<path fill="#2f7805" d="M324 253.6h3.3v3.3h-3.3zM345.6 267.1h3.3v3.3h-3.3zM353.7 267.1h3.3v3.3h-3.3zM345.6 272.5h3.3v3.3h-3.3zM353.7 275.2h3.3v3.3h-3.3zM348.3 277.9h3.3v3.3h-3.3zM353.7 277.9h3.3v3.3h-3.3zM351 280.6h3.3v3.3h-3.3zM348.3 294.1h6v3.3h-6z"/>
<path fill="#267004" d="M332.1 253.6h3.3v3.3h-3.3zM332.1 256.3h3.3v3.3h-3.3zM353.7 272.5h3.3v3.3h-3.3zM351 277.9h3.3v3.3h-3.3z"/>
<path fill="#1f6604" d="M326.7 253.6h6v3.3h-6zM334.8 253.6h3.3v3.3h-3.3zM324 256.3h3.3v3.3h-3.3zM329.4 256.3h3.3v3.3h-3.3zM345.6 269.8h3.3v3.3h-3.3zM353.7 269.8h3.3v3.3h-3.3zM348.3 275.2h3.3v3.3h-3.3zM348.3 302.2h6v3.3h-6z"/>
<path fill="#175c03" d="M337.5 253.6h3.3v3.3h-3.3zM326.7 256.3h3.3v3.3h-3.3zM340.2 256.3h3.3v3.3h-3.3zM351 275.2h3.3v3.3h-3.3zM348.3 296.8h6v3.3h-6z"/>
<path fill="#105202" d="M348.3 272.5h3.3v3.3h-3.3zM348.3 299.5h6v3.3h-6z"/>
<path fill="#0a4302" d="M340.2 259h3.3v3.3h-3.3zM337.5 261.7h3.3v3.3h-3.3zM348.3 267.1h6v3.3h-6zM351 272.5h3.3v3.3h-3.3z"/>
<path fill="#052b01" d="M334.8 256.3h3.3v3.3h-3.3zM334.8 259h3.3v3.3h-3.3zM348.3 269.8h6v3.3h-6z"/>
<path fill="#001400" d="M337.5 256.3h3.3v3.3h-3.3zM337.5 259h3.3v3.3h-3.3z"/>
</g>
<polygon points="360.4,200.0 402.8,350.0 436,350 436,200" fill="url(#dote)"/>
<polyline points="360.4,200.0 402.8,350.0" fill="none" stroke="#111" stroke-width="1.45"/>
</g>
<circle cx="342.3" cy="282.0" r="10" fill="none" fill-opacity="1" stroke="#2a2aa0" stroke-width="1.1"/>
<circle cx="342.3" cy="282.0" r="7.3" fill="none" fill-opacity="1" stroke="#2a2aa0" stroke-width="1.1"/>
<circle cx="342.3" cy="282.0" r="4.7" fill="none" fill-opacity="1" stroke="#2a2aa0" stroke-width="1.1"/>
<circle cx="342.3" cy="282.0" r="2.7" fill="none" fill-opacity="1" stroke="#2a2aa0" stroke-width="1.1"/>
<circle cx="385.6" cy="297.0" r="9" fill="none" fill-opacity="1" stroke="#2a2ab0" stroke-width="1.0"/>
<circle cx="385.6" cy="297.0" r="6.5" fill="none" fill-opacity="1" stroke="#2a2ab0" stroke-width="1.0"/>
<circle cx="385.6" cy="297.0" r="4" fill="none" fill-opacity="1" stroke="#2a2ab0" stroke-width="1.0"/>
<circle cx="385.6" cy="297.0" r="1.8" fill="none" fill-opacity="1" stroke="#2a2ab0" stroke-width="1.0"/>
<circle cx="377.6" cy="274.3" r="2" fill="none" fill-opacity="1" stroke="#2a2ab0" stroke-width="1.0"/>
<path d="M346.0,268.7C347.2,268.2 349.9,267.9 352.0,268.1C354.1,268.3 356.9,269.0 358.7,269.9C360.5,270.7 362.0,272.0 362.8,273.3C363.6,274.6 363.6,276.2 363.3,277.7C363.1,279.1 361.7,280.4 361.3,282.0C360.9,283.6 360.9,285.4 360.9,287.3C360.9,289.2 361.4,291.6 361.3,293.3C361.2,295.1 361.0,296.7 360.3,298.0C359.7,299.3 358.7,300.6 357.3,301.3C355.9,302.1 353.8,302.5 352.0,302.7C350.2,302.8 348.2,302.7 346.7,302.2C345.1,301.7 343.7,300.8 342.7,299.9C341.7,298.9 341.0,297.9 340.7,296.7C340.3,295.5 340.3,294.0 340.7,292.7C341.0,291.3 342.2,290.4 342.7,288.7C343.2,286.9 343.4,284.2 343.7,282.0C343.9,279.8 344.1,277.2 344.3,275.3C344.6,273.4 344.7,271.8 345.0,270.7C345.3,269.6 344.8,269.1 346.0,268.7Z" fill="none" stroke="#c0500f" stroke-width="1.0"/>
<path d="M349.3,272.7C350.9,272.4 354.4,273.1 356.0,273.9C357.6,274.7 358.3,276.1 358.8,277.5C359.3,278.8 358.9,280.4 358.8,282.0C358.7,283.6 358.2,285.6 358.0,287.3C357.8,289.1 357.7,291.1 357.3,292.7C357.0,294.2 356.8,295.7 356.0,296.7C355.2,297.7 354.0,298.4 352.7,298.7C351.3,298.9 349.2,298.6 348.0,298.0C346.8,297.4 345.9,296.4 345.3,295.3C344.7,294.2 344.3,292.7 344.3,291.3C344.4,290.0 345.2,288.9 345.5,287.3C345.7,285.8 345.8,283.9 346.0,282.0C346.2,280.1 346.2,277.2 346.8,275.7C347.4,274.1 347.8,273.0 349.3,272.7Z" fill="none" stroke="#c0500f" stroke-width="1.0"/>
<path d="M350.0,277.7C350.8,277.8 352.2,278.4 352.8,279.5C353.4,280.5 353.4,282.5 353.5,284.0C353.6,285.5 353.5,287.3 353.3,288.7C353.2,290.0 353.1,291.1 352.7,292.0C352.2,292.9 351.4,293.9 350.7,294.1C349.9,294.4 348.9,294.0 348.3,293.5C347.7,292.9 347.3,291.8 347.0,290.8C346.7,289.8 346.6,288.8 346.7,287.3C346.7,285.9 347.0,283.4 347.2,282.0C347.4,280.6 347.7,279.4 348.1,278.7C348.6,277.9 349.2,277.5 350.0,277.7Z" fill="none" stroke="#c0500f" stroke-width="1.0"/>
<rect x="297" y="205" width="134" height="140" fill="none" stroke="#333" stroke-width="1.3"/>
<path d="M318.1,345v-3.5M318.1,205v3.5M338.9,345v-3.5M338.9,205v3.5M359.7,345v-3.5M359.7,205v3.5M380.5,345v-3.5M380.5,205v3.5M401.3,345v-3.5M401.3,205v3.5M422.1,345v-3.5M422.1,205v3.5M302.5,345v-2M302.5,205v2M307.7,345v-2M307.7,205v2M312.9,345v-2M312.9,205v2M323.3,345v-2M323.3,205v2M328.5,345v-2M328.5,205v2M333.7,345v-2M333.7,205v2M344.1,345v-2M344.1,205v2M349.3,345v-2M349.3,205v2M354.5,345v-2M354.5,205v2M364.9,345v-2M364.9,205v2M370.1,345v-2M370.1,205v2M375.3,345v-2M375.3,205v2M385.7,345v-2M385.7,205v2M390.9,345v-2M390.9,205v2M396.1,345v-2M396.1,205v2M406.5,345v-2M406.5,205v2M411.7,345v-2M411.7,205v2M416.9,345v-2M416.9,205v2M427.3,345v-2M427.3,205v2M297,227.4h3.5M431,227.4h-3.5M297,249.3h3.5M431,249.3h-3.5M297,271.3h3.5M431,271.3h-3.5M297,293.2h3.5M431,293.2h-3.5M297,315.2h3.5M431,315.2h-3.5M297,337.1h3.5M431,337.1h-3.5M297,210.9h2M431,210.9h-2M297,216.4h2M431,216.4h-2M297,221.9h2M431,221.9h-2M297,232.9h2M431,232.9h-2M297,238.4h2M431,238.4h-2M297,243.9h2M431,243.9h-2M297,254.8h2M431,254.8h-2M297,260.3h2M431,260.3h-2M297,265.8h2M431,265.8h-2M297,276.8h2M431,276.8h-2M297,282.2h2M431,282.2h-2M297,287.7h2M431,287.7h-2M297,298.7h2M431,298.7h-2M297,304.2h2M431,304.2h-2M297,309.7h2M431,309.7h-2M297,320.6h2M431,320.6h-2M297,326.1h2M431,326.1h-2M297,331.6h2M431,331.6h-2M297,342.6h2M431,342.6h-2" stroke="#222" stroke-width="0.9" fill="none"/>
<text x="317.5" y="326.4" font-size="9.4" text-anchor="start" fill="#e02a20" stroke="#e02a20" stroke-width="0.25" xml:space="preserve">RHESSI  10-15 keV</text>
<text x="317.5" y="336.7" font-size="9.4" text-anchor="start" fill="#2a2ac0" stroke="#2a2ac0" stroke-width="0.25" xml:space="preserve">RHESSI 40-60 keV</text>
<text x="364.0" y="198.3" font-size="12.1" text-anchor="middle" fill="#000" stroke="#000" stroke-width="0.25" >SOHO/EIT 195A</text>
<text x="273.7" y="196.8" font-size="14" text-anchor="start" fill="#000" stroke="#000" stroke-width="0.25" >(e)</text>
<text x="293.2" y="231.0" font-size="10.0" text-anchor="end" fill="#000" stroke="#000" stroke-width="0.25" >-240</text>
<text x="293.2" y="252.9" font-size="10.0" text-anchor="end" fill="#000" stroke="#000" stroke-width="0.25" >-260</text>
<text x="293.2" y="274.9" font-size="10.0" text-anchor="end" fill="#000" stroke="#000" stroke-width="0.25" >-280</text>
<text x="293.2" y="296.8" font-size="10.0" text-anchor="end" fill="#000" stroke="#000" stroke-width="0.25" >-300</text>
<text x="293.2" y="318.8" font-size="10.0" text-anchor="end" fill="#000" stroke="#000" stroke-width="0.25" >-320</text>
<text x="293.2" y="340.7" font-size="10.0" text-anchor="end" fill="#000" stroke="#000" stroke-width="0.25" >-340</text>
<text x="318.1" y="362.3" font-size="10.0" text-anchor="middle" fill="#000" stroke="#000" stroke-width="0.25" >-980</text>
<text x="338.9" y="362.3" font-size="10.0" text-anchor="middle" fill="#000" stroke="#000" stroke-width="0.25" >-960</text>
<text x="359.7" y="362.3" font-size="10.0" text-anchor="middle" fill="#000" stroke="#000" stroke-width="0.25" >-940</text>
<text x="380.5" y="362.3" font-size="10.0" text-anchor="middle" fill="#000" stroke="#000" stroke-width="0.25" >-920</text>
<text x="401.3" y="362.3" font-size="10.0" text-anchor="middle" fill="#000" stroke="#000" stroke-width="0.25" >-900</text>
<text x="422.1" y="362.3" font-size="10.0" text-anchor="middle" fill="#000" stroke="#000" stroke-width="0.25" >-880</text>
<text transform="translate(265.5,275.4) rotate(-90)" font-size="10.0" text-anchor="middle" stroke="#000" stroke-width="0.25">Y (arcsec)</text>
<clipPath id="ch"><rect x="297" y="391" width="134" height="140"/></clipPath>
<g clip-path="url(#ch)">
<g filter="url(#bl05)">
<path fill="#fafcf6" d="M302.4 492.6h5.95v5.95h-5.95zM297 498h16.65v5.95h-16.65zM297 503.4h16.65v5.95h-16.65zM297 508.7h16.65v5.95h-16.65zM297 514h16.65v5.95h-16.65zM297 519.4h16.65v5.95h-16.65zM297 524.8h16.65v5.95h-16.65zM297 530.1h22v5.95h-22zM297 535.5h22v5.95h-22zM297 540.8h27.35v5.95h-27.35z"/>
<path fill="#f8faf2" d="M297 476.6h16.65v5.95h-16.65zM297 481.9h22v5.95h-22zM297 487.3h22v5.95h-22zM297 492.6h5.95v5.95h-5.95zM307.7 492.6h11.3v5.95h-11.3zM313.1 498h11.3v5.95h-11.3zM313.1 503.4h11.3v5.95h-11.3zM313.1 508.7h11.3v5.95h-11.3zM313.1 514h16.65v5.95h-16.65zM313.1 519.4h16.65v5.95h-16.65zM313.1 524.8h22v5.95h-22zM318.4 530.1h22v5.95h-22zM318.4 535.5h70.15v5.95h-70.15zM323.8 540.8h80.85v5.95h-80.85zM436.1 540.8h11.3v5.95h-11.3z"/>
<path fill="#f5f9ee" d="M409.4 407.1h5.95v5.95h-5.95zM404 412.4h11.3v5.95h-11.3zM409.4 417.8h5.95v5.95h-5.95zM297 465.9h16.65v5.95h-16.65zM297 471.2h22v5.95h-22zM313.1 476.6h5.95v5.95h-5.95zM318.4 481.9h5.95v5.95h-5.95zM318.4 487.3h5.95v5.95h-5.95zM318.4 492.6h11.3v5.95h-11.3zM323.8 498h5.95v5.95h-5.95zM323.8 503.4h11.3v5.95h-11.3zM323.8 508.7h16.65v5.95h-16.65zM329.1 514h16.65v5.95h-16.65zM329.1 519.4h54.1v5.95h-54.1zM334.4 524.8h59.45v5.95h-59.45zM339.8 530.1h59.45v5.95h-59.45zM436.1 530.1h11.3v5.95h-11.3zM387.9 535.5h22v5.95h-22zM425.4 535.5h22v5.95h-22zM404 540.8h32.7v5.95h-32.7z"/>
<path fill="#f3f7e9" d="M404 401.7h11.3v5.95h-11.3zM404 407.1h5.95v5.95h-5.95zM404 417.8h5.95v5.95h-5.95zM297 460.6h16.65v5.95h-16.65zM313.1 465.9h5.95v5.95h-5.95zM318.4 471.2h5.95v5.95h-5.95zM318.4 476.6h11.3v5.95h-11.3zM323.8 481.9h11.3v5.95h-11.3zM323.8 487.3h11.3v5.95h-11.3zM329.1 492.6h11.3v5.95h-11.3zM329.1 498h16.65v5.95h-16.65zM334.4 503.4h43.4v5.95h-43.4zM339.8 508.7h48.75v5.95h-48.75zM345.1 514h48.75v5.95h-48.75zM382.6 519.4h16.65v5.95h-16.65zM393.3 524.8h11.3v5.95h-11.3zM436.1 524.8h5.95v5.95h-5.95zM398.6 530.1h16.65v5.95h-16.65zM425.4 530.1h11.3v5.95h-11.3zM409.4 535.5h16.65v5.95h-16.65z"/>
<path fill="#f0f6e4" d="M404 396.4h11.3v5.95h-11.3zM404 423.1h11.3v5.95h-11.3zM297 455.2h16.65v5.95h-16.65zM313.1 460.6h5.95v5.95h-5.95zM318.4 465.9h5.95v5.95h-5.95zM323.8 471.2h11.3v5.95h-11.3zM329.1 476.6h11.3v5.95h-11.3zM334.4 481.9h11.3v5.95h-11.3zM334.4 487.3h22v5.95h-22zM339.8 492.6h38.05v5.95h-38.05zM345.1 498h43.4v5.95h-43.4zM377.2 503.4h16.65v5.95h-16.65zM387.9 508.7h5.95v5.95h-5.95zM393.3 514h5.95v5.95h-5.95zM398.6 519.4h5.95v5.95h-5.95zM436.1 519.4h5.95v5.95h-5.95zM404 524.8h5.95v5.95h-5.95zM425.4 524.8h11.3v5.95h-11.3zM414.7 530.1h11.3v5.95h-11.3z"/>
<path fill="#edf3de" d="M404 391h11.3v5.95h-11.3zM414.7 412.4h5.95v5.95h-5.95zM414.7 417.8h5.95v5.95h-5.95zM297 449.9h11.3v5.95h-11.3zM318.4 460.6h5.95v5.95h-5.95zM323.8 465.9h5.95v5.95h-5.95zM334.4 471.2h5.95v5.95h-5.95zM339.8 476.6h11.3v5.95h-11.3zM345.1 481.9h16.65v5.95h-16.65zM355.9 487.3h22v5.95h-22zM377.2 492.6h11.3v5.95h-11.3zM387.9 498h5.95v5.95h-5.95zM393.3 503.4h5.95v5.95h-5.95zM393.3 508.7h5.95v5.95h-5.95zM398.6 514h5.95v5.95h-5.95zM436.1 514h5.95v5.95h-5.95zM404 519.4h5.95v5.95h-5.95zM425.4 519.4h11.3v5.95h-11.3zM409.4 524.8h16.65v5.95h-16.65z"/>
<path fill="#e9f1d7" d="M398.6 401.7h5.95v5.95h-5.95zM398.6 407.1h5.95v5.95h-5.95zM398.6 412.4h5.95v5.95h-5.95zM398.6 417.8h5.95v5.95h-5.95zM414.7 423.1h5.95v5.95h-5.95zM409.4 428.4h5.95v5.95h-5.95zM313.1 455.2h5.95v5.95h-5.95zM323.8 460.6h5.95v5.95h-5.95zM329.1 465.9h5.95v5.95h-5.95zM339.8 471.2h5.95v5.95h-5.95zM350.5 476.6h5.95v5.95h-5.95zM361.2 481.9h11.3v5.95h-11.3zM377.2 487.3h5.95v5.95h-5.95zM387.9 492.6h5.95v5.95h-5.95zM393.3 498h5.95v5.95h-5.95zM398.6 508.7h5.95v5.95h-5.95zM436.1 508.7h5.95v5.95h-5.95zM404 514h5.95v5.95h-5.95zM430.8 514h5.95v5.95h-5.95zM409.4 519.4h16.65v5.95h-16.65z"/>
<path fill="#e6efd0" d="M398.6 396.4h5.95v5.95h-5.95zM398.6 423.1h5.95v5.95h-5.95zM404 428.4h5.95v5.95h-5.95zM297 444.5h11.3v5.95h-11.3zM307.7 449.9h5.95v5.95h-5.95zM318.4 455.2h5.95v5.95h-5.95zM334.4 465.9h5.95v5.95h-5.95zM345.1 471.2h5.95v5.95h-5.95zM355.9 476.6h5.95v5.95h-5.95zM371.9 481.9h5.95v5.95h-5.95zM382.6 487.3h5.95v5.95h-5.95zM398.6 503.4h5.95v5.95h-5.95zM404 508.7h5.95v5.95h-5.95zM430.8 508.7h5.95v5.95h-5.95zM409.4 514h5.95v5.95h-5.95zM420.1 514h11.3v5.95h-11.3z"/>
<path fill="#e3edc9" d="M398.6 391h5.95v5.95h-5.95zM393.3 407.1h5.95v5.95h-5.95zM393.3 412.4h5.95v5.95h-5.95zM414.7 428.4h5.95v5.95h-5.95zM313.1 449.9h5.95v5.95h-5.95zM329.1 460.6h5.95v5.95h-5.95zM339.8 465.9h5.95v5.95h-5.95zM350.5 471.2h5.95v5.95h-5.95zM361.2 476.6h5.95v5.95h-5.95zM393.3 492.6h5.95v5.95h-5.95zM398.6 498h5.95v5.95h-5.95zM409.4 508.7h5.95v5.95h-5.95zM425.4 508.7h5.95v5.95h-5.95zM414.7 514h5.95v5.95h-5.95z"/>
<path fill="#dfebc3" d="M393.3 396.4h5.95v5.95h-5.95zM297 401.7h27.35v5.95h-27.35zM393.3 401.7h5.95v5.95h-5.95zM297 407.1h96.9v5.95h-96.9zM297 412.4h48.75v5.95h-48.75zM361.2 412.4h32.7v5.95h-32.7zM297 417.8h16.65v5.95h-16.65zM393.3 417.8h5.95v5.95h-5.95zM409.4 433.8h5.95v5.95h-5.95zM297 439.1h5.95v5.95h-5.95zM307.7 444.5h5.95v5.95h-5.95zM323.8 455.2h5.95v5.95h-5.95zM366.6 476.6h5.95v5.95h-5.95zM377.2 481.9h5.95v5.95h-5.95zM387.9 487.3h5.95v5.95h-5.95zM404 503.4h5.95v5.95h-5.95zM430.8 503.4h5.95v5.95h-5.95zM414.7 508.7h11.3v5.95h-11.3z"/>
<path fill="#dce9bc" d="M297 391h102.2v5.95h-102.2zM297 396.4h96.9v5.95h-96.9zM323.8 401.7h70.15v5.95h-70.15zM345.1 412.4h16.65v5.95h-16.65zM313.1 417.8h80.85v5.95h-80.85zM297 423.1h11.3v5.95h-11.3zM393.3 423.1h5.95v5.95h-5.95zM398.6 428.4h5.95v5.95h-5.95zM414.7 433.8h5.95v5.95h-5.95zM302.4 439.1h5.95v5.95h-5.95zM334.4 460.6h5.95v5.95h-5.95zM345.1 465.9h5.95v5.95h-5.95zM355.9 471.2h5.95v5.95h-5.95zM382.6 481.9h5.95v5.95h-5.95zM398.6 492.6h5.95v5.95h-5.95zM404 498h5.95v5.95h-5.95zM409.4 503.4h5.95v5.95h-5.95zM425.4 503.4h5.95v5.95h-5.95z"/>
<path fill="#d8e6b4" d="M307.7 423.1h11.3v5.95h-11.3zM382.6 423.1h11.3v5.95h-11.3zM297 428.4h11.3v5.95h-11.3zM297 433.8h11.3v5.95h-11.3zM404 433.8h5.95v5.95h-5.95zM420.1 433.8h5.95v5.95h-5.95zM318.4 449.9h5.95v5.95h-5.95zM371.9 476.6h5.95v5.95h-5.95zM393.3 487.3h5.95v5.95h-5.95zM430.8 498h5.95v5.95h-5.95zM414.7 503.4h11.3v5.95h-11.3z"/>
<path fill="#d3e4ab" d="M318.4 423.1h64.8v5.95h-64.8zM307.7 428.4h5.95v5.95h-5.95zM393.3 428.4h5.95v5.95h-5.95zM307.7 439.1h5.95v5.95h-5.95zM313.1 444.5h5.95v5.95h-5.95zM329.1 455.2h5.95v5.95h-5.95zM339.8 460.6h5.95v5.95h-5.95zM350.5 465.9h5.95v5.95h-5.95zM361.2 471.2h5.95v5.95h-5.95zM387.9 481.9h5.95v5.95h-5.95zM404 492.6h5.95v5.95h-5.95zM409.4 498h5.95v5.95h-5.95zM425.4 498h5.95v5.95h-5.95z"/>
<path fill="#cfe1a3" d="M313.1 428.4h5.95v5.95h-5.95zM387.9 428.4h5.95v5.95h-5.95zM307.7 433.8h5.95v5.95h-5.95zM323.8 449.9h5.95v5.95h-5.95zM377.2 476.6h5.95v5.95h-5.95zM398.6 487.3h5.95v5.95h-5.95zM414.7 498h11.3v5.95h-11.3z"/>
<path fill="#cade9b" d="M318.4 428.4h5.95v5.95h-5.95zM382.6 428.4h5.95v5.95h-5.95zM398.6 433.8h5.95v5.95h-5.95zM313.1 439.1h5.95v5.95h-5.95zM409.4 439.1h16.65v5.95h-16.65zM318.4 444.5h5.95v5.95h-5.95zM334.4 455.2h5.95v5.95h-5.95zM366.6 471.2h5.95v5.95h-5.95zM409.4 492.6h5.95v5.95h-5.95zM430.8 492.6h5.95v5.95h-5.95z"/>
<path fill="#c6db92" d="M323.8 428.4h5.95v5.95h-5.95zM366.6 428.4h16.65v5.95h-16.65zM313.1 433.8h5.95v5.95h-5.95zM345.1 460.6h5.95v5.95h-5.95zM355.9 465.9h5.95v5.95h-5.95zM382.6 476.6h5.95v5.95h-5.95zM393.3 481.9h5.95v5.95h-5.95zM404 487.3h5.95v5.95h-5.95zM414.7 492.6h16.65v5.95h-16.65z"/>
<path fill="#c1d98a" d="M329.1 428.4h38.05v5.95h-38.05zM393.3 433.8h5.95v5.95h-5.95zM404 439.1h5.95v5.95h-5.95zM329.1 449.9h5.95v5.95h-5.95z"/>
<path fill="#bcd680" d="M318.4 433.8h5.95v5.95h-5.95zM318.4 439.1h5.95v5.95h-5.95zM323.8 444.5h5.95v5.95h-5.95zM339.8 455.2h5.95v5.95h-5.95zM361.2 465.9h5.95v5.95h-5.95zM371.9 471.2h5.95v5.95h-5.95zM398.6 481.9h5.95v5.95h-5.95zM409.4 487.3h5.95v5.95h-5.95zM430.8 487.3h5.95v5.95h-5.95z"/>
<path fill="#b7d374" d="M323.8 433.8h5.95v5.95h-5.95zM387.9 433.8h5.95v5.95h-5.95zM420.1 444.5h5.95v5.95h-5.95zM350.5 460.6h5.95v5.95h-5.95zM387.9 476.6h5.95v5.95h-5.95zM425.4 487.3h5.95v5.95h-5.95z"/>
<path fill="#b2d069" d="M329.1 433.8h5.95v5.95h-5.95zM382.6 433.8h5.95v5.95h-5.95zM323.8 439.1h5.95v5.95h-5.95zM398.6 439.1h5.95v5.95h-5.95zM414.7 444.5h5.95v5.95h-5.95zM404 481.9h5.95v5.95h-5.95zM414.7 487.3h11.3v5.95h-11.3z"/>
<path fill="#accd5e" d="M334.4 433.8h5.95v5.95h-5.95zM371.9 433.8h11.3v5.95h-11.3zM329.1 444.5h5.95v5.95h-5.95zM409.4 444.5h5.95v5.95h-5.95zM334.4 449.9h5.95v5.95h-5.95zM366.6 465.9h5.95v5.95h-5.95zM377.2 471.2h5.95v5.95h-5.95zM430.8 481.9h5.95v5.95h-5.95z"/>
<path fill="#a7ca53" d="M339.8 433.8h32.7v5.95h-32.7zM329.1 439.1h5.95v5.95h-5.95zM345.1 455.2h5.95v5.95h-5.95zM355.9 460.6h5.95v5.95h-5.95zM393.3 476.6h5.95v5.95h-5.95zM409.4 481.9h5.95v5.95h-5.95z"/>
<path fill="#a2c748" d="M393.3 439.1h5.95v5.95h-5.95zM404 444.5h5.95v5.95h-5.95zM420.1 449.9h5.95v5.95h-5.95zM382.6 471.2h5.95v5.95h-5.95zM414.7 481.9h5.95v5.95h-5.95zM425.4 481.9h5.95v5.95h-5.95z"/>
<path fill="#9dc440" d="M334.4 439.1h5.95v5.95h-5.95zM334.4 444.5h5.95v5.95h-5.95zM339.8 449.9h5.95v5.95h-5.95zM398.6 476.6h5.95v5.95h-5.95zM420.1 481.9h5.95v5.95h-5.95z"/>
<path fill="#98c238" d="M387.9 439.1h5.95v5.95h-5.95zM414.7 449.9h5.95v5.95h-5.95zM350.5 455.2h5.95v5.95h-5.95zM361.2 460.6h5.95v5.95h-5.95zM371.9 465.9h5.95v5.95h-5.95z"/>
<path fill="#93c030" d="M339.8 439.1h5.95v5.95h-5.95zM382.6 439.1h5.95v5.95h-5.95zM339.8 444.5h5.95v5.95h-5.95zM387.9 471.2h5.95v5.95h-5.95zM404 476.6h5.95v5.95h-5.95zM425.4 476.6h5.95v5.95h-5.95z"/>
<path fill="#8ebd28" d="M345.1 439.1h11.3v5.95h-11.3zM398.6 444.5h5.95v5.95h-5.95zM345.1 449.9h5.95v5.95h-5.95zM409.4 449.9h5.95v5.95h-5.95zM420.1 455.2h5.95v5.95h-5.95zM409.4 476.6h5.95v5.95h-5.95zM420.1 476.6h5.95v5.95h-5.95z"/>
<path fill="#89ba21" d="M355.9 439.1h27.35v5.95h-27.35zM355.9 455.2h5.95v5.95h-5.95zM425.4 460.6h5.95v5.95h-5.95zM425.4 471.2h5.95v5.95h-5.95zM414.7 476.6h5.95v5.95h-5.95z"/>
<path fill="#83b61e" d="M345.1 444.5h5.95v5.95h-5.95zM350.5 449.9h5.95v5.95h-5.95zM366.6 460.6h5.95v5.95h-5.95zM377.2 465.9h5.95v5.95h-5.95zM425.4 465.9h5.95v5.95h-5.95zM393.3 471.2h5.95v5.95h-5.95z"/>
<path fill="#7db11b" d="M350.5 444.5h5.95v5.95h-5.95zM393.3 444.5h5.95v5.95h-5.95zM404 449.9h5.95v5.95h-5.95zM414.7 455.2h5.95v5.95h-5.95zM420.1 460.6h5.95v5.95h-5.95zM398.6 471.2h5.95v5.95h-5.95zM420.1 471.2h5.95v5.95h-5.95z"/>
<path fill="#77ad17" d="M361.2 455.2h5.95v5.95h-5.95zM382.6 465.9h5.95v5.95h-5.95zM420.1 465.9h5.95v5.95h-5.95zM404 471.2h16.65v5.95h-16.65z"/>
<path fill="#71a914" d="M355.9 444.5h5.95v5.95h-5.95zM387.9 444.5h5.95v5.95h-5.95zM355.9 449.9h5.95v5.95h-5.95zM371.9 460.6h5.95v5.95h-5.95z"/>
<path fill="#6ba411" d="M361.2 444.5h5.95v5.95h-5.95zM398.6 449.9h5.95v5.95h-5.95zM409.4 455.2h5.95v5.95h-5.95zM414.7 460.6h5.95v5.95h-5.95zM387.9 465.9h5.95v5.95h-5.95zM414.7 465.9h5.95v5.95h-5.95z"/>
<path fill="#629e0f" d="M366.6 444.5h5.95v5.95h-5.95zM382.6 444.5h5.95v5.95h-5.95zM361.2 449.9h5.95v5.95h-5.95zM366.6 455.2h5.95v5.95h-5.95z"/>
<path fill="#5a990c" d="M371.9 444.5h11.3v5.95h-11.3zM393.3 465.9h5.95v5.95h-5.95zM409.4 465.9h5.95v5.95h-5.95z"/>
<path fill="#529409" d="M366.6 449.9h5.95v5.95h-5.95zM393.3 449.9h5.95v5.95h-5.95zM404 455.2h5.95v5.95h-5.95zM409.4 460.6h5.95v5.95h-5.95zM398.6 465.9h11.3v5.95h-11.3z"/>
<path fill="#498e07" d="M377.2 460.6h5.95v5.95h-5.95z"/>
<path fill="#418706" d="M387.9 449.9h5.95v5.95h-5.95zM398.6 455.2h5.95v5.95h-5.95zM382.6 460.6h5.95v5.95h-5.95zM404 460.6h5.95v5.95h-5.95z"/>
<path fill="#388005" d="M371.9 449.9h5.95v5.95h-5.95zM371.9 455.2h5.95v5.95h-5.95zM387.9 460.6h5.95v5.95h-5.95zM398.6 460.6h5.95v5.95h-5.95z"/>
<path fill="#2f7805" d="M393.3 455.2h5.95v5.95h-5.95zM393.3 460.6h5.95v5.95h-5.95z"/>
<path fill="#267004" d="M387.9 455.2h5.95v5.95h-5.95z"/>
<path fill="#1f6604" d="M382.6 449.9h5.95v5.95h-5.95z"/>
<path fill="#175c03" d="M377.2 449.9h5.95v5.95h-5.95z"/>
<path fill="#0a4302" d="M377.2 455.2h11.3v5.95h-11.3z"/>
</g>
<polygon points="411.7,386.0 445.2,536.0 436,536 436,386" fill="url(#doth)"/>
<polyline points="411.7,386.0 445.2,536.0" fill="none" stroke="#111" stroke-width="1.45"/>
</g>
<circle cx="366.0" cy="448.0" r="13.5" fill="none" fill-opacity="1" stroke="#283478" stroke-width="1.2"/>
<circle cx="366.0" cy="448.0" r="9.3" fill="none" fill-opacity="1" stroke="#283478" stroke-width="1.2"/>
<circle cx="366.0" cy="448.0" r="5.1" fill="none" fill-opacity="1" stroke="#283478" stroke-width="1.2"/>
<path d="M372.5,445.5C374.1,444.2 376.9,444.2 379.1,444.1C381.3,443.9 383.6,444.1 385.7,444.8C387.7,445.5 389.7,446.9 391.5,448.5C393.4,450.1 395.2,452.4 396.7,454.3C398.1,456.3 399.5,458.1 400.3,460.2C401.1,462.3 401.5,464.8 401.4,466.8C401.3,468.7 400.8,470.9 399.6,471.9C398.4,473.0 396.4,473.1 394.5,473.0C392.5,472.9 390.1,472.0 387.9,471.2C385.7,470.4 383.5,469.5 381.3,468.3C379.1,467.0 376.5,465.4 374.7,463.9C372.8,462.3 371.1,460.7 370.3,458.7C369.4,456.8 369.2,454.3 369.5,452.1C369.9,449.9 370.9,446.9 372.5,445.5Z" fill="none" stroke="#c0500f" stroke-width="1.1"/>
<path d="M374.7,448.6C376.0,447.9 379.8,447.5 382.0,447.7C384.2,448.0 386.3,448.8 387.9,449.9C389.4,451.0 390.7,452.7 391.5,454.3C392.4,455.9 392.9,457.7 393.0,459.5C393.1,461.2 392.9,463.5 392.3,464.6C391.6,465.7 390.8,466.1 389.3,466.1C387.9,466.1 385.3,465.3 383.5,464.6C381.6,463.9 379.8,462.9 378.3,461.7C376.9,460.4 375.4,458.8 374.7,457.3C373.9,455.7 373.8,453.6 373.8,452.1C373.8,450.7 373.3,449.3 374.7,448.6Z" fill="none" stroke="#c0500f" stroke-width="1.1"/>
<path d="M379.8,452.9C380.8,452.2 383.0,452.3 384.2,452.5C385.4,452.7 386.5,453.4 387.1,454.3C387.7,455.2 388.0,456.8 387.9,458.0C387.7,459.2 387.2,460.7 386.4,461.3C385.5,461.9 383.8,461.9 382.7,461.7C381.6,461.4 380.5,460.7 379.8,459.8C379.1,459.0 378.3,457.7 378.3,456.5C378.3,455.4 378.8,453.5 379.8,452.9Z" fill="none" stroke="#c0500f" stroke-width="1.1"/>
<rect x="297" y="391" width="134" height="140" fill="none" stroke="#333" stroke-width="1.3"/>
<path d="M307.0,531v-3.5M307.0,391v3.5M327.2,531v-3.5M327.2,391v3.5M347.4,531v-3.5M347.4,391v3.5M367.7,531v-3.5M367.7,391v3.5M387.9,531v-3.5M387.9,391v3.5M408.1,531v-3.5M408.1,391v3.5M428.3,531v-3.5M428.3,391v3.5M301.9,531v-2M301.9,391v2M312.1,531v-2M312.1,391v2M317.1,531v-2M317.1,391v2M322.2,531v-2M322.2,391v2M332.3,531v-2M332.3,391v2M337.3,531v-2M337.3,391v2M342.4,531v-2M342.4,391v2M352.5,531v-2M352.5,391v2M357.6,531v-2M357.6,391v2M362.6,531v-2M362.6,391v2M372.7,531v-2M372.7,391v2M377.8,531v-2M377.8,391v2M382.8,531v-2M382.8,391v2M392.9,531v-2M392.9,391v2M398.0,531v-2M398.0,391v2M403.0,531v-2M403.0,391v2M413.2,531v-2M413.2,391v2M418.2,531v-2M418.2,391v2M423.3,531v-2M423.3,391v2M297,405.6h3.5M431,405.6h-3.5M297,427.5h3.5M431,427.5h-3.5M297,449.4h3.5M431,449.4h-3.5M297,471.3h3.5M431,471.3h-3.5M297,493.2h3.5M431,493.2h-3.5M297,515.1h3.5M431,515.1h-3.5M297,394.7h2M431,394.7h-2M297,400.1h2M431,400.1h-2M297,411.1h2M431,411.1h-2M297,416.6h2M431,416.6h-2M297,422.0h2M431,422.0h-2M297,433.0h2M431,433.0h-2M297,438.5h2M431,438.5h-2M297,443.9h2M431,443.9h-2M297,454.9h2M431,454.9h-2M297,460.4h2M431,460.4h-2M297,465.8h2M431,465.8h-2M297,476.8h2M431,476.8h-2M297,482.2h2M431,482.2h-2M297,487.7h2M431,487.7h-2M297,498.7h2M431,498.7h-2M297,504.2h2M431,504.2h-2M297,509.6h2M431,509.6h-2M297,520.6h2M431,520.6h-2M297,526.0h2M431,526.0h-2" stroke="#222" stroke-width="0.9" fill="none"/>
<text x="317.5" y="512.4" font-size="9.4" text-anchor="start" fill="#e02a20" stroke="#e02a20" stroke-width="0.25" xml:space="preserve">RHESSI  6-12 keV</text>
<text x="317.5" y="522.7" font-size="9.4" text-anchor="start" fill="#2a2ac0" stroke="#2a2ac0" stroke-width="0.25" xml:space="preserve">RHESSI 25-50 keV</text>
<text x="364.0" y="384.3" font-size="12.1" text-anchor="middle" fill="#000" stroke="#000" stroke-width="0.25" >SOHO/EIT 195A</text>
<text x="273.7" y="382.8" font-size="14" text-anchor="start" fill="#000" stroke="#000" stroke-width="0.25" >(h)</text>
<text x="293.2" y="409.2" font-size="10.0" text-anchor="end" fill="#000" stroke="#000" stroke-width="0.25" >-180</text>
<text x="293.2" y="431.1" font-size="10.0" text-anchor="end" fill="#000" stroke="#000" stroke-width="0.25" >-200</text>
<text x="293.2" y="453.0" font-size="10.0" text-anchor="end" fill="#000" stroke="#000" stroke-width="0.25" >-220</text>
<text x="293.2" y="474.9" font-size="10.0" text-anchor="end" fill="#000" stroke="#000" stroke-width="0.25" >-240</text>
<text x="293.2" y="496.8" font-size="10.0" text-anchor="end" fill="#000" stroke="#000" stroke-width="0.25" >-260</text>
<text x="293.2" y="518.7" font-size="10.0" text-anchor="end" fill="#000" stroke="#000" stroke-width="0.25" >-280</text>
<text x="307.0" y="548.3" font-size="10.0" text-anchor="middle" fill="#000" stroke="#000" stroke-width="0.25" >-1060</text>
<text x="327.2" y="548.3" font-size="10.0" text-anchor="middle" fill="#000" stroke="#000" stroke-width="0.25" >-1040</text>
<text x="347.4" y="548.3" font-size="10.0" text-anchor="middle" fill="#000" stroke="#000" stroke-width="0.25" >-1020</text>
<text x="367.7" y="548.3" font-size="10.0" text-anchor="middle" fill="#000" stroke="#000" stroke-width="0.25" >-1000</text>
<text x="387.9" y="548.3" font-size="10.0" text-anchor="middle" fill="#000" stroke="#000" stroke-width="0.25" >-980</text>
<text x="408.1" y="548.3" font-size="10.0" text-anchor="middle" fill="#000" stroke="#000" stroke-width="0.25" >-960</text>
<text x="428.3" y="548.3" font-size="10.0" text-anchor="middle" fill="#000" stroke="#000" stroke-width="0.25" >-940</text>
<text transform="translate(265.5,461.9) rotate(-90)" font-size="10.0" text-anchor="middle" stroke="#000" stroke-width="0.25">Y (arcsec)</text>
<clipPath id="ck"><rect x="297" y="577" width="134" height="140"/></clipPath>
<g clip-path="url(#ck)">
<g filter="url(#bl15)">
<path fill="#fdfdfb" d="M417 571h21.6v3.6h-21.6zM414 574h24.6v3.6h-24.6zM414 577h24.6v3.6h-24.6zM414 580h24.6v3.6h-24.6zM414 583h24.6v3.6h-24.6zM414 586h24.6v3.6h-24.6zM414 589h24.6v3.6h-24.6zM411 592h27.6v3.6h-27.6zM411 595h27.6v3.6h-27.6zM411 598h27.6v3.6h-27.6zM411 601h27.6v3.6h-27.6zM411 604h27.6v3.6h-27.6zM411 607h27.6v3.6h-27.6zM408 610h30.6v3.6h-30.6zM408 613h30.6v3.6h-30.6zM408 616h30.6v3.6h-30.6zM408 619h30.6v3.6h-30.6zM408 622h30.6v3.6h-30.6zM408 625h30.6v3.6h-30.6zM405 628h33.6v3.6h-33.6zM405 631h33.6v3.6h-33.6zM405 634h33.6v3.6h-33.6zM405 637h33.6v3.6h-33.6zM405 640h33.6v3.6h-33.6zM402 643h36.6v3.6h-36.6zM402 646h36.6v3.6h-36.6zM402 649h36.6v3.6h-36.6zM402 652h36.6v3.6h-36.6zM402 655h36.6v3.6h-36.6zM402 658h36.6v3.6h-36.6zM399 661h39.6v3.6h-39.6zM399 664h39.6v3.6h-39.6zM399 667h39.6v3.6h-39.6zM399 670h39.6v3.6h-39.6zM399 673h39.6v3.6h-39.6zM399 676h39.6v3.6h-39.6zM396 679h42.6v3.6h-42.6zM396 682h42.6v3.6h-42.6zM396 685h42.6v3.6h-42.6zM396 688h42.6v3.6h-42.6zM396 691h42.6v3.6h-42.6zM396 694h42.6v3.6h-42.6zM393 697h45.6v3.6h-45.6zM393 700h45.6v3.6h-45.6zM393 703h45.6v3.6h-45.6zM393 706h45.6v3.6h-45.6zM393 709h45.6v3.6h-45.6zM393 712h45.6v3.6h-45.6zM390 715h48.6v3.6h-48.6zM390 718h48.6v3.6h-48.6zM390 721h48.6v3.6h-48.6z"/>
<path fill="#f8faf2" d="M291 571h24.6v3.6h-24.6zM291 574h21.6v3.6h-21.6zM291 577h18.6v3.6h-18.6zM291 580h18.6v3.6h-18.6zM291 583h15.6v3.6h-15.6zM291 586h12.6v3.6h-12.6zM291 589h12.6v3.6h-12.6zM291 592h9.6v3.6h-9.6zM291 595h9.6v3.6h-9.6zM291 598h6.6v3.6h-6.6zM291 601h6.6v3.6h-6.6zM291 604h6.6v3.6h-6.6zM291 607h3.6v3.6h-3.6zM291 610h3.6v3.6h-3.6zM291 613h3.6v3.6h-3.6zM291 616h3.6v3.6h-3.6zM291 673h3.6v3.6h-3.6zM291 676h3.6v3.6h-3.6zM291 679h3.6v3.6h-3.6zM291 682h3.6v3.6h-3.6zM291 685h6.6v3.6h-6.6zM291 688h6.6v3.6h-6.6zM291 691h9.6v3.6h-9.6zM291 694h9.6v3.6h-9.6zM291 697h9.6v3.6h-9.6zM291 700h12.6v3.6h-12.6zM291 703h12.6v3.6h-12.6zM291 706h15.6v3.6h-15.6zM291 709h18.6v3.6h-18.6zM291 712h18.6v3.6h-18.6zM291 715h21.6v3.6h-21.6zM291 718h24.6v3.6h-24.6zM291 721h27.6v3.6h-27.6z"/>
<path fill="#f5f9ee" d="M315 571h9.6v3.6h-9.6zM411 571h6.6v3.6h-6.6zM312 574h9.6v3.6h-9.6zM309 577h12.6v3.6h-12.6zM309 580h9.6v3.6h-9.6zM306 583h9.6v3.6h-9.6zM303 586h9.6v3.6h-9.6zM303 589h9.6v3.6h-9.6zM300 592h9.6v3.6h-9.6zM300 595h9.6v3.6h-9.6zM297 598h9.6v3.6h-9.6zM297 601h9.6v3.6h-9.6zM297 604h6.6v3.6h-6.6zM294 607h9.6v3.6h-9.6zM294 610h9.6v3.6h-9.6zM294 613h6.6v3.6h-6.6zM294 616h6.6v3.6h-6.6zM291 619h9.6v3.6h-9.6zM291 622h9.6v3.6h-9.6zM291 625h6.6v3.6h-6.6zM291 628h6.6v3.6h-6.6zM291 631h6.6v3.6h-6.6zM291 634h6.6v3.6h-6.6zM291 637h6.6v3.6h-6.6zM291 640h6.6v3.6h-6.6zM291 643h6.6v3.6h-6.6zM291 646h6.6v3.6h-6.6zM291 649h6.6v3.6h-6.6zM291 652h6.6v3.6h-6.6zM291 655h6.6v3.6h-6.6zM291 658h6.6v3.6h-6.6zM291 661h6.6v3.6h-6.6zM291 664h6.6v3.6h-6.6zM291 667h9.6v3.6h-9.6zM291 670h9.6v3.6h-9.6zM294 673h6.6v3.6h-6.6zM294 676h6.6v3.6h-6.6zM294 679h9.6v3.6h-9.6zM294 682h9.6v3.6h-9.6zM297 685h6.6v3.6h-6.6zM297 688h9.6v3.6h-9.6zM300 691h6.6v3.6h-6.6zM300 694h9.6v3.6h-9.6zM300 697h9.6v3.6h-9.6zM303 700h9.6v3.6h-9.6zM303 703h9.6v3.6h-9.6zM306 706h9.6v3.6h-9.6zM309 709h9.6v3.6h-9.6zM309 712h12.6v3.6h-12.6zM312 715h12.6v3.6h-12.6zM315 718h9.6v3.6h-9.6zM318 721h12.6v3.6h-12.6z"/>
<path fill="#f3f7e9" d="M324 571h9.6v3.6h-9.6zM402 571h9.6v3.6h-9.6zM321 574h9.6v3.6h-9.6zM405 574h9.6v3.6h-9.6zM321 577h6.6v3.6h-6.6zM408 577h6.6v3.6h-6.6zM318 580h6.6v3.6h-6.6zM411 580h3.6v3.6h-3.6zM315 583h6.6v3.6h-6.6zM312 586h6.6v3.6h-6.6zM312 589h6.6v3.6h-6.6zM309 592h6.6v3.6h-6.6zM309 595h3.6v3.6h-3.6zM306 598h6.6v3.6h-6.6zM306 601h3.6v3.6h-3.6zM303 604h6.6v3.6h-6.6zM303 607h6.6v3.6h-6.6zM303 610h3.6v3.6h-3.6zM300 613h6.6v3.6h-6.6zM300 616h6.6v3.6h-6.6zM300 619h3.6v3.6h-3.6zM300 622h3.6v3.6h-3.6zM297 625h6.6v3.6h-6.6zM297 628h6.6v3.6h-6.6zM297 631h6.6v3.6h-6.6zM297 634h6.6v3.6h-6.6zM297 637h6.6v3.6h-6.6zM297 640h3.6v3.6h-3.6zM297 643h3.6v3.6h-3.6zM297 646h3.6v3.6h-3.6zM297 649h3.6v3.6h-3.6zM297 652h6.6v3.6h-6.6zM297 655h6.6v3.6h-6.6zM297 658h6.6v3.6h-6.6zM297 661h6.6v3.6h-6.6zM297 664h6.6v3.6h-6.6zM300 667h3.6v3.6h-3.6zM300 670h3.6v3.6h-3.6zM300 673h6.6v3.6h-6.6zM300 676h6.6v3.6h-6.6zM303 679h3.6v3.6h-3.6zM303 682h6.6v3.6h-6.6zM303 685h6.6v3.6h-6.6zM306 688h3.6v3.6h-3.6zM306 691h6.6v3.6h-6.6zM309 694h6.6v3.6h-6.6zM309 697h6.6v3.6h-6.6zM312 700h6.6v3.6h-6.6zM312 703h6.6v3.6h-6.6zM315 706h6.6v3.6h-6.6zM318 709h6.6v3.6h-6.6zM321 712h6.6v3.6h-6.6zM324 715h6.6v3.6h-6.6zM324 718h9.6v3.6h-9.6zM330 721h9.6v3.6h-9.6z"/>
<path fill="#f0f6e4" d="M333 571h6.6v3.6h-6.6zM396 571h6.6v3.6h-6.6zM330 574h6.6v3.6h-6.6zM399 574h6.6v3.6h-6.6zM327 577h6.6v3.6h-6.6zM402 577h6.6v3.6h-6.6zM324 580h6.6v3.6h-6.6zM405 580h6.6v3.6h-6.6zM321 583h6.6v3.6h-6.6zM408 583h6.6v3.6h-6.6zM318 586h6.6v3.6h-6.6zM411 586h3.6v3.6h-3.6zM318 589h3.6v3.6h-3.6zM315 592h6.6v3.6h-6.6zM312 595h6.6v3.6h-6.6zM312 598h3.6v3.6h-3.6zM309 601h6.6v3.6h-6.6zM309 604h3.6v3.6h-3.6zM309 607h3.6v3.6h-3.6zM306 610h6.6v3.6h-6.6zM306 613h3.6v3.6h-3.6zM306 616h3.6v3.6h-3.6zM303 619h6.6v3.6h-6.6zM303 622h3.6v3.6h-3.6zM303 625h3.6v3.6h-3.6zM303 628h3.6v3.6h-3.6zM303 631h3.6v3.6h-3.6zM303 634h3.6v3.6h-3.6zM303 637h3.6v3.6h-3.6zM300 640h6.6v3.6h-6.6zM300 643h6.6v3.6h-6.6zM300 646h6.6v3.6h-6.6zM300 649h6.6v3.6h-6.6zM303 652h3.6v3.6h-3.6zM303 655h3.6v3.6h-3.6zM303 658h3.6v3.6h-3.6zM303 661h3.6v3.6h-3.6zM303 664h3.6v3.6h-3.6zM303 667h3.6v3.6h-3.6zM303 670h6.6v3.6h-6.6zM306 673h3.6v3.6h-3.6zM306 676h3.6v3.6h-3.6zM306 679h6.6v3.6h-6.6zM309 682h3.6v3.6h-3.6zM309 685h3.6v3.6h-3.6zM309 688h6.6v3.6h-6.6zM312 691h3.6v3.6h-3.6zM315 694h3.6v3.6h-3.6zM315 697h6.6v3.6h-6.6zM318 700h3.6v3.6h-3.6zM318 703h6.6v3.6h-6.6zM321 706h6.6v3.6h-6.6zM324 709h6.6v3.6h-6.6zM327 712h6.6v3.6h-6.6zM330 715h6.6v3.6h-6.6zM333 718h9.6v3.6h-9.6zM339 721h9.6v3.6h-9.6zM387 721h3.6v3.6h-3.6z"/>
<path fill="#edf3de" d="M339 571h9.6v3.6h-9.6zM387 571h9.6v3.6h-9.6zM336 574h6.6v3.6h-6.6zM393 574h6.6v3.6h-6.6zM333 577h6.6v3.6h-6.6zM396 577h6.6v3.6h-6.6zM330 580h3.6v3.6h-3.6zM402 580h3.6v3.6h-3.6zM327 583h3.6v3.6h-3.6zM405 583h3.6v3.6h-3.6zM324 586h3.6v3.6h-3.6zM408 586h3.6v3.6h-3.6zM321 589h6.6v3.6h-6.6zM411 589h3.6v3.6h-3.6zM321 592h3.6v3.6h-3.6zM318 595h3.6v3.6h-3.6zM315 598h6.6v3.6h-6.6zM315 601h3.6v3.6h-3.6zM312 604h6.6v3.6h-6.6zM312 607h3.6v3.6h-3.6zM312 610h3.6v3.6h-3.6zM309 613h3.6v3.6h-3.6zM309 616h3.6v3.6h-3.6zM309 619h3.6v3.6h-3.6zM306 622h6.6v3.6h-6.6zM306 625h3.6v3.6h-3.6zM306 628h3.6v3.6h-3.6zM306 631h3.6v3.6h-3.6zM306 634h3.6v3.6h-3.6zM306 637h3.6v3.6h-3.6zM306 640h3.6v3.6h-3.6zM306 643h3.6v3.6h-3.6zM306 646h3.6v3.6h-3.6zM306 649h3.6v3.6h-3.6zM306 652h3.6v3.6h-3.6zM306 655h3.6v3.6h-3.6zM306 658h3.6v3.6h-3.6zM306 661h3.6v3.6h-3.6zM306 664h3.6v3.6h-3.6zM306 667h6.6v3.6h-6.6zM309 670h3.6v3.6h-3.6zM309 673h3.6v3.6h-3.6zM309 676h3.6v3.6h-3.6zM312 679h3.6v3.6h-3.6zM312 682h3.6v3.6h-3.6zM312 685h6.6v3.6h-6.6zM315 688h3.6v3.6h-3.6zM315 691h6.6v3.6h-6.6zM318 694h3.6v3.6h-3.6zM321 697h3.6v3.6h-3.6zM321 700h6.6v3.6h-6.6zM324 703h6.6v3.6h-6.6zM327 706h6.6v3.6h-6.6zM330 709h6.6v3.6h-6.6zM333 712h6.6v3.6h-6.6zM336 715h6.6v3.6h-6.6zM342 718h9.6v3.6h-9.6zM384 718h6.6v3.6h-6.6zM348 721h12.6v3.6h-12.6zM375 721h12.6v3.6h-12.6z"/>
<path fill="#e9f1d7" d="M348 571h12.6v3.6h-12.6zM375 571h12.6v3.6h-12.6zM342 574h6.6v3.6h-6.6zM384 574h9.6v3.6h-9.6zM339 577h6.6v3.6h-6.6zM390 577h6.6v3.6h-6.6zM333 580h6.6v3.6h-6.6zM396 580h6.6v3.6h-6.6zM330 583h6.6v3.6h-6.6zM399 583h6.6v3.6h-6.6zM327 586h6.6v3.6h-6.6zM405 586h3.6v3.6h-3.6zM327 589h3.6v3.6h-3.6zM408 589h3.6v3.6h-3.6zM324 592h3.6v3.6h-3.6zM408 592h3.6v3.6h-3.6zM321 595h3.6v3.6h-3.6zM321 598h3.6v3.6h-3.6zM318 601h3.6v3.6h-3.6zM318 604h3.6v3.6h-3.6zM315 607h3.6v3.6h-3.6zM315 610h3.6v3.6h-3.6zM312 613h3.6v3.6h-3.6zM312 616h3.6v3.6h-3.6zM312 619h3.6v3.6h-3.6zM312 622h3.6v3.6h-3.6zM309 625h3.6v3.6h-3.6zM309 628h3.6v3.6h-3.6zM309 631h3.6v3.6h-3.6zM309 634h3.6v3.6h-3.6zM309 637h3.6v3.6h-3.6zM309 640h3.6v3.6h-3.6zM309 643h3.6v3.6h-3.6zM309 646h3.6v3.6h-3.6zM309 649h3.6v3.6h-3.6zM309 652h3.6v3.6h-3.6zM309 655h3.6v3.6h-3.6zM309 658h3.6v3.6h-3.6zM309 661h3.6v3.6h-3.6zM309 664h3.6v3.6h-3.6zM312 667h3.6v3.6h-3.6zM312 670h3.6v3.6h-3.6zM312 673h3.6v3.6h-3.6zM312 676h6.6v3.6h-6.6zM315 679h3.6v3.6h-3.6zM315 682h3.6v3.6h-3.6zM318 685h3.6v3.6h-3.6zM318 688h3.6v3.6h-3.6zM321 691h3.6v3.6h-3.6zM321 694h6.6v3.6h-6.6zM324 697h3.6v3.6h-3.6zM327 700h3.6v3.6h-3.6zM330 703h3.6v3.6h-3.6zM333 706h3.6v3.6h-3.6zM336 709h6.6v3.6h-6.6zM339 712h6.6v3.6h-6.6zM390 712h3.6v3.6h-3.6zM342 715h9.6v3.6h-9.6zM384 715h6.6v3.6h-6.6zM351 718h33.6v3.6h-33.6zM360 721h15.6v3.6h-15.6z"/>
<path fill="#e6efd0" d="M360 571h15.6v3.6h-15.6zM348 574h12.6v3.6h-12.6zM372 574h12.6v3.6h-12.6zM345 577h6.6v3.6h-6.6zM384 577h6.6v3.6h-6.6zM339 580h6.6v3.6h-6.6zM390 580h6.6v3.6h-6.6zM336 583h3.6v3.6h-3.6zM393 583h6.6v3.6h-6.6zM333 586h3.6v3.6h-3.6zM399 586h6.6v3.6h-6.6zM330 589h3.6v3.6h-3.6zM405 589h3.6v3.6h-3.6zM327 592h3.6v3.6h-3.6zM324 595h6.6v3.6h-6.6zM408 595h3.6v3.6h-3.6zM324 598h3.6v3.6h-3.6zM321 601h3.6v3.6h-3.6zM321 604h3.6v3.6h-3.6zM318 607h3.6v3.6h-3.6zM318 610h3.6v3.6h-3.6zM315 613h3.6v3.6h-3.6zM315 616h3.6v3.6h-3.6zM315 619h3.6v3.6h-3.6zM315 622h3.6v3.6h-3.6zM312 625h3.6v3.6h-3.6zM312 628h3.6v3.6h-3.6zM312 631h3.6v3.6h-3.6zM312 634h3.6v3.6h-3.6zM312 637h3.6v3.6h-3.6zM312 640h3.6v3.6h-3.6zM312 643h3.6v3.6h-3.6zM312 646h3.6v3.6h-3.6zM312 649h3.6v3.6h-3.6zM312 652h3.6v3.6h-3.6zM312 655h3.6v3.6h-3.6zM312 658h3.6v3.6h-3.6zM312 661h3.6v3.6h-3.6zM312 664h3.6v3.6h-3.6zM315 667h3.6v3.6h-3.6zM315 670h3.6v3.6h-3.6zM315 673h3.6v3.6h-3.6zM318 676h3.6v3.6h-3.6zM318 679h3.6v3.6h-3.6zM318 682h3.6v3.6h-3.6zM321 685h3.6v3.6h-3.6zM321 688h6.6v3.6h-6.6zM324 691h3.6v3.6h-3.6zM327 694h3.6v3.6h-3.6zM327 697h6.6v3.6h-6.6zM330 700h6.6v3.6h-6.6zM333 703h6.6v3.6h-6.6zM336 706h6.6v3.6h-6.6zM342 709h6.6v3.6h-6.6zM387 709h6.6v3.6h-6.6zM345 712h9.6v3.6h-9.6zM381 712h9.6v3.6h-9.6zM351 715h33.6v3.6h-33.6z"/>
<path fill="#e3edc9" d="M360 574h12.6v3.6h-12.6zM351 577h15.6v3.6h-15.6zM369 577h15.6v3.6h-15.6zM345 580h6.6v3.6h-6.6zM381 580h9.6v3.6h-9.6zM339 583h6.6v3.6h-6.6zM387 583h6.6v3.6h-6.6zM336 586h6.6v3.6h-6.6zM393 586h6.6v3.6h-6.6zM333 589h6.6v3.6h-6.6zM399 589h6.6v3.6h-6.6zM330 592h6.6v3.6h-6.6zM405 592h3.6v3.6h-3.6zM330 595h3.6v3.6h-3.6zM327 598h3.6v3.6h-3.6zM408 598h3.6v3.6h-3.6zM324 601h3.6v3.6h-3.6zM324 604h3.6v3.6h-3.6zM321 607h3.6v3.6h-3.6zM321 610h3.6v3.6h-3.6zM318 613h3.6v3.6h-3.6zM318 616h3.6v3.6h-3.6zM318 619h3.6v3.6h-3.6zM315 625h3.6v3.6h-3.6zM315 628h3.6v3.6h-3.6zM315 631h3.6v3.6h-3.6zM315 634h3.6v3.6h-3.6zM315 637h3.6v3.6h-3.6zM315 640h3.6v3.6h-3.6zM315 643h3.6v3.6h-3.6zM315 646h3.6v3.6h-3.6zM315 649h3.6v3.6h-3.6zM315 652h3.6v3.6h-3.6zM315 655h3.6v3.6h-3.6zM315 658h3.6v3.6h-3.6zM315 661h3.6v3.6h-3.6zM315 664h3.6v3.6h-3.6zM318 667h3.6v3.6h-3.6zM318 670h3.6v3.6h-3.6zM318 673h3.6v3.6h-3.6zM321 676h3.6v3.6h-3.6zM321 679h3.6v3.6h-3.6zM321 682h3.6v3.6h-3.6zM324 685h3.6v3.6h-3.6zM327 688h3.6v3.6h-3.6zM327 691h3.6v3.6h-3.6zM330 694h3.6v3.6h-3.6zM333 697h3.6v3.6h-3.6zM336 700h3.6v3.6h-3.6zM339 703h3.6v3.6h-3.6zM390 703h3.6v3.6h-3.6zM342 706h6.6v3.6h-6.6zM387 706h6.6v3.6h-6.6zM348 709h6.6v3.6h-6.6zM378 709h9.6v3.6h-9.6zM354 712h27.6v3.6h-27.6z"/>
<path fill="#dfebc3" d="M366 577h3.6v3.6h-3.6zM351 580h30.6v3.6h-30.6zM345 583h9.6v3.6h-9.6zM381 583h6.6v3.6h-6.6zM342 586h6.6v3.6h-6.6zM387 586h6.6v3.6h-6.6zM339 589h3.6v3.6h-3.6zM396 589h3.6v3.6h-3.6zM336 592h3.6v3.6h-3.6zM402 592h3.6v3.6h-3.6zM333 595h3.6v3.6h-3.6zM405 595h3.6v3.6h-3.6zM330 598h3.6v3.6h-3.6zM327 601h6.6v3.6h-6.6zM408 601h3.6v3.6h-3.6zM327 604h3.6v3.6h-3.6zM408 604h3.6v3.6h-3.6zM324 607h3.6v3.6h-3.6zM324 610h3.6v3.6h-3.6zM321 613h3.6v3.6h-3.6zM321 616h3.6v3.6h-3.6zM321 619h3.6v3.6h-3.6zM318 622h3.6v3.6h-3.6zM318 625h3.6v3.6h-3.6zM318 628h3.6v3.6h-3.6zM318 631h3.6v3.6h-3.6zM318 634h3.6v3.6h-3.6zM318 637h3.6v3.6h-3.6zM318 652h3.6v3.6h-3.6zM318 655h3.6v3.6h-3.6zM318 658h3.6v3.6h-3.6zM318 661h3.6v3.6h-3.6zM318 664h3.6v3.6h-3.6zM321 667h3.6v3.6h-3.6zM321 670h3.6v3.6h-3.6zM321 673h3.6v3.6h-3.6zM324 676h3.6v3.6h-3.6zM324 679h3.6v3.6h-3.6zM324 682h6.6v3.6h-6.6zM327 685h3.6v3.6h-3.6zM330 688h3.6v3.6h-3.6zM330 691h6.6v3.6h-6.6zM333 694h6.6v3.6h-6.6zM336 697h6.6v3.6h-6.6zM339 700h6.6v3.6h-6.6zM390 700h3.6v3.6h-3.6zM342 703h9.6v3.6h-9.6zM384 703h6.6v3.6h-6.6zM348 706h9.6v3.6h-9.6zM375 706h12.6v3.6h-12.6zM354 709h24.6v3.6h-24.6z"/>
<path fill="#dce9bc" d="M354 583h27.6v3.6h-27.6zM348 586h6.6v3.6h-6.6zM378 586h9.6v3.6h-9.6zM342 589h6.6v3.6h-6.6zM387 589h9.6v3.6h-9.6zM339 592h6.6v3.6h-6.6zM399 592h3.6v3.6h-3.6zM336 595h3.6v3.6h-3.6zM402 595h3.6v3.6h-3.6zM333 598h3.6v3.6h-3.6zM405 598h3.6v3.6h-3.6zM333 601h3.6v3.6h-3.6zM330 604h3.6v3.6h-3.6zM327 607h3.6v3.6h-3.6zM408 607h3.6v3.6h-3.6zM327 610h3.6v3.6h-3.6zM324 613h3.6v3.6h-3.6zM324 616h3.6v3.6h-3.6zM324 619h3.6v3.6h-3.6zM321 622h3.6v3.6h-3.6zM321 625h3.6v3.6h-3.6zM321 628h3.6v3.6h-3.6zM321 631h3.6v3.6h-3.6zM321 634h3.6v3.6h-3.6zM318 640h3.6v3.6h-3.6zM318 643h3.6v3.6h-3.6zM318 646h3.6v3.6h-3.6zM318 649h3.6v3.6h-3.6zM321 655h3.6v3.6h-3.6zM321 658h3.6v3.6h-3.6zM321 661h3.6v3.6h-3.6zM321 664h3.6v3.6h-3.6zM324 670h3.6v3.6h-3.6zM324 673h3.6v3.6h-3.6zM327 676h3.6v3.6h-3.6zM327 679h3.6v3.6h-3.6zM330 682h3.6v3.6h-3.6zM330 685h3.6v3.6h-3.6zM333 688h3.6v3.6h-3.6zM336 691h3.6v3.6h-3.6zM393 691h3.6v3.6h-3.6zM339 694h3.6v3.6h-3.6zM390 694h6.6v3.6h-6.6zM342 697h3.6v3.6h-3.6zM387 697h6.6v3.6h-6.6zM345 700h6.6v3.6h-6.6zM381 700h9.6v3.6h-9.6zM351 703h9.6v3.6h-9.6zM372 703h12.6v3.6h-12.6zM357 706h18.6v3.6h-18.6z"/>
<path fill="#d8e6b4" d="M354 586h24.6v3.6h-24.6zM348 589h6.6v3.6h-6.6zM378 589h9.6v3.6h-9.6zM345 592h3.6v3.6h-3.6zM393 592h6.6v3.6h-6.6zM339 595h6.6v3.6h-6.6zM399 595h3.6v3.6h-3.6zM336 598h6.6v3.6h-6.6zM402 598h3.6v3.6h-3.6zM336 601h3.6v3.6h-3.6zM405 601h3.6v3.6h-3.6zM333 604h3.6v3.6h-3.6zM330 607h3.6v3.6h-3.6zM330 610h3.6v3.6h-3.6zM327 613h3.6v3.6h-3.6zM327 616h3.6v3.6h-3.6zM327 619h3.6v3.6h-3.6zM324 622h3.6v3.6h-3.6zM324 625h3.6v3.6h-3.6zM324 628h3.6v3.6h-3.6zM324 631h3.6v3.6h-3.6zM321 637h3.6v3.6h-3.6zM321 640h3.6v3.6h-3.6zM321 643h3.6v3.6h-3.6zM321 646h3.6v3.6h-3.6zM321 649h3.6v3.6h-3.6zM321 652h3.6v3.6h-3.6zM324 655h3.6v3.6h-3.6zM324 658h3.6v3.6h-3.6zM324 661h3.6v3.6h-3.6zM324 664h3.6v3.6h-3.6zM324 667h6.6v3.6h-6.6zM327 670h3.6v3.6h-3.6zM327 673h3.6v3.6h-3.6zM330 676h3.6v3.6h-3.6zM330 679h3.6v3.6h-3.6zM333 682h3.6v3.6h-3.6zM333 685h3.6v3.6h-3.6zM393 685h3.6v3.6h-3.6zM336 688h3.6v3.6h-3.6zM393 688h3.6v3.6h-3.6zM339 691h3.6v3.6h-3.6zM387 691h6.6v3.6h-6.6zM342 694h6.6v3.6h-6.6zM384 694h6.6v3.6h-6.6zM345 697h9.6v3.6h-9.6zM378 697h9.6v3.6h-9.6zM351 700h30.6v3.6h-30.6zM360 703h12.6v3.6h-12.6z"/>
<path fill="#d3e4ab" d="M354 589h24.6v3.6h-24.6zM348 592h9.6v3.6h-9.6zM375 592h18.6v3.6h-18.6zM345 595h6.6v3.6h-6.6zM396 595h3.6v3.6h-3.6zM342 598h3.6v3.6h-3.6zM339 601h3.6v3.6h-3.6zM336 604h3.6v3.6h-3.6zM405 604h3.6v3.6h-3.6zM333 607h6.6v3.6h-6.6zM405 607h3.6v3.6h-3.6zM333 610h3.6v3.6h-3.6zM330 613h3.6v3.6h-3.6zM330 616h3.6v3.6h-3.6zM330 619h3.6v3.6h-3.6zM327 622h3.6v3.6h-3.6zM327 625h3.6v3.6h-3.6zM327 628h3.6v3.6h-3.6zM327 631h3.6v3.6h-3.6zM324 634h3.6v3.6h-3.6zM324 637h3.6v3.6h-3.6zM324 640h3.6v3.6h-3.6zM324 643h3.6v3.6h-3.6zM324 646h3.6v3.6h-3.6zM324 649h3.6v3.6h-3.6zM324 652h3.6v3.6h-3.6zM327 655h3.6v3.6h-3.6zM327 658h3.6v3.6h-3.6zM327 661h3.6v3.6h-3.6zM327 664h3.6v3.6h-3.6zM330 667h3.6v3.6h-3.6zM330 670h3.6v3.6h-3.6zM330 673h3.6v3.6h-3.6zM396 673h3.6v3.6h-3.6zM333 676h3.6v3.6h-3.6zM396 676h3.6v3.6h-3.6zM333 679h3.6v3.6h-3.6zM393 679h3.6v3.6h-3.6zM336 682h3.6v3.6h-3.6zM393 682h3.6v3.6h-3.6zM336 685h3.6v3.6h-3.6zM390 685h3.6v3.6h-3.6zM339 688h3.6v3.6h-3.6zM387 688h6.6v3.6h-6.6zM342 691h6.6v3.6h-6.6zM381 691h6.6v3.6h-6.6zM348 694h6.6v3.6h-6.6zM375 694h9.6v3.6h-9.6zM354 697h24.6v3.6h-24.6z"/>
<path fill="#cfe1a3" d="M357 592h18.6v3.6h-18.6zM351 595h9.6v3.6h-9.6zM372 595h12.6v3.6h-12.6zM393 595h3.6v3.6h-3.6zM345 598h6.6v3.6h-6.6zM399 598h3.6v3.6h-3.6zM342 601h6.6v3.6h-6.6zM402 601h3.6v3.6h-3.6zM339 604h6.6v3.6h-6.6zM339 607h3.6v3.6h-3.6zM336 610h3.6v3.6h-3.6zM405 610h3.6v3.6h-3.6zM333 613h6.6v3.6h-6.6zM405 613h3.6v3.6h-3.6zM333 616h3.6v3.6h-3.6zM333 619h3.6v3.6h-3.6zM405 619h3.6v3.6h-3.6zM330 622h3.6v3.6h-3.6zM405 622h3.6v3.6h-3.6zM330 625h3.6v3.6h-3.6zM405 625h3.6v3.6h-3.6zM330 628h3.6v3.6h-3.6zM330 631h3.6v3.6h-3.6zM327 634h3.6v3.6h-3.6zM327 637h3.6v3.6h-3.6zM327 640h3.6v3.6h-3.6zM402 640h3.6v3.6h-3.6zM327 643h3.6v3.6h-3.6zM327 646h3.6v3.6h-3.6zM327 649h3.6v3.6h-3.6zM327 652h3.6v3.6h-3.6zM399 652h3.6v3.6h-3.6zM330 655h3.6v3.6h-3.6zM399 655h3.6v3.6h-3.6zM330 658h3.6v3.6h-3.6zM399 658h3.6v3.6h-3.6zM330 661h3.6v3.6h-3.6zM396 661h3.6v3.6h-3.6zM330 664h3.6v3.6h-3.6zM396 664h3.6v3.6h-3.6zM333 667h3.6v3.6h-3.6zM396 667h3.6v3.6h-3.6zM333 670h3.6v3.6h-3.6zM393 670h6.6v3.6h-6.6zM333 673h3.6v3.6h-3.6zM393 673h3.6v3.6h-3.6zM336 676h3.6v3.6h-3.6zM393 676h3.6v3.6h-3.6zM336 679h3.6v3.6h-3.6zM390 679h3.6v3.6h-3.6zM339 682h3.6v3.6h-3.6zM387 682h6.6v3.6h-6.6zM339 685h3.6v3.6h-3.6zM381 685h9.6v3.6h-9.6zM342 688h6.6v3.6h-6.6zM378 688h9.6v3.6h-9.6zM348 691h6.6v3.6h-6.6zM372 691h9.6v3.6h-9.6zM354 694h21.6v3.6h-21.6z"/>
<path fill="#cade9b" d="M360 595h12.6v3.6h-12.6zM384 595h9.6v3.6h-9.6zM351 598h24.6v3.6h-24.6zM348 601h6.6v3.6h-6.6zM345 604h3.6v3.6h-3.6zM402 604h3.6v3.6h-3.6zM342 607h3.6v3.6h-3.6zM339 610h3.6v3.6h-3.6zM339 613h3.6v3.6h-3.6zM336 616h3.6v3.6h-3.6zM405 616h3.6v3.6h-3.6zM336 619h3.6v3.6h-3.6zM333 622h3.6v3.6h-3.6zM333 625h3.6v3.6h-3.6zM333 628h3.6v3.6h-3.6zM333 631h3.6v3.6h-3.6zM330 634h3.6v3.6h-3.6zM402 634h3.6v3.6h-3.6zM330 637h3.6v3.6h-3.6zM402 637h3.6v3.6h-3.6zM330 640h3.6v3.6h-3.6zM330 643h3.6v3.6h-3.6zM330 646h3.6v3.6h-3.6zM399 646h3.6v3.6h-3.6zM330 649h3.6v3.6h-3.6zM399 649h3.6v3.6h-3.6zM330 652h3.6v3.6h-3.6zM396 652h3.6v3.6h-3.6zM333 655h3.6v3.6h-3.6zM396 655h3.6v3.6h-3.6zM333 658h3.6v3.6h-3.6zM396 658h3.6v3.6h-3.6zM333 661h3.6v3.6h-3.6zM393 661h3.6v3.6h-3.6zM333 664h3.6v3.6h-3.6zM393 664h3.6v3.6h-3.6zM393 667h3.6v3.6h-3.6zM336 670h3.6v3.6h-3.6zM336 673h3.6v3.6h-3.6zM390 676h3.6v3.6h-3.6zM339 679h3.6v3.6h-3.6zM387 679h3.6v3.6h-3.6zM381 682h6.6v3.6h-6.6zM342 685h3.6v3.6h-3.6zM375 685h6.6v3.6h-6.6zM348 688h3.6v3.6h-3.6zM366 688h12.6v3.6h-12.6zM354 691h18.6v3.6h-18.6z"/>
<path fill="#c6db92" d="M375 598h6.6v3.6h-6.6zM396 598h3.6v3.6h-3.6zM354 601h18.6v3.6h-18.6zM399 601h3.6v3.6h-3.6zM348 604h9.6v3.6h-9.6zM345 607h6.6v3.6h-6.6zM402 607h3.6v3.6h-3.6zM342 610h6.6v3.6h-6.6zM342 613h3.6v3.6h-3.6zM339 616h6.6v3.6h-6.6zM339 619h3.6v3.6h-3.6zM336 622h6.6v3.6h-6.6zM336 625h3.6v3.6h-3.6zM336 628h3.6v3.6h-3.6zM336 631h3.6v3.6h-3.6zM402 631h3.6v3.6h-3.6zM333 634h3.6v3.6h-3.6zM333 637h3.6v3.6h-3.6zM333 640h3.6v3.6h-3.6zM399 640h3.6v3.6h-3.6zM333 643h3.6v3.6h-3.6zM399 643h3.6v3.6h-3.6zM333 646h3.6v3.6h-3.6zM333 649h3.6v3.6h-3.6zM396 649h3.6v3.6h-3.6zM333 652h3.6v3.6h-3.6zM336 655h3.6v3.6h-3.6zM393 655h3.6v3.6h-3.6zM336 658h3.6v3.6h-3.6zM393 658h3.6v3.6h-3.6zM336 661h3.6v3.6h-3.6zM390 661h3.6v3.6h-3.6zM336 664h3.6v3.6h-3.6zM390 664h3.6v3.6h-3.6zM336 667h3.6v3.6h-3.6zM390 667h3.6v3.6h-3.6zM339 676h3.6v3.6h-3.6zM342 682h3.6v3.6h-3.6zM372 682h9.6v3.6h-9.6zM345 685h6.6v3.6h-6.6zM366 685h9.6v3.6h-9.6zM351 688h15.6v3.6h-15.6z"/>
<path fill="#c1d98a" d="M381 598h15.6v3.6h-15.6zM372 601h6.6v3.6h-6.6zM357 604h12.6v3.6h-12.6zM351 607h9.6v3.6h-9.6zM348 610h6.6v3.6h-6.6zM402 610h3.6v3.6h-3.6zM345 613h6.6v3.6h-6.6zM345 616h3.6v3.6h-3.6zM342 619h3.6v3.6h-3.6zM342 622h3.6v3.6h-3.6zM339 625h3.6v3.6h-3.6zM402 625h3.6v3.6h-3.6zM339 628h3.6v3.6h-3.6zM402 628h3.6v3.6h-3.6zM339 631h3.6v3.6h-3.6zM336 634h6.6v3.6h-6.6zM336 637h3.6v3.6h-3.6zM399 637h3.6v3.6h-3.6zM336 640h3.6v3.6h-3.6zM336 643h3.6v3.6h-3.6zM336 646h3.6v3.6h-3.6zM396 646h3.6v3.6h-3.6zM336 649h3.6v3.6h-3.6zM336 652h3.6v3.6h-3.6zM393 652h3.6v3.6h-3.6zM390 658h3.6v3.6h-3.6zM387 664h3.6v3.6h-3.6zM339 667h3.6v3.6h-3.6zM339 670h3.6v3.6h-3.6zM390 670h3.6v3.6h-3.6zM339 673h3.6v3.6h-3.6zM390 673h3.6v3.6h-3.6zM342 679h3.6v3.6h-3.6zM345 682h3.6v3.6h-3.6zM369 682h3.6v3.6h-3.6zM351 685h15.6v3.6h-15.6z"/>
<path fill="#bcd680" d="M378 601h3.6v3.6h-3.6zM396 601h3.6v3.6h-3.6zM369 604h3.6v3.6h-3.6zM399 604h3.6v3.6h-3.6zM360 607h9.6v3.6h-9.6zM354 610h9.6v3.6h-9.6zM351 613h6.6v3.6h-6.6zM402 613h3.6v3.6h-3.6zM348 616h6.6v3.6h-6.6zM402 616h3.6v3.6h-3.6zM345 619h6.6v3.6h-6.6zM402 619h3.6v3.6h-3.6zM345 622h3.6v3.6h-3.6zM402 622h3.6v3.6h-3.6zM342 625h6.6v3.6h-6.6zM342 628h3.6v3.6h-3.6zM342 631h3.6v3.6h-3.6zM342 634h3.6v3.6h-3.6zM399 634h3.6v3.6h-3.6zM339 637h6.6v3.6h-6.6zM339 640h3.6v3.6h-3.6zM339 643h3.6v3.6h-3.6zM396 643h3.6v3.6h-3.6zM339 646h3.6v3.6h-3.6zM339 649h3.6v3.6h-3.6zM339 652h3.6v3.6h-3.6zM339 655h3.6v3.6h-3.6zM390 655h3.6v3.6h-3.6zM339 658h3.6v3.6h-3.6zM339 661h3.6v3.6h-3.6zM387 661h3.6v3.6h-3.6zM339 664h3.6v3.6h-3.6zM342 676h3.6v3.6h-3.6zM345 679h3.6v3.6h-3.6zM369 679h6.6v3.6h-6.6zM384 679h3.6v3.6h-3.6zM348 682h3.6v3.6h-3.6zM363 682h6.6v3.6h-6.6z"/>
<path fill="#b7d374" d="M381 601h3.6v3.6h-3.6zM372 604h3.6v3.6h-3.6zM369 607h3.6v3.6h-3.6zM363 610h3.6v3.6h-3.6zM357 613h6.6v3.6h-6.6zM354 616h6.6v3.6h-6.6zM351 619h6.6v3.6h-6.6zM348 622h6.6v3.6h-6.6zM348 625h3.6v3.6h-3.6zM345 628h6.6v3.6h-6.6zM345 631h3.6v3.6h-3.6zM345 634h3.6v3.6h-3.6zM342 640h3.6v3.6h-3.6zM342 643h3.6v3.6h-3.6zM342 646h3.6v3.6h-3.6zM393 649h3.6v3.6h-3.6zM387 658h3.6v3.6h-3.6zM342 670h3.6v3.6h-3.6zM342 673h3.6v3.6h-3.6zM375 679h3.6v3.6h-3.6zM351 682h12.6v3.6h-12.6z"/>
<path fill="#b2d069" d="M384 601h3.6v3.6h-3.6zM393 601h3.6v3.6h-3.6zM375 604h3.6v3.6h-3.6zM399 607h3.6v3.6h-3.6zM366 610h3.6v3.6h-3.6zM363 613h3.6v3.6h-3.6zM354 622h3.6v3.6h-3.6zM351 625h3.6v3.6h-3.6zM348 631h3.6v3.6h-3.6zM399 631h3.6v3.6h-3.6zM345 637h3.6v3.6h-3.6zM345 640h3.6v3.6h-3.6zM396 640h3.6v3.6h-3.6zM393 646h3.6v3.6h-3.6zM342 649h3.6v3.6h-3.6zM342 652h3.6v3.6h-3.6zM390 652h3.6v3.6h-3.6zM342 655h3.6v3.6h-3.6zM342 658h3.6v3.6h-3.6zM342 661h3.6v3.6h-3.6zM384 661h3.6v3.6h-3.6zM342 664h3.6v3.6h-3.6zM342 667h3.6v3.6h-3.6zM345 676h3.6v3.6h-3.6zM387 676h3.6v3.6h-3.6zM348 679h3.6v3.6h-3.6zM366 679h3.6v3.6h-3.6zM381 679h3.6v3.6h-3.6z"/>
<path fill="#accd5e" d="M387 601h6.6v3.6h-6.6zM378 604h3.6v3.6h-3.6zM396 604h3.6v3.6h-3.6zM372 607h3.6v3.6h-3.6zM399 610h3.6v3.6h-3.6zM360 616h3.6v3.6h-3.6zM357 619h3.6v3.6h-3.6zM399 625h3.6v3.6h-3.6zM351 628h3.6v3.6h-3.6zM399 628h3.6v3.6h-3.6zM348 634h3.6v3.6h-3.6zM396 637h3.6v3.6h-3.6zM345 643h3.6v3.6h-3.6zM384 664h3.6v3.6h-3.6zM387 667h3.6v3.6h-3.6zM345 673h3.6v3.6h-3.6zM369 676h3.6v3.6h-3.6zM351 679h3.6v3.6h-3.6zM360 679h6.6v3.6h-6.6zM378 679h3.6v3.6h-3.6z"/>
<path fill="#a7ca53" d="M369 610h3.6v3.6h-3.6zM366 613h3.6v3.6h-3.6zM399 613h3.6v3.6h-3.6zM399 616h3.6v3.6h-3.6zM399 619h3.6v3.6h-3.6zM357 622h3.6v3.6h-3.6zM399 622h3.6v3.6h-3.6zM354 625h3.6v3.6h-3.6zM351 631h3.6v3.6h-3.6zM348 637h3.6v3.6h-3.6zM393 643h3.6v3.6h-3.6zM345 646h3.6v3.6h-3.6zM345 649h3.6v3.6h-3.6zM390 649h3.6v3.6h-3.6zM387 655h3.6v3.6h-3.6zM345 670h3.6v3.6h-3.6zM348 676h3.6v3.6h-3.6zM366 676h3.6v3.6h-3.6zM354 679h6.6v3.6h-6.6z"/>
<path fill="#a2c748" d="M381 604h3.6v3.6h-3.6zM393 604h3.6v3.6h-3.6zM375 607h3.6v3.6h-3.6zM363 616h3.6v3.6h-3.6zM360 619h3.6v3.6h-3.6zM354 628h3.6v3.6h-3.6zM351 634h3.6v3.6h-3.6zM396 634h3.6v3.6h-3.6zM348 640h3.6v3.6h-3.6zM345 652h3.6v3.6h-3.6zM345 655h3.6v3.6h-3.6zM384 658h3.6v3.6h-3.6zM345 664h3.6v3.6h-3.6zM345 667h3.6v3.6h-3.6zM348 673h3.6v3.6h-3.6zM351 676h3.6v3.6h-3.6zM363 676h3.6v3.6h-3.6z"/>
<path fill="#9dc440" d="M384 604h3.6v3.6h-3.6zM396 607h3.6v3.6h-3.6zM372 610h3.6v3.6h-3.6zM357 625h3.6v3.6h-3.6zM396 631h3.6v3.6h-3.6zM393 640h3.6v3.6h-3.6zM348 643h3.6v3.6h-3.6zM390 646h3.6v3.6h-3.6zM387 652h3.6v3.6h-3.6zM345 658h3.6v3.6h-3.6zM345 661h3.6v3.6h-3.6zM381 661h3.6v3.6h-3.6zM354 676h9.6v3.6h-9.6zM372 676h3.6v3.6h-3.6z"/>
<path fill="#98c238" d="M387 604h6.6v3.6h-6.6zM378 607h3.6v3.6h-3.6zM369 613h3.6v3.6h-3.6zM366 616h3.6v3.6h-3.6zM363 619h3.6v3.6h-3.6zM360 622h3.6v3.6h-3.6zM396 628h3.6v3.6h-3.6zM354 631h3.6v3.6h-3.6zM351 637h3.6v3.6h-3.6zM348 646h3.6v3.6h-3.6zM348 670h3.6v3.6h-3.6zM387 670h3.6v3.6h-3.6zM351 673h3.6v3.6h-3.6zM366 673h6.6v3.6h-6.6zM387 673h3.6v3.6h-3.6z"/>
<path fill="#93c030" d="M396 610h3.6v3.6h-3.6zM396 625h3.6v3.6h-3.6zM357 628h3.6v3.6h-3.6zM393 637h3.6v3.6h-3.6zM348 649h3.6v3.6h-3.6zM384 655h3.6v3.6h-3.6zM381 664h3.6v3.6h-3.6zM348 667h3.6v3.6h-3.6zM354 673h3.6v3.6h-3.6zM363 673h3.6v3.6h-3.6z"/>
<path fill="#8ebd28" d="M381 607h3.6v3.6h-3.6zM393 607h3.6v3.6h-3.6zM375 610h3.6v3.6h-3.6zM396 613h3.6v3.6h-3.6zM396 622h3.6v3.6h-3.6zM354 634h3.6v3.6h-3.6zM393 634h3.6v3.6h-3.6zM351 640h3.6v3.6h-3.6zM390 643h3.6v3.6h-3.6zM387 649h3.6v3.6h-3.6zM348 652h3.6v3.6h-3.6zM348 655h3.6v3.6h-3.6zM381 658h3.6v3.6h-3.6zM348 661h3.6v3.6h-3.6zM378 661h3.6v3.6h-3.6zM348 664h3.6v3.6h-3.6zM351 670h3.6v3.6h-3.6zM357 673h6.6v3.6h-6.6zM384 676h3.6v3.6h-3.6z"/>
<path fill="#89ba21" d="M372 613h3.6v3.6h-3.6zM369 616h3.6v3.6h-3.6zM396 616h3.6v3.6h-3.6zM366 619h3.6v3.6h-3.6zM396 619h3.6v3.6h-3.6zM363 622h3.6v3.6h-3.6zM360 625h3.6v3.6h-3.6zM351 643h3.6v3.6h-3.6zM384 652h3.6v3.6h-3.6zM348 658h3.6v3.6h-3.6zM366 670h3.6v3.6h-3.6z"/>
<path fill="#83b61e" d="M384 607h9.6v3.6h-9.6zM357 631h3.6v3.6h-3.6zM393 631h3.6v3.6h-3.6zM354 637h3.6v3.6h-3.6zM390 640h3.6v3.6h-3.6zM351 646h3.6v3.6h-3.6zM387 646h3.6v3.6h-3.6zM381 655h3.6v3.6h-3.6zM378 664h3.6v3.6h-3.6zM351 667h3.6v3.6h-3.6zM384 667h3.6v3.6h-3.6zM354 670h3.6v3.6h-3.6zM363 670h3.6v3.6h-3.6zM369 670h3.6v3.6h-3.6zM375 676h3.6v3.6h-3.6z"/>
<path fill="#7db11b" d="M378 610h3.6v3.6h-3.6zM393 610h3.6v3.6h-3.6zM360 628h3.6v3.6h-3.6zM390 637h3.6v3.6h-3.6zM351 649h3.6v3.6h-3.6zM378 658h3.6v3.6h-3.6zM351 664h3.6v3.6h-3.6zM375 664h3.6v3.6h-3.6zM354 667h3.6v3.6h-3.6zM369 667h3.6v3.6h-3.6zM357 670h6.6v3.6h-6.6zM381 676h3.6v3.6h-3.6z"/>
<path fill="#77ad17" d="M363 625h3.6v3.6h-3.6zM393 628h3.6v3.6h-3.6zM357 634h3.6v3.6h-3.6zM354 640h3.6v3.6h-3.6zM387 643h3.6v3.6h-3.6zM384 649h3.6v3.6h-3.6zM351 652h3.6v3.6h-3.6zM351 655h3.6v3.6h-3.6zM351 658h3.6v3.6h-3.6zM351 661h3.6v3.6h-3.6zM375 661h3.6v3.6h-3.6zM372 664h3.6v3.6h-3.6zM366 667h3.6v3.6h-3.6zM372 673h3.6v3.6h-3.6zM378 676h3.6v3.6h-3.6z"/>
<path fill="#71a914" d="M381 610h3.6v3.6h-3.6zM390 610h3.6v3.6h-3.6zM375 613h3.6v3.6h-3.6zM393 613h3.6v3.6h-3.6zM372 616h3.6v3.6h-3.6zM369 619h3.6v3.6h-3.6zM366 622h3.6v3.6h-3.6zM393 625h3.6v3.6h-3.6zM354 643h3.6v3.6h-3.6zM381 652h3.6v3.6h-3.6zM354 664h3.6v3.6h-3.6zM369 664h3.6v3.6h-3.6zM357 667h9.6v3.6h-9.6zM372 667h3.6v3.6h-3.6zM384 670h3.6v3.6h-3.6zM384 673h3.6v3.6h-3.6z"/>
<path fill="#6ba411" d="M393 616h3.6v3.6h-3.6zM393 619h3.6v3.6h-3.6zM393 622h3.6v3.6h-3.6zM360 631h3.6v3.6h-3.6zM390 634h3.6v3.6h-3.6zM357 637h3.6v3.6h-3.6zM387 640h3.6v3.6h-3.6zM354 646h3.6v3.6h-3.6zM384 646h3.6v3.6h-3.6zM378 655h3.6v3.6h-3.6zM375 658h3.6v3.6h-3.6zM354 661h3.6v3.6h-3.6zM372 661h3.6v3.6h-3.6zM357 664h3.6v3.6h-3.6zM381 667h3.6v3.6h-3.6z"/>
<path fill="#629e0f" d="M384 610h6.6v3.6h-6.6zM363 628h3.6v3.6h-3.6zM354 649h3.6v3.6h-3.6zM381 649h3.6v3.6h-3.6zM354 652h3.6v3.6h-3.6zM354 655h3.6v3.6h-3.6zM354 658h3.6v3.6h-3.6zM360 664h9.6v3.6h-9.6zM372 670h3.6v3.6h-3.6zM381 673h3.6v3.6h-3.6z"/>
<path fill="#5a990c" d="M378 613h3.6v3.6h-3.6zM390 613h3.6v3.6h-3.6zM366 625h3.6v3.6h-3.6zM390 631h3.6v3.6h-3.6zM360 634h3.6v3.6h-3.6zM357 640h3.6v3.6h-3.6zM384 643h3.6v3.6h-3.6zM378 652h3.6v3.6h-3.6zM375 655h3.6v3.6h-3.6zM372 658h3.6v3.6h-3.6zM357 661h3.6v3.6h-3.6zM369 661h3.6v3.6h-3.6zM381 670h3.6v3.6h-3.6zM375 673h6.6v3.6h-6.6z"/>
<path fill="#529409" d="M375 616h3.6v3.6h-3.6zM372 619h3.6v3.6h-3.6zM369 622h3.6v3.6h-3.6zM363 631h3.6v3.6h-3.6zM360 637h3.6v3.6h-3.6zM387 637h3.6v3.6h-3.6zM357 643h3.6v3.6h-3.6zM357 646h3.6v3.6h-3.6zM381 646h3.6v3.6h-3.6zM357 655h3.6v3.6h-3.6zM357 658h3.6v3.6h-3.6zM369 658h3.6v3.6h-3.6zM360 661h9.6v3.6h-9.6zM375 667h6.6v3.6h-6.6zM378 670h3.6v3.6h-3.6z"/>
<path fill="#498e07" d="M381 613h3.6v3.6h-3.6zM387 613h3.6v3.6h-3.6zM390 616h3.6v3.6h-3.6zM366 628h3.6v3.6h-3.6zM390 628h3.6v3.6h-3.6zM360 640h3.6v3.6h-3.6zM357 649h3.6v3.6h-3.6zM378 649h3.6v3.6h-3.6zM357 652h3.6v3.6h-3.6zM375 652h3.6v3.6h-3.6zM360 655h3.6v3.6h-3.6zM372 655h3.6v3.6h-3.6zM360 658h9.6v3.6h-9.6zM375 670h3.6v3.6h-3.6z"/>
<path fill="#418706" d="M384 613h3.6v3.6h-3.6zM390 619h3.6v3.6h-3.6zM390 622h3.6v3.6h-3.6zM390 625h3.6v3.6h-3.6zM363 634h3.6v3.6h-3.6zM387 634h3.6v3.6h-3.6zM384 640h3.6v3.6h-3.6zM360 643h3.6v3.6h-3.6zM360 646h3.6v3.6h-3.6zM360 649h3.6v3.6h-3.6zM360 652h3.6v3.6h-3.6zM372 652h3.6v3.6h-3.6zM363 655h9.6v3.6h-9.6z"/>
<path fill="#388005" d="M387 616h3.6v3.6h-3.6zM369 625h3.6v3.6h-3.6zM363 637h3.6v3.6h-3.6zM381 643h3.6v3.6h-3.6zM378 646h3.6v3.6h-3.6zM363 649h3.6v3.6h-3.6zM375 649h3.6v3.6h-3.6zM363 652h9.6v3.6h-9.6z"/>
<path fill="#2f7805" d="M378 616h3.6v3.6h-3.6zM387 619h3.6v3.6h-3.6zM372 622h3.6v3.6h-3.6zM366 631h3.6v3.6h-3.6zM387 631h3.6v3.6h-3.6zM384 637h3.6v3.6h-3.6zM363 640h3.6v3.6h-3.6zM363 643h3.6v3.6h-3.6zM363 646h3.6v3.6h-3.6zM366 649h9.6v3.6h-9.6z"/>
<path fill="#267004" d="M381 616h6.6v3.6h-6.6zM375 619h3.6v3.6h-3.6zM387 622h3.6v3.6h-3.6zM369 628h3.6v3.6h-3.6zM387 628h3.6v3.6h-3.6zM366 634h3.6v3.6h-3.6zM366 646h3.6v3.6h-3.6zM375 646h3.6v3.6h-3.6z"/>
<path fill="#1f6604" d="M384 619h3.6v3.6h-3.6zM387 625h3.6v3.6h-3.6zM366 637h3.6v3.6h-3.6zM366 640h3.6v3.6h-3.6zM381 640h3.6v3.6h-3.6zM366 643h3.6v3.6h-3.6zM378 643h3.6v3.6h-3.6zM369 646h6.6v3.6h-6.6z"/>
<path fill="#175c03" d="M384 622h3.6v3.6h-3.6zM372 625h3.6v3.6h-3.6zM369 631h3.6v3.6h-3.6zM384 634h3.6v3.6h-3.6zM369 643h3.6v3.6h-3.6zM375 643h3.6v3.6h-3.6z"/>
<path fill="#105202" d="M378 619h6.6v3.6h-6.6zM375 622h3.6v3.6h-3.6zM384 625h3.6v3.6h-3.6zM384 628h3.6v3.6h-3.6zM384 631h3.6v3.6h-3.6zM369 634h3.6v3.6h-3.6zM369 637h3.6v3.6h-3.6zM381 637h3.6v3.6h-3.6zM369 640h3.6v3.6h-3.6zM378 640h3.6v3.6h-3.6zM372 643h3.6v3.6h-3.6z"/>
<path fill="#0a4302" d="M381 622h3.6v3.6h-3.6zM372 628h3.6v3.6h-3.6zM381 634h3.6v3.6h-3.6zM372 640h6.6v3.6h-6.6z"/>
<path fill="#052b01" d="M378 622h3.6v3.6h-3.6zM375 625h3.6v3.6h-3.6zM381 625h3.6v3.6h-3.6zM381 628h3.6v3.6h-3.6zM372 631h3.6v3.6h-3.6zM381 631h3.6v3.6h-3.6zM372 634h3.6v3.6h-3.6zM378 634h3.6v3.6h-3.6zM372 637h9.6v3.6h-9.6z"/>
<path fill="#001400" d="M378 625h3.6v3.6h-3.6zM375 628h6.6v3.6h-6.6zM375 631h6.6v3.6h-6.6zM375 634h3.6v3.6h-3.6z"/>
</g>
<polygon points="415.9,572.0 390.3,722.0 436,722 436,572" fill="url(#dotk)"/>
<polyline points="415.9,572.0 390.3,722.0" fill="none" stroke="#111" stroke-width="1.45"/>
</g>
<circle cx="357.5" cy="652.5" r="13" fill="none" fill-opacity="1" stroke="#1c2c90" stroke-width="1.1"/>
<circle cx="357.5" cy="652.5" r="9.5" fill="none" fill-opacity="1" stroke="#1c2c90" stroke-width="1.1"/>
<circle cx="357.5" cy="652.5" r="6.2" fill="none" fill-opacity="1" stroke="#1c2c90" stroke-width="1.1"/>
<circle cx="357.5" cy="652.5" r="3.5" fill="none" fill-opacity="1" stroke="#1c2c90" stroke-width="1.1"/>
<path d="M374.0,630.0C375.5,630.4 377.7,632.5 378.5,635.0C379.3,637.5 379.2,642.0 378.8,645.0C378.4,648.0 377.0,650.5 376.2,653.0C375.4,655.5 374.5,657.2 374.2,660.0C373.9,662.8 374.6,667.6 374.2,670.0C373.8,672.4 373.2,673.6 372.0,674.5C370.8,675.4 368.6,675.8 367.0,675.5C365.4,675.2 363.3,674.2 362.2,673.0C361.1,671.8 360.7,669.8 360.2,668.0C359.7,666.2 359.7,663.8 359.2,662.0C358.7,660.2 357.4,658.8 357.0,657.0C356.6,655.2 356.2,653.0 356.5,651.0C356.8,649.0 357.4,646.6 358.5,645.0C359.6,643.4 361.7,642.8 363.0,641.5C364.3,640.2 365.4,639.0 366.5,637.5C367.6,636.0 368.2,633.8 369.5,632.5C370.8,631.2 372.5,629.6 374.0,630.0Z" fill="none" stroke="#b03a18" stroke-width="1.0"/>
<path d="M371.0,645.0C371.6,646.5 371.8,651.7 371.7,655.0C371.6,658.3 370.9,662.7 370.2,665.0C369.4,667.3 368.1,668.7 367.2,669.0C366.2,669.3 365.2,668.2 364.5,667.0C363.8,665.8 363.4,664.0 363.0,662.0C362.6,660.0 361.8,657.2 362.0,655.0C362.2,652.8 363.0,650.5 364.0,649.0C365.0,647.5 366.8,646.5 368.0,645.8C369.2,645.1 370.4,643.5 371.0,645.0Z" fill="none" stroke="#b03a18" stroke-width="1.0"/>
<ellipse cx="358" cy="652" rx="4" ry="5" fill="none" stroke="#c05018" stroke-width="1"/>
<ellipse cx="366.5" cy="654.5" rx="2.5" ry="4" fill="none" stroke="#a020b0" stroke-width="1"/>
<rect x="297" y="577" width="134" height="140" fill="none" stroke="#333" stroke-width="1.3"/>
<path d="M301.2,717v-3.5M301.2,577v3.5M322.3,717v-3.5M322.3,577v3.5M343.3,717v-3.5M343.3,577v3.5M364.4,717v-3.5M364.4,577v3.5M385.4,717v-3.5M385.4,577v3.5M406.4,717v-3.5M406.4,577v3.5M427.5,717v-3.5M427.5,577v3.5M299.1,717v-2M299.1,577v2M303.4,717v-2M303.4,577v2M305.5,717v-2M305.5,577v2M307.6,717v-2M307.6,577v2M309.7,717v-2M309.7,577v2M311.8,717v-2M311.8,577v2M313.9,717v-2M313.9,577v2M316.0,717v-2M316.0,577v2M318.1,717v-2M318.1,577v2M320.2,717v-2M320.2,577v2M324.4,717v-2M324.4,577v2M326.5,717v-2M326.5,577v2M328.6,717v-2M328.6,577v2M330.7,717v-2M330.7,577v2M332.8,717v-2M332.8,577v2M334.9,717v-2M334.9,577v2M337.0,717v-2M337.0,577v2M339.1,717v-2M339.1,577v2M341.2,717v-2M341.2,577v2M345.4,717v-2M345.4,577v2M347.5,717v-2M347.5,577v2M349.6,717v-2M349.6,577v2M351.7,717v-2M351.7,577v2M353.9,717v-2M353.9,577v2M356.0,717v-2M356.0,577v2M358.1,717v-2M358.1,577v2M360.2,717v-2M360.2,577v2M362.3,717v-2M362.3,577v2M366.5,717v-2M366.5,577v2M368.6,717v-2M368.6,577v2M370.7,717v-2M370.7,577v2M372.8,717v-2M372.8,577v2M374.9,717v-2M374.9,577v2M377.0,717v-2M377.0,577v2M379.1,717v-2M379.1,577v2M381.2,717v-2M381.2,577v2M383.3,717v-2M383.3,577v2M387.5,717v-2M387.5,577v2M389.6,717v-2M389.6,577v2M391.7,717v-2M391.7,577v2M393.8,717v-2M393.8,577v2M395.9,717v-2M395.9,577v2M398.0,717v-2M398.0,577v2M400.1,717v-2M400.1,577v2M402.2,717v-2M402.2,577v2M404.3,717v-2M404.3,577v2M408.6,717v-2M408.6,577v2M410.7,717v-2M410.7,577v2M412.8,717v-2M412.8,577v2M414.9,717v-2M414.9,577v2M417.0,717v-2M417.0,577v2M419.1,717v-2M419.1,577v2M421.2,717v-2M421.2,577v2M423.3,717v-2M423.3,577v2M425.4,717v-2M425.4,577v2M429.6,717v-2M429.6,577v2M297,714.1h3.5M431,714.1h-3.5M297,692.3h3.5M431,692.3h-3.5M297,670.6h3.5M431,670.6h-3.5M297,648.8h3.5M431,648.8h-3.5M297,627.0h3.5M431,627.0h-3.5M297,605.2h3.5M431,605.2h-3.5M297,583.5h3.5M431,583.5h-3.5M297,716.3h2M431,716.3h-2M297,711.9h2M431,711.9h-2M297,709.7h2M431,709.7h-2M297,707.6h2M431,707.6h-2M297,705.4h2M431,705.4h-2M297,703.2h2M431,703.2h-2M297,701.0h2M431,701.0h-2M297,698.9h2M431,698.9h-2M297,696.7h2M431,696.7h-2M297,694.5h2M431,694.5h-2M297,690.2h2M431,690.2h-2M297,688.0h2M431,688.0h-2M297,685.8h2M431,685.8h-2M297,683.6h2M431,683.6h-2M297,681.4h2M431,681.4h-2M297,679.3h2M431,679.3h-2M297,677.1h2M431,677.1h-2M297,674.9h2M431,674.9h-2M297,672.7h2M431,672.7h-2M297,668.4h2M431,668.4h-2M297,666.2h2M431,666.2h-2M297,664.0h2M431,664.0h-2M297,661.9h2M431,661.9h-2M297,659.7h2M431,659.7h-2M297,657.5h2M431,657.5h-2M297,655.3h2M431,655.3h-2M297,653.1h2M431,653.1h-2M297,651.0h2M431,651.0h-2M297,646.6h2M431,646.6h-2M297,644.4h2M431,644.4h-2M297,642.3h2M431,642.3h-2M297,640.1h2M431,640.1h-2M297,637.9h2M431,637.9h-2M297,635.7h2M431,635.7h-2M297,633.6h2M431,633.6h-2M297,631.4h2M431,631.4h-2M297,629.2h2M431,629.2h-2M297,624.8h2M431,624.8h-2M297,622.7h2M431,622.7h-2M297,620.5h2M431,620.5h-2M297,618.3h2M431,618.3h-2M297,616.1h2M431,616.1h-2M297,614.0h2M431,614.0h-2M297,611.8h2M431,611.8h-2M297,609.6h2M431,609.6h-2M297,607.4h2M431,607.4h-2M297,603.1h2M431,603.1h-2M297,600.9h2M431,600.9h-2M297,598.7h2M431,598.7h-2M297,596.5h2M431,596.5h-2M297,594.4h2M431,594.4h-2M297,592.2h2M431,592.2h-2M297,590.0h2M431,590.0h-2M297,587.8h2M431,587.8h-2M297,585.7h2M431,585.7h-2M297,581.3h2M431,581.3h-2M297,579.1h2M431,579.1h-2" stroke="#222" stroke-width="0.9" fill="none"/>
<text x="317.5" y="698.4" font-size="9.4" text-anchor="start" fill="#e02a20" stroke="#e02a20" stroke-width="0.25" xml:space="preserve">RHESSI  6-12 keV</text>
<text x="317.5" y="708.7" font-size="9.4" text-anchor="start" fill="#2a2ac0" stroke="#2a2ac0" stroke-width="0.25" xml:space="preserve">RHESSI 40-60 keV</text>
<text x="364.0" y="570.3" font-size="12.1" text-anchor="middle" fill="#000" stroke="#000" stroke-width="0.25" >SDO/AIA 193A</text>
<text x="273.7" y="568.8" font-size="14" text-anchor="start" fill="#000" stroke="#000" stroke-width="0.25" >(k)</text>
<text x="293.2" y="717.7" font-size="10.0" text-anchor="end" fill="#000" stroke="#000" stroke-width="0.25" >150</text>
<text x="293.2" y="695.9" font-size="10.0" text-anchor="end" fill="#000" stroke="#000" stroke-width="0.25" >160</text>
<text x="293.2" y="674.2" font-size="10.0" text-anchor="end" fill="#000" stroke="#000" stroke-width="0.25" >170</text>
<text x="293.2" y="652.4" font-size="10.0" text-anchor="end" fill="#000" stroke="#000" stroke-width="0.25" >180</text>
<text x="293.2" y="630.6" font-size="10.0" text-anchor="end" fill="#000" stroke="#000" stroke-width="0.25" >190</text>
<text x="293.2" y="608.9" font-size="10.0" text-anchor="end" fill="#000" stroke="#000" stroke-width="0.25" >200</text>
<text x="293.2" y="587.1" font-size="10.0" text-anchor="end" fill="#000" stroke="#000" stroke-width="0.25" >210</text>
<text x="301.2" y="734.4" font-size="10.0" text-anchor="middle" fill="#000" stroke="#000" stroke-width="0.25" >-980</text>
<text x="322.3" y="734.4" font-size="10.0" text-anchor="middle" fill="#000" stroke="#000" stroke-width="0.25" >-970</text>
<text x="343.3" y="734.4" font-size="10.0" text-anchor="middle" fill="#000" stroke="#000" stroke-width="0.25" >-960</text>
<text x="364.4" y="734.4" font-size="10.0" text-anchor="middle" fill="#000" stroke="#000" stroke-width="0.25" >-950</text>
<text x="385.4" y="734.4" font-size="10.0" text-anchor="middle" fill="#000" stroke="#000" stroke-width="0.25" >-940</text>
<text x="406.4" y="734.4" font-size="10.0" text-anchor="middle" fill="#000" stroke="#000" stroke-width="0.25" >-930</text>
<text x="427.5" y="734.4" font-size="10.0" text-anchor="middle" fill="#000" stroke="#000" stroke-width="0.25" >-920</text>
<text transform="translate(268.5,647.4) rotate(-90)" font-size="10.0" text-anchor="middle" stroke="#000" stroke-width="0.25">Y (arcsec)</text>
<text x="364.0" y="748.0" font-size="10.0" text-anchor="middle" fill="#000" stroke="#000" stroke-width="0.25" >X (arcsec)</text>
<clipPath id="cl"><rect x="461.5" y="577" width="133.5" height="140"/></clipPath>
<g clip-path="url(#cl)">
<polygon points="580.4,572.0 554.8,722.0 600,722 600,572" fill="url(#dotk)"/>
<polyline points="580.4,572.0 554.8,722.0" fill="none" stroke="#111" stroke-width="1.45"/>
</g>
<g filter="url(#bl13)"><line x1="548" y1="622" x2="528" y2="654" stroke="#d0d0d0" stroke-width="4" stroke-linecap="round"/><line x1="543" y1="630" x2="530" y2="651" stroke="#606060" stroke-width="4" stroke-linecap="round"/><line x1="540" y1="635" x2="533" y2="646" stroke="#202020" stroke-width="3.5" stroke-linecap="round"/></g>
<circle cx="521.5" cy="652.0" r="13" fill="none" fill-opacity="1" stroke="#2a2ad0" stroke-width="1.1"/>
<circle cx="521.5" cy="652.0" r="9.3" fill="none" fill-opacity="1" stroke="#2a2ad0" stroke-width="1.1"/>
<circle cx="521.5" cy="652.0" r="6" fill="none" fill-opacity="1" stroke="#2a2ad0" stroke-width="1.1"/>
<circle cx="521.5" cy="652.0" r="3.5" fill="none" fill-opacity="1" stroke="#2a2ad0" stroke-width="1.1"/>
<path d="M539.0,630.0C537.9,630.2 536.2,631.1 535.0,632.0C533.8,632.9 532.5,634.3 531.5,635.5C530.5,636.7 530.1,638.0 529.0,639.0C527.9,640.0 526.3,640.7 525.0,641.5C523.7,642.3 522.0,642.9 521.0,644.0C520.0,645.1 519.4,646.3 519.2,648.0C519.0,649.7 519.4,652.0 520.0,654.0C520.6,656.0 522.1,658.2 522.8,660.0C523.5,661.8 523.9,663.2 524.2,665.0C524.5,666.8 524.2,669.4 524.8,671.0C525.3,672.6 526.3,673.8 527.5,674.5C528.7,675.2 530.6,675.6 532.0,675.5C533.4,675.4 535.0,675.1 536.0,674.0C537.0,672.9 537.4,671.0 537.8,669.0C538.2,667.0 538.1,664.0 538.2,662.0C538.3,660.0 538.1,659.0 538.5,657.0C538.9,655.0 539.9,652.3 540.5,650.0C541.1,647.7 541.8,645.5 542.2,643.0C542.6,640.5 542.9,637.0 542.8,635.0C542.7,633.0 542.1,631.6 541.5,630.8C540.9,630.0 540.1,629.8 539.0,630.0Z" fill="none" stroke="#e02020" stroke-width="1.0"/>
<path d="M534.5,641.5C535.1,642.8 535.2,646.9 535.2,650.0C535.2,653.1 534.9,657.2 534.6,660.0C534.3,662.8 534.1,665.3 533.5,666.8C532.9,668.3 532.0,668.9 531.2,669.2C530.4,669.5 529.3,669.4 528.5,668.8C527.7,668.2 527.1,667.0 526.6,665.8C526.1,664.6 526.4,663.1 525.8,661.8C525.2,660.5 524.2,659.0 523.2,657.8C522.2,656.6 520.8,655.8 520.0,654.5C519.2,653.2 518.5,651.4 518.6,650.0C518.7,648.6 519.6,647.2 520.8,646.2C522.0,645.2 524.0,644.7 525.8,644.0C527.6,643.3 530.3,642.6 531.8,642.2C533.2,641.8 533.9,640.2 534.5,641.5Z" fill="none" stroke="#e02020" stroke-width="1.0"/>
<ellipse cx="522.5" cy="652" rx="4.5" ry="5.2" fill="none" stroke="#e02020" stroke-width="1"/>
<ellipse cx="523.5" cy="652" rx="2.4" ry="2.8" fill="none" stroke="#e02020" stroke-width="1"/>
<rect x="461.5" y="577" width="133.5" height="140" fill="none" stroke="#333" stroke-width="1.3"/>
<path d="M465.6,717v-3.5M465.6,577v3.5M486.4,717v-3.5M486.4,577v3.5M507.2,717v-3.5M507.2,577v3.5M528.0,717v-3.5M528.0,577v3.5M548.8,717v-3.5M548.8,577v3.5M569.6,717v-3.5M569.6,577v3.5M590.4,717v-3.5M590.4,577v3.5M463.5,717v-2M463.5,577v2M467.7,717v-2M467.7,577v2M469.8,717v-2M469.8,577v2M471.8,717v-2M471.8,577v2M473.9,717v-2M473.9,577v2M476.0,717v-2M476.0,577v2M478.1,717v-2M478.1,577v2M480.2,717v-2M480.2,577v2M482.2,717v-2M482.2,577v2M484.3,717v-2M484.3,577v2M488.5,717v-2M488.5,577v2M490.6,717v-2M490.6,577v2M492.6,717v-2M492.6,577v2M494.7,717v-2M494.7,577v2M496.8,717v-2M496.8,577v2M498.9,717v-2M498.9,577v2M501.0,717v-2M501.0,577v2M503.0,717v-2M503.0,577v2M505.1,717v-2M505.1,577v2M509.3,717v-2M509.3,577v2M511.4,717v-2M511.4,577v2M513.4,717v-2M513.4,577v2M515.5,717v-2M515.5,577v2M517.6,717v-2M517.6,577v2M519.7,717v-2M519.7,577v2M521.8,717v-2M521.8,577v2M523.8,717v-2M523.8,577v2M525.9,717v-2M525.9,577v2M530.1,717v-2M530.1,577v2M532.2,717v-2M532.2,577v2M534.2,717v-2M534.2,577v2M536.3,717v-2M536.3,577v2M538.4,717v-2M538.4,577v2M540.5,717v-2M540.5,577v2M542.6,717v-2M542.6,577v2M544.6,717v-2M544.6,577v2M546.7,717v-2M546.7,577v2M550.9,717v-2M550.9,577v2M553.0,717v-2M553.0,577v2M555.0,717v-2M555.0,577v2M557.1,717v-2M557.1,577v2M559.2,717v-2M559.2,577v2M561.3,717v-2M561.3,577v2M563.4,717v-2M563.4,577v2M565.4,717v-2M565.4,577v2M567.5,717v-2M567.5,577v2M571.7,717v-2M571.7,577v2M573.8,717v-2M573.8,577v2M575.8,717v-2M575.8,577v2M577.9,717v-2M577.9,577v2M580.0,717v-2M580.0,577v2M582.1,717v-2M582.1,577v2M584.2,717v-2M584.2,577v2M586.2,717v-2M586.2,577v2M588.3,717v-2M588.3,577v2M592.5,717v-2M592.5,577v2M461.5,714.1h3.5M595,714.1h-3.5M461.5,692.3h3.5M595,692.3h-3.5M461.5,670.6h3.5M595,670.6h-3.5M461.5,648.8h3.5M595,648.8h-3.5M461.5,627.0h3.5M595,627.0h-3.5M461.5,605.2h3.5M595,605.2h-3.5M461.5,583.5h3.5M595,583.5h-3.5M461.5,716.3h2M595,716.3h-2M461.5,711.9h2M595,711.9h-2M461.5,709.7h2M595,709.7h-2M461.5,707.6h2M595,707.6h-2M461.5,705.4h2M595,705.4h-2M461.5,703.2h2M595,703.2h-2M461.5,701.0h2M595,701.0h-2M461.5,698.9h2M595,698.9h-2M461.5,696.7h2M595,696.7h-2M461.5,694.5h2M595,694.5h-2M461.5,690.2h2M595,690.2h-2M461.5,688.0h2M595,688.0h-2M461.5,685.8h2M595,685.8h-2M461.5,683.6h2M595,683.6h-2M461.5,681.4h2M595,681.4h-2M461.5,679.3h2M595,679.3h-2M461.5,677.1h2M595,677.1h-2M461.5,674.9h2M595,674.9h-2M461.5,672.7h2M595,672.7h-2M461.5,668.4h2M595,668.4h-2M461.5,666.2h2M595,666.2h-2M461.5,664.0h2M595,664.0h-2M461.5,661.9h2M595,661.9h-2M461.5,659.7h2M595,659.7h-2M461.5,657.5h2M595,657.5h-2M461.5,655.3h2M595,655.3h-2M461.5,653.1h2M595,653.1h-2M461.5,651.0h2M595,651.0h-2M461.5,646.6h2M595,646.6h-2M461.5,644.4h2M595,644.4h-2M461.5,642.3h2M595,642.3h-2M461.5,640.1h2M595,640.1h-2M461.5,637.9h2M595,637.9h-2M461.5,635.7h2M595,635.7h-2M461.5,633.6h2M595,633.6h-2M461.5,631.4h2M595,631.4h-2M461.5,629.2h2M595,629.2h-2M461.5,624.8h2M595,624.8h-2M461.5,622.7h2M595,622.7h-2M461.5,620.5h2M595,620.5h-2M461.5,618.3h2M595,618.3h-2M461.5,616.1h2M595,616.1h-2M461.5,614.0h2M595,614.0h-2M461.5,611.8h2M595,611.8h-2M461.5,609.6h2M595,609.6h-2M461.5,607.4h2M595,607.4h-2M461.5,603.1h2M595,603.1h-2M461.5,600.9h2M595,600.9h-2M461.5,598.7h2M595,598.7h-2M461.5,596.5h2M595,596.5h-2M461.5,594.4h2M595,594.4h-2M461.5,592.2h2M595,592.2h-2M461.5,590.0h2M595,590.0h-2M461.5,587.8h2M595,587.8h-2M461.5,585.7h2M595,585.7h-2M461.5,581.3h2M595,581.3h-2M461.5,579.1h2M595,579.1h-2" stroke="#222" stroke-width="0.9" fill="none"/>
<text x="482.0" y="699.6" font-size="9.4" text-anchor="start" fill="#e02a20" stroke="#e02a20" stroke-width="0.25" xml:space="preserve">RHESSI  6-12 keV</text>
<text x="482.0" y="709.9" font-size="9.4" text-anchor="start" fill="#2a2ac0" stroke="#2a2ac0" stroke-width="0.25" xml:space="preserve">RHESSI 40-60 keV</text>
<text x="528.2" y="570.3" font-size="12.1" text-anchor="middle" fill="#000" stroke="#000" stroke-width="0.25" >SDO/AIA, DEM at 24 MK</text>
<text x="438.2" y="568.8" font-size="14" text-anchor="start" fill="#000" stroke="#000" stroke-width="0.25" >(l)</text>
<text x="457.8" y="717.7" font-size="10.0" text-anchor="end" fill="#000" stroke="#000" stroke-width="0.25" >150</text>
<text x="457.8" y="695.9" font-size="10.0" text-anchor="end" fill="#000" stroke="#000" stroke-width="0.25" >160</text>
<text x="457.8" y="674.2" font-size="10.0" text-anchor="end" fill="#000" stroke="#000" stroke-width="0.25" >170</text>
<text x="457.8" y="652.4" font-size="10.0" text-anchor="end" fill="#000" stroke="#000" stroke-width="0.25" >180</text>
<text x="457.8" y="630.6" font-size="10.0" text-anchor="end" fill="#000" stroke="#000" stroke-width="0.25" >190</text>
<text x="457.8" y="608.9" font-size="10.0" text-anchor="end" fill="#000" stroke="#000" stroke-width="0.25" >200</text>
<text x="457.8" y="587.1" font-size="10.0" text-anchor="end" fill="#000" stroke="#000" stroke-width="0.25" >210</text>
<text x="465.6" y="734.4" font-size="10.0" text-anchor="middle" fill="#000" stroke="#000" stroke-width="0.25" >-980</text>
<text x="486.4" y="734.4" font-size="10.0" text-anchor="middle" fill="#000" stroke="#000" stroke-width="0.25" >-970</text>
<text x="507.2" y="734.4" font-size="10.0" text-anchor="middle" fill="#000" stroke="#000" stroke-width="0.25" >-960</text>
<text x="528.0" y="734.4" font-size="10.0" text-anchor="middle" fill="#000" stroke="#000" stroke-width="0.25" >-950</text>
<text x="548.8" y="734.4" font-size="10.0" text-anchor="middle" fill="#000" stroke="#000" stroke-width="0.25" >-940</text>
<text x="569.6" y="734.4" font-size="10.0" text-anchor="middle" fill="#000" stroke="#000" stroke-width="0.25" >-930</text>
<text x="590.4" y="734.4" font-size="10.0" text-anchor="middle" fill="#000" stroke="#000" stroke-width="0.25" >-920</text>
<text x="528.0" y="748.0" font-size="10.0" text-anchor="middle" fill="#000" stroke="#000" stroke-width="0.25" >X (arcsec)</text>
<text x="438.2" y="196.8" font-size="14" text-anchor="start" fill="#000" stroke="#000" stroke-width="0.25" >(f)</text>
<text x="527.0" y="275.4" font-size="9.5" text-anchor="middle" fill="#000" stroke="#000" stroke-width="0.25" >DEM not available</text>
<text x="438.2" y="382.8" font-size="14" text-anchor="start" fill="#000" stroke="#000" stroke-width="0.25" >(i)</text>
<text x="527.0" y="461.4" font-size="9.5" text-anchor="middle" fill="#000" stroke="#000" stroke-width="0.25" >DEM not available</text>
</svg></body></html>
